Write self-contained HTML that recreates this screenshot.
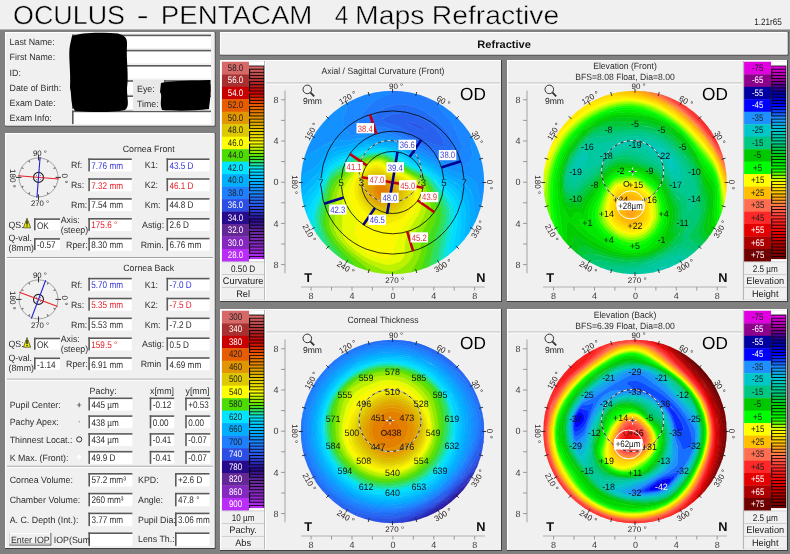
<!DOCTYPE html>
<html><head><meta charset="utf-8"><title>OCULUS - PENTACAM 4 Maps Refractive</title>
<style>html,body{margin:0;padding:0;background:#808080;}body{width:790px;height:554px;overflow:hidden;}
svg{display:block;fill:#2e2e2e;font-family:"Liberation Sans",Arial,sans-serif;font-size:9.1px;}</style></head>
<body><svg width="790" height="554" viewBox="0 0 790 554" text-rendering="geometricPrecision">
<rect x="0.0" y="0.0" width="790.0" height="554.0" fill="#808080"/>
<rect x="0.0" y="0.0" width="790.0" height="29.0" fill="#f0f0f0"/>
<line x1="0.0" y1="29.5" x2="790.0" y2="29.5" stroke="#b4b4b4" stroke-width="1"/>
<text x="13.0" y="24.2" font-size="26" fill="#000" textLength="112.0" lengthAdjust="spacingAndGlyphs" stroke="#f0f0f0" stroke-width="0.45">OCULUS</text>
<text x="136.5" y="24.2" font-size="26" fill="#000" textLength="12.3" lengthAdjust="spacingAndGlyphs" stroke="#f0f0f0" stroke-width="0.45">-</text>
<text x="160.8" y="24.2" font-size="26" fill="#000" textLength="151.6" lengthAdjust="spacingAndGlyphs" stroke="#f0f0f0" stroke-width="0.45">PENTACAM</text>
<text x="334.8" y="24.2" font-size="26" fill="#000" textLength="13.7" lengthAdjust="spacingAndGlyphs" stroke="#f0f0f0" stroke-width="0.45">4</text>
<text x="355.0" y="24.2" font-size="26" fill="#000" textLength="69.4" lengthAdjust="spacingAndGlyphs" stroke="#f0f0f0" stroke-width="0.45">Maps</text>
<text x="431.8" y="24.2" font-size="26" fill="#000" textLength="127.5" lengthAdjust="spacingAndGlyphs" stroke="#f0f0f0" stroke-width="0.45">Refractive</text>
<text x="754.2" y="24.6" font-size="9.4" fill="#222" textLength="27.6" lengthAdjust="spacingAndGlyphs">1.21r65</text>
<rect x="5.0" y="32.0" width="210.5" height="94.5" fill="#404040"/>
<rect x="5.0" y="32.0" width="209.5" height="93.5" fill="#ffffff"/>
<rect x="6.0" y="33.0" width="208.5" height="92.5" fill="#f0f0f0"/>
<text x="9.6" y="45.2" textLength="45.1" lengthAdjust="spacingAndGlyphs">Last Name:</text>
<text x="9.6" y="60.4" textLength="45.6" lengthAdjust="spacingAndGlyphs">First Name:</text>
<text x="9.6" y="75.6" textLength="11.3" lengthAdjust="spacingAndGlyphs">ID:</text>
<text x="9.6" y="90.8" textLength="51.5" lengthAdjust="spacingAndGlyphs">Date of Birth:</text>
<text x="9.6" y="106.0" textLength="46.1" lengthAdjust="spacingAndGlyphs">Exam Date:</text>
<text x="9.6" y="121.2" textLength="42.2" lengthAdjust="spacingAndGlyphs">Exam Info:</text>
<rect x="72.0" y="34.6" width="139.0" height="13.5" fill="#ffffff"/>
<rect x="72.0" y="34.6" width="139.0" height="1.6" fill="#5a5a5a"/>
<rect x="72.0" y="34.6" width="1.6" height="13.5" fill="#5a5a5a"/>
<rect x="72.0" y="49.8" width="139.0" height="13.5" fill="#ffffff"/>
<rect x="72.0" y="49.8" width="139.0" height="1.6" fill="#5a5a5a"/>
<rect x="72.0" y="49.8" width="1.6" height="13.5" fill="#5a5a5a"/>
<rect x="72.0" y="65.0" width="139.0" height="13.5" fill="#ffffff"/>
<rect x="72.0" y="65.0" width="139.0" height="1.6" fill="#5a5a5a"/>
<rect x="72.0" y="65.0" width="1.6" height="13.5" fill="#5a5a5a"/>
<rect x="72.0" y="80.2" width="61.0" height="13.5" fill="#ffffff"/>
<rect x="72.0" y="80.2" width="61.0" height="1.6" fill="#5a5a5a"/>
<rect x="72.0" y="80.2" width="1.6" height="13.5" fill="#5a5a5a"/>
<rect x="72.0" y="95.4" width="61.0" height="13.5" fill="#ffffff"/>
<rect x="72.0" y="95.4" width="61.0" height="1.6" fill="#5a5a5a"/>
<rect x="72.0" y="95.4" width="1.6" height="13.5" fill="#5a5a5a"/>
<rect x="72.0" y="110.6" width="139.0" height="13.5" fill="#ffffff"/>
<rect x="72.0" y="110.6" width="139.0" height="1.6" fill="#5a5a5a"/>
<rect x="72.0" y="110.6" width="1.6" height="13.5" fill="#5a5a5a"/>
<text x="137.0" y="91.5" textLength="17.7" lengthAdjust="spacingAndGlyphs">Eye:</text>
<text x="137.0" y="106.7" textLength="21.7" lengthAdjust="spacingAndGlyphs">Time:</text>
<rect x="133.0" y="80.0" width="31.0" height="31.0" fill="#e8e8e8"/>
<text x="137.0" y="91.5" textLength="17.7" lengthAdjust="spacingAndGlyphs">Eye:</text>
<text x="137.0" y="106.7" textLength="21.7" lengthAdjust="spacingAndGlyphs">Time:</text>
<rect x="164.0" y="80.2" width="47.0" height="13.5" fill="#ffffff"/>
<rect x="164.0" y="80.2" width="47.0" height="1.6" fill="#5a5a5a"/>
<rect x="164.0" y="80.2" width="1.6" height="13.5" fill="#5a5a5a"/>
<rect x="164.0" y="95.4" width="47.0" height="13.5" fill="#ffffff"/>
<rect x="164.0" y="95.4" width="47.0" height="1.6" fill="#5a5a5a"/>
<rect x="164.0" y="95.4" width="1.6" height="13.5" fill="#5a5a5a"/>
<path d="M72 36 C80 33 95 32 110 33 C122 33 128 36 127 45 C126 60 129 75 127 88 C127 100 130 106 125 110 C110 113 90 112 75 111 C70 104 72 95 70 88 C71 70 68 55 70 45 Z" fill="#000"/>
<path d="M161 83 C175 80 195 81 210 80 C212 88 210 100 209 109 C195 111 175 111 162 110 C159 102 163 96 160 92 Z" fill="#000"/>
<rect x="5.0" y="133.0" width="210.5" height="416.0" fill="#404040"/>
<rect x="5.0" y="133.0" width="209.5" height="415.0" fill="#ffffff"/>
<rect x="6.0" y="134.0" width="208.5" height="414.0" fill="#f0f0f0"/>
<line x1="7.0" y1="257.5" x2="213.0" y2="257.5" stroke="#a0a0a0" stroke-width="1"/>
<line x1="7.0" y1="258.5" x2="213.0" y2="258.5" stroke="#ffffff" stroke-width="1"/>
<line x1="7.0" y1="379.2" x2="213.0" y2="379.2" stroke="#a0a0a0" stroke-width="1"/>
<line x1="7.0" y1="380.2" x2="213.0" y2="380.2" stroke="#ffffff" stroke-width="1"/>
<line x1="7.0" y1="466.3" x2="213.0" y2="466.3" stroke="#a0a0a0" stroke-width="1"/>
<line x1="7.0" y1="467.3" x2="213.0" y2="467.3" stroke="#ffffff" stroke-width="1"/>
<circle cx="38.5" cy="177.4" r="19.5" fill="none" stroke="#8c8c8c" stroke-width="0.8"/>
<path d="M55.7 168.6 L54.7 166.9 L52.9 169.1 z" fill="#707070"/>
<path d="M49.0 161.2 L47.3 160.2 L46.8 163.0 z" fill="#707070"/>
<path d="M29.7 160.2 L28.0 161.2 L30.2 163.0 z" fill="#707070"/>
<path d="M22.3 166.9 L21.3 168.6 L24.1 169.1 z" fill="#707070"/>
<path d="M21.3 186.2 L22.3 187.9 L24.1 185.7 z" fill="#707070"/>
<path d="M28.0 193.6 L29.7 194.6 L30.2 191.8 z" fill="#707070"/>
<path d="M47.3 194.6 L49.0 193.6 L46.8 191.8 z" fill="#707070"/>
<path d="M54.7 187.9 L55.7 186.2 L52.9 185.7 z" fill="#707070"/>
<line x1="55.5" y1="177.4" x2="61.0" y2="177.4" stroke="#303030" stroke-width="1"/>
<line x1="38.5" y1="160.4" x2="38.5" y2="154.9" stroke="#303030" stroke-width="1"/>
<line x1="21.5" y1="177.4" x2="16.0" y2="177.4" stroke="#303030" stroke-width="1"/>
<line x1="38.5" y1="194.4" x2="38.5" y2="199.9" stroke="#303030" stroke-width="1"/>
<circle cx="38.5" cy="177.4" r="5" fill="none" stroke="#202020" stroke-width="1.1"/>
<rect x="36.1" y="175.0" width="0.8" height="0.8" fill="#555"/>
<rect x="40.1" y="175.0" width="0.8" height="0.8" fill="#555"/>
<rect x="36.1" y="179.0" width="0.8" height="0.8" fill="#555"/>
<rect x="40.1" y="179.0" width="0.8" height="0.8" fill="#555"/>
<line x1="58.9" y1="179.0" x2="18.1" y2="175.8" stroke="#e8202a" stroke-width="1.1"/>
<line x1="36.9" y1="197.8" x2="40.1" y2="157.0" stroke="#2020d0" stroke-width="1.1"/>
<text x="40.0" y="155.6" font-size="8" text-anchor="middle" fill="#222" textLength="13.9" lengthAdjust="spacingAndGlyphs">90 °</text>
<text x="40.0" y="205.8" font-size="8" text-anchor="middle" fill="#222" textLength="18.2" lengthAdjust="spacingAndGlyphs">270 °</text>
<text x="0" y="0" font-size="8" text-anchor="middle" fill="#222" transform="translate(10.3 178.4) rotate(90)">180 °</text>
<text x="0" y="0" font-size="8" text-anchor="middle" fill="#222" transform="translate(61.5 178.4) rotate(90)">0 °</text>
<text x="148.7" y="152.0" text-anchor="middle" textLength="52.0" lengthAdjust="spacingAndGlyphs">Cornea Front</text>
<rect x="88.3" y="158.4" width="43.5" height="13.0" fill="#ffffff"/>
<rect x="88.3" y="158.4" width="43.5" height="1.6" fill="#5a5a5a"/>
<rect x="88.3" y="158.4" width="1.6" height="13.0" fill="#5a5a5a"/>
<text x="91.3" y="168.7" font-size="9.6" fill="#3535d8" textLength="31.7" lengthAdjust="spacingAndGlyphs">7.76 mm</text>
<text x="71.0" y="168.4" textLength="11.3" lengthAdjust="spacingAndGlyphs">Rf:</text>
<rect x="166.5" y="158.4" width="43.0" height="13.0" fill="#ffffff"/>
<rect x="166.5" y="158.4" width="43.0" height="1.6" fill="#5a5a5a"/>
<rect x="166.5" y="158.4" width="1.6" height="13.0" fill="#5a5a5a"/>
<text x="169.5" y="168.7" font-size="9.6" fill="#3535d8" textLength="24.0" lengthAdjust="spacingAndGlyphs">43.5 D</text>
<text x="144.8" y="168.4" textLength="13.2" lengthAdjust="spacingAndGlyphs">K1:</text>
<rect x="88.3" y="178.2" width="43.5" height="13.0" fill="#ffffff"/>
<rect x="88.3" y="178.2" width="43.5" height="1.6" fill="#5a5a5a"/>
<rect x="88.3" y="178.2" width="1.6" height="13.0" fill="#5a5a5a"/>
<text x="91.3" y="188.6" font-size="9.6" fill="#e8202a" textLength="31.7" lengthAdjust="spacingAndGlyphs">7.32 mm</text>
<text x="71.0" y="188.2" textLength="13.2" lengthAdjust="spacingAndGlyphs">Rs:</text>
<rect x="166.5" y="178.2" width="43.0" height="13.0" fill="#ffffff"/>
<rect x="166.5" y="178.2" width="43.0" height="1.6" fill="#5a5a5a"/>
<rect x="166.5" y="178.2" width="1.6" height="13.0" fill="#5a5a5a"/>
<text x="169.5" y="188.6" font-size="9.6" fill="#e8202a" textLength="24.0" lengthAdjust="spacingAndGlyphs">46.1 D</text>
<text x="144.8" y="188.2" textLength="13.2" lengthAdjust="spacingAndGlyphs">K2:</text>
<rect x="88.3" y="198.1" width="43.5" height="13.0" fill="#ffffff"/>
<rect x="88.3" y="198.1" width="43.5" height="1.6" fill="#5a5a5a"/>
<rect x="88.3" y="198.1" width="1.6" height="13.0" fill="#5a5a5a"/>
<text x="91.3" y="208.4" font-size="9.6" textLength="31.7" lengthAdjust="spacingAndGlyphs">7.54 mm</text>
<text x="71.0" y="208.1" textLength="16.2" lengthAdjust="spacingAndGlyphs">Rm:</text>
<rect x="166.5" y="198.1" width="43.0" height="13.0" fill="#ffffff"/>
<rect x="166.5" y="198.1" width="43.0" height="1.6" fill="#5a5a5a"/>
<rect x="166.5" y="198.1" width="1.6" height="13.0" fill="#5a5a5a"/>
<text x="169.5" y="208.4" font-size="9.6" textLength="24.0" lengthAdjust="spacingAndGlyphs">44.8 D</text>
<text x="144.8" y="208.1" textLength="15.7" lengthAdjust="spacingAndGlyphs">Km:</text>
<rect x="88.3" y="218.0" width="43.5" height="13.0" fill="#ffffff"/>
<rect x="88.3" y="218.0" width="43.5" height="1.6" fill="#5a5a5a"/>
<rect x="88.3" y="218.0" width="1.6" height="13.0" fill="#5a5a5a"/>
<text x="91.3" y="228.3" font-size="9.6" fill="#e8202a" textLength="25.9" lengthAdjust="spacingAndGlyphs">175.6 °</text>
<rect x="166.5" y="218.0" width="43.0" height="13.0" fill="#ffffff"/>
<rect x="166.5" y="218.0" width="43.0" height="1.6" fill="#5a5a5a"/>
<rect x="166.5" y="218.0" width="1.6" height="13.0" fill="#5a5a5a"/>
<text x="169.5" y="228.3" font-size="9.6" textLength="19.5" lengthAdjust="spacingAndGlyphs">2.6 D</text>
<text x="142.0" y="228.0" textLength="22.1" lengthAdjust="spacingAndGlyphs">Astig:</text>
<rect x="88.3" y="237.8" width="43.5" height="13.0" fill="#ffffff"/>
<rect x="88.3" y="237.8" width="43.5" height="1.6" fill="#5a5a5a"/>
<rect x="88.3" y="237.8" width="1.6" height="13.0" fill="#5a5a5a"/>
<text x="91.3" y="248.1" font-size="9.6" textLength="31.7" lengthAdjust="spacingAndGlyphs">8.30 mm</text>
<text x="66.0" y="247.8" textLength="21.6" lengthAdjust="spacingAndGlyphs">Rper:</text>
<rect x="166.5" y="237.8" width="43.0" height="13.0" fill="#ffffff"/>
<rect x="166.5" y="237.8" width="43.0" height="1.6" fill="#5a5a5a"/>
<rect x="166.5" y="237.8" width="1.6" height="13.0" fill="#5a5a5a"/>
<text x="169.5" y="248.1" font-size="9.6" textLength="31.7" lengthAdjust="spacingAndGlyphs">6.76 mm</text>
<text x="140.7" y="247.8" textLength="23.0" lengthAdjust="spacingAndGlyphs">Rmin.</text>
<text x="60.7" y="223.0" textLength="19.1" lengthAdjust="spacingAndGlyphs">Axis:</text>
<text x="60.7" y="233.0" textLength="27.5" lengthAdjust="spacingAndGlyphs">(steep)</text>
<text x="8.5" y="228.0" textLength="15.2" lengthAdjust="spacingAndGlyphs">QS:</text>
<path d="M23.4 227.8 L27 218.2 L30.6 227.8 z" fill="#f0f000" stroke="#303030" stroke-width="0.7" stroke-linejoin="round"/>
<rect x="26.4" y="220.6" width="1.2" height="4.0" fill="#000"/>
<rect x="26.4" y="225.4" width="1.2" height="1.2" fill="#000"/>
<rect x="34.0" y="218.3" width="26.0" height="12.0" fill="#ffffff"/>
<rect x="34.0" y="218.3" width="26.0" height="1.6" fill="#5a5a5a"/>
<rect x="34.0" y="218.3" width="1.6" height="12.0" fill="#5a5a5a"/>
<text x="37.0" y="228.6" font-size="9.6" textLength="11.8" lengthAdjust="spacingAndGlyphs">OK</text>
<text x="8.5" y="241.3" textLength="23.5" lengthAdjust="spacingAndGlyphs">Q-val.</text>
<text x="8.5" y="251.3" textLength="25.5" lengthAdjust="spacingAndGlyphs">(8mm)</text>
<rect x="34.0" y="238.1" width="26.0" height="12.0" fill="#ffffff"/>
<rect x="34.0" y="238.1" width="26.0" height="1.6" fill="#5a5a5a"/>
<rect x="34.0" y="238.1" width="1.6" height="12.0" fill="#5a5a5a"/>
<text x="37.0" y="248.4" font-size="9.6" textLength="18.6" lengthAdjust="spacingAndGlyphs">-0.57</text>
<circle cx="38.5" cy="299.4" r="19.5" fill="none" stroke="#8c8c8c" stroke-width="0.8"/>
<path d="M55.7 290.6 L54.7 288.9 L52.9 291.1 z" fill="#707070"/>
<path d="M49.0 283.2 L47.3 282.2 L46.8 285.0 z" fill="#707070"/>
<path d="M29.7 282.2 L28.0 283.2 L30.2 285.0 z" fill="#707070"/>
<path d="M22.3 288.9 L21.3 290.6 L24.1 291.1 z" fill="#707070"/>
<path d="M21.3 308.2 L22.3 309.9 L24.1 307.7 z" fill="#707070"/>
<path d="M28.0 315.6 L29.7 316.6 L30.2 313.8 z" fill="#707070"/>
<path d="M47.3 316.6 L49.0 315.6 L46.8 313.8 z" fill="#707070"/>
<path d="M54.7 309.9 L55.7 308.2 L52.9 307.7 z" fill="#707070"/>
<line x1="55.5" y1="299.4" x2="61.0" y2="299.4" stroke="#303030" stroke-width="1"/>
<line x1="38.5" y1="282.4" x2="38.5" y2="276.9" stroke="#303030" stroke-width="1"/>
<line x1="21.5" y1="299.4" x2="16.0" y2="299.4" stroke="#303030" stroke-width="1"/>
<line x1="38.5" y1="316.4" x2="38.5" y2="321.9" stroke="#303030" stroke-width="1"/>
<circle cx="38.5" cy="299.4" r="5" fill="none" stroke="#202020" stroke-width="1.1"/>
<rect x="36.1" y="297.0" width="0.8" height="0.8" fill="#555"/>
<rect x="40.1" y="297.0" width="0.8" height="0.8" fill="#555"/>
<rect x="36.1" y="301.0" width="0.8" height="0.8" fill="#555"/>
<rect x="40.1" y="301.0" width="0.8" height="0.8" fill="#555"/>
<line x1="57.7" y1="306.6" x2="19.3" y2="292.2" stroke="#e8202a" stroke-width="1.1"/>
<line x1="31.3" y1="318.6" x2="45.7" y2="280.2" stroke="#2020d0" stroke-width="1.1"/>
<text x="40.0" y="277.6" font-size="8" text-anchor="middle" fill="#222" textLength="13.9" lengthAdjust="spacingAndGlyphs">90 °</text>
<text x="40.0" y="327.8" font-size="8" text-anchor="middle" fill="#222" textLength="18.2" lengthAdjust="spacingAndGlyphs">270 °</text>
<text x="0" y="0" font-size="8" text-anchor="middle" fill="#222" transform="translate(10.3 300.4) rotate(90)">180 °</text>
<text x="0" y="0" font-size="8" text-anchor="middle" fill="#222" transform="translate(61.5 300.4) rotate(90)">0 °</text>
<text x="148.7" y="271.4" text-anchor="middle" textLength="51.0" lengthAdjust="spacingAndGlyphs">Cornea Back</text>
<rect x="88.3" y="277.8" width="43.5" height="13.0" fill="#ffffff"/>
<rect x="88.3" y="277.8" width="43.5" height="1.6" fill="#5a5a5a"/>
<rect x="88.3" y="277.8" width="1.6" height="13.0" fill="#5a5a5a"/>
<text x="91.3" y="288.1" font-size="9.6" fill="#3535d8" textLength="31.7" lengthAdjust="spacingAndGlyphs">5.70 mm</text>
<text x="71.0" y="287.8" textLength="11.3" lengthAdjust="spacingAndGlyphs">Rf:</text>
<rect x="166.5" y="277.8" width="43.0" height="13.0" fill="#ffffff"/>
<rect x="166.5" y="277.8" width="43.0" height="1.6" fill="#5a5a5a"/>
<rect x="166.5" y="277.8" width="1.6" height="13.0" fill="#5a5a5a"/>
<text x="169.5" y="288.1" font-size="9.6" fill="#3535d8" textLength="22.2" lengthAdjust="spacingAndGlyphs">-7.0 D</text>
<text x="144.8" y="287.8" textLength="13.2" lengthAdjust="spacingAndGlyphs">K1:</text>
<rect x="88.3" y="297.7" width="43.5" height="13.0" fill="#ffffff"/>
<rect x="88.3" y="297.7" width="43.5" height="1.6" fill="#5a5a5a"/>
<rect x="88.3" y="297.7" width="1.6" height="13.0" fill="#5a5a5a"/>
<text x="91.3" y="308.0" font-size="9.6" fill="#e8202a" textLength="31.7" lengthAdjust="spacingAndGlyphs">5.35 mm</text>
<text x="71.0" y="307.7" textLength="13.2" lengthAdjust="spacingAndGlyphs">Rs:</text>
<rect x="166.5" y="297.7" width="43.0" height="13.0" fill="#ffffff"/>
<rect x="166.5" y="297.7" width="43.0" height="1.6" fill="#5a5a5a"/>
<rect x="166.5" y="297.7" width="1.6" height="13.0" fill="#5a5a5a"/>
<text x="169.5" y="308.0" font-size="9.6" fill="#e8202a" textLength="22.2" lengthAdjust="spacingAndGlyphs">-7.5 D</text>
<text x="144.8" y="307.7" textLength="13.2" lengthAdjust="spacingAndGlyphs">K2:</text>
<rect x="88.3" y="317.5" width="43.5" height="13.0" fill="#ffffff"/>
<rect x="88.3" y="317.5" width="43.5" height="1.6" fill="#5a5a5a"/>
<rect x="88.3" y="317.5" width="1.6" height="13.0" fill="#5a5a5a"/>
<text x="91.3" y="327.8" font-size="9.6" textLength="31.7" lengthAdjust="spacingAndGlyphs">5.53 mm</text>
<text x="71.0" y="327.5" textLength="16.2" lengthAdjust="spacingAndGlyphs">Rm:</text>
<rect x="166.5" y="317.5" width="43.0" height="13.0" fill="#ffffff"/>
<rect x="166.5" y="317.5" width="43.0" height="1.6" fill="#5a5a5a"/>
<rect x="166.5" y="317.5" width="1.6" height="13.0" fill="#5a5a5a"/>
<text x="169.5" y="327.8" font-size="9.6" textLength="22.2" lengthAdjust="spacingAndGlyphs">-7.2 D</text>
<text x="144.8" y="327.5" textLength="15.7" lengthAdjust="spacingAndGlyphs">Km:</text>
<rect x="88.3" y="337.4" width="43.5" height="13.0" fill="#ffffff"/>
<rect x="88.3" y="337.4" width="43.5" height="1.6" fill="#5a5a5a"/>
<rect x="88.3" y="337.4" width="1.6" height="13.0" fill="#5a5a5a"/>
<text x="91.3" y="347.7" font-size="9.6" fill="#e8202a" textLength="25.9" lengthAdjust="spacingAndGlyphs">159.5 °</text>
<rect x="166.5" y="337.4" width="43.0" height="13.0" fill="#ffffff"/>
<rect x="166.5" y="337.4" width="43.0" height="1.6" fill="#5a5a5a"/>
<rect x="166.5" y="337.4" width="1.6" height="13.0" fill="#5a5a5a"/>
<text x="169.5" y="347.7" font-size="9.6" textLength="19.5" lengthAdjust="spacingAndGlyphs">0.5 D</text>
<text x="142.0" y="347.4" textLength="22.1" lengthAdjust="spacingAndGlyphs">Astig:</text>
<rect x="88.3" y="357.2" width="43.5" height="13.0" fill="#ffffff"/>
<rect x="88.3" y="357.2" width="43.5" height="1.6" fill="#5a5a5a"/>
<rect x="88.3" y="357.2" width="1.6" height="13.0" fill="#5a5a5a"/>
<text x="91.3" y="367.5" font-size="9.6" textLength="31.7" lengthAdjust="spacingAndGlyphs">6.91 mm</text>
<text x="66.0" y="367.2" textLength="21.6" lengthAdjust="spacingAndGlyphs">Rper:</text>
<rect x="166.5" y="357.2" width="43.0" height="13.0" fill="#ffffff"/>
<rect x="166.5" y="357.2" width="43.0" height="1.6" fill="#5a5a5a"/>
<rect x="166.5" y="357.2" width="1.6" height="13.0" fill="#5a5a5a"/>
<text x="169.5" y="367.5" font-size="9.6" textLength="31.7" lengthAdjust="spacingAndGlyphs">4.69 mm</text>
<text x="140.7" y="367.2" textLength="20.6" lengthAdjust="spacingAndGlyphs">Rmin</text>
<text x="60.7" y="342.4" textLength="19.1" lengthAdjust="spacingAndGlyphs">Axis:</text>
<text x="60.7" y="352.4" textLength="27.5" lengthAdjust="spacingAndGlyphs">(steep)</text>
<text x="8.5" y="347.4" textLength="15.2" lengthAdjust="spacingAndGlyphs">QS:</text>
<path d="M23.4 347.2 L27 337.6 L30.6 347.2 z" fill="#f0f000" stroke="#303030" stroke-width="0.7" stroke-linejoin="round"/>
<rect x="26.4" y="340.0" width="1.2" height="4.0" fill="#000"/>
<rect x="26.4" y="344.8" width="1.2" height="1.2" fill="#000"/>
<rect x="34.0" y="337.7" width="26.0" height="12.0" fill="#ffffff"/>
<rect x="34.0" y="337.7" width="26.0" height="1.6" fill="#5a5a5a"/>
<rect x="34.0" y="337.7" width="1.6" height="12.0" fill="#5a5a5a"/>
<text x="37.0" y="348.0" font-size="9.6" textLength="11.8" lengthAdjust="spacingAndGlyphs">OK</text>
<text x="8.5" y="360.7" textLength="23.5" lengthAdjust="spacingAndGlyphs">Q-val.</text>
<text x="8.5" y="370.7" textLength="25.5" lengthAdjust="spacingAndGlyphs">(8mm)</text>
<rect x="34.0" y="357.5" width="26.0" height="12.0" fill="#ffffff"/>
<rect x="34.0" y="357.5" width="26.0" height="1.6" fill="#5a5a5a"/>
<rect x="34.0" y="357.5" width="1.6" height="12.0" fill="#5a5a5a"/>
<text x="37.0" y="367.8" font-size="9.6" textLength="18.6" lengthAdjust="spacingAndGlyphs">-1.14</text>
<text x="89.6" y="394.0" textLength="27.0" lengthAdjust="spacingAndGlyphs">Pachy:</text>
<text x="150.0" y="394.0" textLength="24.0" lengthAdjust="spacingAndGlyphs">x[mm]</text>
<text x="185.5" y="394.0" textLength="24.0" lengthAdjust="spacingAndGlyphs">y[mm]</text>
<text x="9.7" y="407.5" textLength="51.0" lengthAdjust="spacingAndGlyphs">Pupil Center:</text>
<rect x="88.4" y="397.5" width="44.0" height="13.0" fill="#ffffff"/>
<rect x="88.4" y="397.5" width="44.0" height="1.6" fill="#5a5a5a"/>
<rect x="88.4" y="397.5" width="1.6" height="13.0" fill="#5a5a5a"/>
<text x="91.4" y="407.8" font-size="9.6" textLength="27.4" lengthAdjust="spacingAndGlyphs">445 µm</text>
<rect x="149.7" y="397.5" width="24.5" height="13.0" fill="#ffffff"/>
<rect x="149.7" y="397.5" width="24.5" height="1.6" fill="#5a5a5a"/>
<rect x="149.7" y="397.5" width="1.6" height="13.0" fill="#5a5a5a"/>
<text x="152.7" y="407.8" font-size="9.6" textLength="18.6" lengthAdjust="spacingAndGlyphs">-0.12</text>
<rect x="185.2" y="397.5" width="25.0" height="13.0" fill="#ffffff"/>
<rect x="185.2" y="397.5" width="25.0" height="1.6" fill="#5a5a5a"/>
<rect x="185.2" y="397.5" width="1.6" height="13.0" fill="#5a5a5a"/>
<text x="188.2" y="407.8" font-size="9.6" textLength="20.6" lengthAdjust="spacingAndGlyphs">+0.53</text>
<text x="9.7" y="425.3" textLength="49.1" lengthAdjust="spacingAndGlyphs">Pachy Apex:</text>
<rect x="88.4" y="415.3" width="44.0" height="13.0" fill="#ffffff"/>
<rect x="88.4" y="415.3" width="44.0" height="1.6" fill="#5a5a5a"/>
<rect x="88.4" y="415.3" width="1.6" height="13.0" fill="#5a5a5a"/>
<text x="91.4" y="425.6" font-size="9.6" textLength="27.4" lengthAdjust="spacingAndGlyphs">438 µm</text>
<rect x="149.7" y="415.3" width="24.5" height="13.0" fill="#ffffff"/>
<rect x="149.7" y="415.3" width="24.5" height="1.6" fill="#5a5a5a"/>
<rect x="149.7" y="415.3" width="1.6" height="13.0" fill="#5a5a5a"/>
<text x="152.7" y="425.6" font-size="9.6" textLength="15.9" lengthAdjust="spacingAndGlyphs">0.00</text>
<rect x="185.2" y="415.3" width="25.0" height="13.0" fill="#ffffff"/>
<rect x="185.2" y="415.3" width="25.0" height="1.6" fill="#5a5a5a"/>
<rect x="185.2" y="415.3" width="1.6" height="13.0" fill="#5a5a5a"/>
<text x="188.2" y="425.6" font-size="9.6" textLength="15.9" lengthAdjust="spacingAndGlyphs">0.00</text>
<text x="9.7" y="443.1" textLength="62.8" lengthAdjust="spacingAndGlyphs">Thinnest Locat.:</text>
<rect x="88.4" y="433.1" width="44.0" height="13.0" fill="#ffffff"/>
<rect x="88.4" y="433.1" width="44.0" height="1.6" fill="#5a5a5a"/>
<rect x="88.4" y="433.1" width="1.6" height="13.0" fill="#5a5a5a"/>
<text x="91.4" y="443.4" font-size="9.6" textLength="27.4" lengthAdjust="spacingAndGlyphs">434 µm</text>
<rect x="149.7" y="433.1" width="24.5" height="13.0" fill="#ffffff"/>
<rect x="149.7" y="433.1" width="24.5" height="1.6" fill="#5a5a5a"/>
<rect x="149.7" y="433.1" width="1.6" height="13.0" fill="#5a5a5a"/>
<text x="152.7" y="443.4" font-size="9.6" textLength="18.6" lengthAdjust="spacingAndGlyphs">-0.41</text>
<rect x="185.2" y="433.1" width="25.0" height="13.0" fill="#ffffff"/>
<rect x="185.2" y="433.1" width="25.0" height="1.6" fill="#5a5a5a"/>
<rect x="185.2" y="433.1" width="1.6" height="13.0" fill="#5a5a5a"/>
<text x="188.2" y="443.4" font-size="9.6" textLength="18.6" lengthAdjust="spacingAndGlyphs">-0.07</text>
<text x="9.7" y="460.9" textLength="58.8" lengthAdjust="spacingAndGlyphs">K Max. (Front):</text>
<rect x="88.4" y="450.9" width="44.0" height="13.0" fill="#ffffff"/>
<rect x="88.4" y="450.9" width="44.0" height="1.6" fill="#5a5a5a"/>
<rect x="88.4" y="450.9" width="1.6" height="13.0" fill="#5a5a5a"/>
<text x="91.4" y="461.2" font-size="9.6" textLength="24.0" lengthAdjust="spacingAndGlyphs">49.9 D</text>
<rect x="149.7" y="450.9" width="24.5" height="13.0" fill="#ffffff"/>
<rect x="149.7" y="450.9" width="24.5" height="1.6" fill="#5a5a5a"/>
<rect x="149.7" y="450.9" width="1.6" height="13.0" fill="#5a5a5a"/>
<text x="152.7" y="461.2" font-size="9.6" textLength="18.6" lengthAdjust="spacingAndGlyphs">-0.41</text>
<rect x="185.2" y="450.9" width="25.0" height="13.0" fill="#ffffff"/>
<rect x="185.2" y="450.9" width="25.0" height="1.6" fill="#5a5a5a"/>
<rect x="185.2" y="450.9" width="1.6" height="13.0" fill="#5a5a5a"/>
<text x="188.2" y="461.2" font-size="9.6" textLength="18.6" lengthAdjust="spacingAndGlyphs">-0.07</text>
<text x="79.2" y="407.5" font-size="9" text-anchor="middle" fill="#111">+</text>
<rect x="78.7" y="421.3" width="1.0" height="1.0" fill="#666"/>
<circle cx="79.2" cy="439.4" r="2.6" fill="none" stroke="#222" stroke-width="0.9"/>
<path d="M79.2 454.4 l2.5 2.5 l-2.5 2.5 l-2.5 -2.5 z" fill="#ffffff"/>
<text x="9.7" y="483.0" textLength="63.3" lengthAdjust="spacingAndGlyphs">Cornea Volume:</text>
<rect x="88.4" y="473.0" width="44.0" height="13.5" fill="#ffffff"/>
<rect x="88.4" y="473.0" width="44.0" height="1.6" fill="#5a5a5a"/>
<rect x="88.4" y="473.0" width="1.6" height="13.5" fill="#5a5a5a"/>
<text x="91.4" y="483.3" font-size="9.6" textLength="34.5" lengthAdjust="spacingAndGlyphs">57.2 mm³</text>
<text x="138.0" y="483.0" textLength="20.6" lengthAdjust="spacingAndGlyphs">KPD:</text>
<rect x="175.0" y="473.0" width="34.5" height="13.5" fill="#ffffff"/>
<rect x="175.0" y="473.0" width="34.5" height="1.6" fill="#5a5a5a"/>
<rect x="175.0" y="473.0" width="1.6" height="13.5" fill="#5a5a5a"/>
<text x="178.0" y="483.3" font-size="9.6" textLength="24.3" lengthAdjust="spacingAndGlyphs">+2.6 D</text>
<text x="9.7" y="502.8" textLength="70.6" lengthAdjust="spacingAndGlyphs">Chamber Volume:</text>
<rect x="88.4" y="492.8" width="44.0" height="13.5" fill="#ffffff"/>
<rect x="88.4" y="492.8" width="44.0" height="1.6" fill="#5a5a5a"/>
<rect x="88.4" y="492.8" width="1.6" height="13.5" fill="#5a5a5a"/>
<text x="91.4" y="503.1" font-size="9.6" textLength="32.2" lengthAdjust="spacingAndGlyphs">260 mm³</text>
<text x="138.0" y="502.8" textLength="25.0" lengthAdjust="spacingAndGlyphs">Angle:</text>
<rect x="175.0" y="492.8" width="34.5" height="13.5" fill="#ffffff"/>
<rect x="175.0" y="492.8" width="34.5" height="1.6" fill="#5a5a5a"/>
<rect x="175.0" y="492.8" width="1.6" height="13.5" fill="#5a5a5a"/>
<text x="178.0" y="503.1" font-size="9.6" textLength="21.4" lengthAdjust="spacingAndGlyphs">47.8 °</text>
<text x="9.7" y="522.6" textLength="68.7" lengthAdjust="spacingAndGlyphs">A. C. Depth (Int.):</text>
<rect x="88.4" y="512.6" width="44.0" height="13.5" fill="#ffffff"/>
<rect x="88.4" y="512.6" width="44.0" height="1.6" fill="#5a5a5a"/>
<rect x="88.4" y="512.6" width="1.6" height="13.5" fill="#5a5a5a"/>
<text x="91.4" y="522.9" font-size="9.6" textLength="31.7" lengthAdjust="spacingAndGlyphs">3.77 mm</text>
<text x="138.0" y="522.6" textLength="37.8" lengthAdjust="spacingAndGlyphs">Pupil Dia:</text>
<rect x="175.0" y="512.6" width="34.5" height="13.5" fill="#ffffff"/>
<rect x="175.0" y="512.6" width="34.5" height="1.6" fill="#5a5a5a"/>
<rect x="175.0" y="512.6" width="1.6" height="13.5" fill="#5a5a5a"/>
<text x="178.0" y="522.9" font-size="9.6" textLength="31.7" lengthAdjust="spacingAndGlyphs">3.06 mm</text>
<rect x="88.4" y="532.4" width="44.0" height="13.5" fill="#ffffff"/>
<rect x="88.4" y="532.4" width="44.0" height="1.6" fill="#5a5a5a"/>
<rect x="88.4" y="532.4" width="1.6" height="13.5" fill="#5a5a5a"/>
<text x="91.4" y="542.7" font-size="9.6"></text>
<text x="138.0" y="542.4" textLength="36.6" lengthAdjust="spacingAndGlyphs">Lens Th.:</text>
<rect x="175.0" y="532.4" width="34.5" height="13.5" fill="#ffffff"/>
<rect x="175.0" y="532.4" width="34.5" height="1.6" fill="#5a5a5a"/>
<rect x="175.0" y="532.4" width="1.6" height="13.5" fill="#5a5a5a"/>
<text x="178.0" y="542.7" font-size="9.6"></text>
<rect x="9.3" y="533.0" width="42.0" height="12.5" fill="#404040"/>
<rect x="9.3" y="533.0" width="41.0" height="11.5" fill="#ffffff"/>
<rect x="10.3" y="534.0" width="40.0" height="10.5" fill="#f0f0f0"/>
<line x1="10.3" y1="544.0" x2="50.3" y2="544.0" stroke="#a0a0a0" stroke-width="1"/>
<text x="30.3" y="542.5" text-anchor="middle" textLength="38.8" lengthAdjust="spacingAndGlyphs">Enter IOP</text>
<text x="53.8" y="542.5" textLength="36.3" lengthAdjust="spacingAndGlyphs">IOP(Sum</text>
<rect x="220.0" y="32.0" width="568.5" height="23.5" fill="#404040"/>
<rect x="220.0" y="32.0" width="567.5" height="22.5" fill="#ffffff"/>
<rect x="221.0" y="33.0" width="566.5" height="21.5" fill="#f0f0f0"/>
<text x="477.3" y="47.8" font-size="10.8" font-weight="bold" fill="#111" textLength="53.6" lengthAdjust="spacingAndGlyphs">Refractive</text>
<rect x="220.0" y="60.0" width="282.0" height="242.0" fill="#404040"/>
<rect x="220.0" y="60.0" width="281.0" height="241.0" fill="#ffffff"/>
<rect x="221.0" y="61.0" width="280.0" height="240.0" fill="#f0f0f0"/>
<line x1="264.5" y1="61.0" x2="264.5" y2="300.0" stroke="#a8a8a8" stroke-width="1"/>
<line x1="265.5" y1="61.0" x2="265.5" y2="300.0" stroke="#ffffff" stroke-width="1"/>
<rect x="222.0" y="61.8" width="27.0" height="12.8" fill="#d66868"/>
<text x="235.5" y="70.9" font-size="9.5" text-anchor="middle" fill="#222222" textLength="15.3" lengthAdjust="spacingAndGlyphs">58.0</text>
<rect x="222.0" y="74.3" width="27.0" height="12.8" fill="#a83030"/>
<text x="235.5" y="83.4" font-size="9.5" text-anchor="middle" fill="#ffffff" textLength="15.3" lengthAdjust="spacingAndGlyphs">56.0</text>
<rect x="222.0" y="86.8" width="27.0" height="12.8" fill="#c80000"/>
<text x="235.5" y="95.9" font-size="9.5" text-anchor="middle" fill="#ffffff" textLength="15.3" lengthAdjust="spacingAndGlyphs">54.0</text>
<rect x="222.0" y="99.2" width="27.0" height="12.8" fill="#e85c00"/>
<text x="235.5" y="108.3" font-size="9.5" text-anchor="middle" fill="#222222" textLength="15.3" lengthAdjust="spacingAndGlyphs">52.0</text>
<rect x="222.0" y="111.7" width="27.0" height="12.8" fill="#e29600"/>
<text x="235.5" y="120.8" font-size="9.5" text-anchor="middle" fill="#222222" textLength="15.3" lengthAdjust="spacingAndGlyphs">50.0</text>
<rect x="222.0" y="124.2" width="27.0" height="12.8" fill="#dec800"/>
<text x="235.5" y="133.3" font-size="9.5" text-anchor="middle" fill="#222222" textLength="15.3" lengthAdjust="spacingAndGlyphs">48.0</text>
<rect x="222.0" y="136.7" width="27.0" height="12.8" fill="#ffff00"/>
<text x="235.5" y="145.8" font-size="9.5" text-anchor="middle" fill="#222222" textLength="15.3" lengthAdjust="spacingAndGlyphs">46.0</text>
<rect x="222.0" y="149.2" width="27.0" height="12.8" fill="#4cdc00"/>
<text x="235.5" y="158.3" font-size="9.5" text-anchor="middle" fill="#222222" textLength="15.3" lengthAdjust="spacingAndGlyphs">44.0</text>
<rect x="222.0" y="161.6" width="27.0" height="12.8" fill="#00e4ff"/>
<text x="235.5" y="170.7" font-size="9.5" text-anchor="middle" fill="#222222" textLength="15.3" lengthAdjust="spacingAndGlyphs">42.0</text>
<rect x="222.0" y="174.1" width="27.0" height="12.8" fill="#00b0ff"/>
<text x="235.5" y="183.2" font-size="9.5" text-anchor="middle" fill="#222222" textLength="15.3" lengthAdjust="spacingAndGlyphs">40.0</text>
<rect x="222.0" y="186.6" width="27.0" height="12.8" fill="#1e80ff"/>
<text x="235.5" y="195.7" font-size="9.5" text-anchor="middle" fill="#222222" textLength="15.3" lengthAdjust="spacingAndGlyphs">38.0</text>
<rect x="222.0" y="199.1" width="27.0" height="12.8" fill="#2c4ee4"/>
<text x="235.5" y="208.2" font-size="9.5" text-anchor="middle" fill="#ffffff" textLength="15.3" lengthAdjust="spacingAndGlyphs">36.0</text>
<rect x="222.0" y="211.6" width="27.0" height="12.8" fill="#280a8c"/>
<text x="235.5" y="220.7" font-size="9.5" text-anchor="middle" fill="#ffffff" textLength="15.3" lengthAdjust="spacingAndGlyphs">34.0</text>
<rect x="222.0" y="224.0" width="27.0" height="12.8" fill="#642896"/>
<text x="235.5" y="233.1" font-size="9.5" text-anchor="middle" fill="#ffffff" textLength="15.3" lengthAdjust="spacingAndGlyphs">32.0</text>
<rect x="222.0" y="236.5" width="27.0" height="12.8" fill="#8428c0"/>
<text x="235.5" y="245.6" font-size="9.5" text-anchor="middle" fill="#ffffff" textLength="15.3" lengthAdjust="spacingAndGlyphs">30.0</text>
<rect x="222.0" y="249.0" width="27.0" height="12.8" fill="#ba2cfa"/>
<text x="235.5" y="258.1" font-size="9.5" text-anchor="middle" fill="#ffffff" textLength="15.3" lengthAdjust="spacingAndGlyphs">28.0</text>
<rect x="249.0" y="61.8" width="15.2" height="199.7" fill="#ffffff"/>
<rect x="249.0" y="65.6" width="15.2" height="193.4" fill="#000000"/>
<rect x="249.0" y="66.4" width="14.6" height="2.3" fill="#d66868"/>
<rect x="250.1" y="69.6" width="13.5" height="2.3" fill="#cb5a5a"/>
<rect x="250.1" y="72.7" width="13.5" height="2.3" fill="#bf4c4c"/>
<rect x="250.1" y="75.8" width="13.5" height="2.3" fill="#b43f3f"/>
<rect x="249.0" y="78.9" width="14.6" height="2.3" fill="#a93131"/>
<rect x="250.1" y="82.0" width="13.5" height="2.3" fill="#af2525"/>
<rect x="250.1" y="85.2" width="13.5" height="2.3" fill="#b71919"/>
<rect x="250.1" y="88.3" width="13.5" height="2.3" fill="#bf0d0d"/>
<rect x="249.0" y="91.4" width="14.6" height="2.3" fill="#c70202"/>
<rect x="250.1" y="94.5" width="13.5" height="2.3" fill="#cf1400"/>
<rect x="250.1" y="97.6" width="13.5" height="2.3" fill="#d72a00"/>
<rect x="250.1" y="100.8" width="13.5" height="2.3" fill="#df4100"/>
<rect x="249.0" y="103.9" width="14.6" height="2.3" fill="#e65700"/>
<rect x="250.1" y="107.0" width="13.5" height="2.3" fill="#e76700"/>
<rect x="250.1" y="110.1" width="13.5" height="2.3" fill="#e57600"/>
<rect x="250.1" y="113.2" width="13.5" height="2.3" fill="#e48400"/>
<rect x="249.0" y="116.4" width="14.6" height="2.3" fill="#e29200"/>
<rect x="250.1" y="119.5" width="13.5" height="2.3" fill="#e19f00"/>
<rect x="250.1" y="122.6" width="13.5" height="2.3" fill="#e0ab00"/>
<rect x="250.1" y="125.7" width="13.5" height="2.3" fill="#dfb800"/>
<rect x="249.0" y="128.8" width="14.6" height="2.3" fill="#dec400"/>
<rect x="250.1" y="132.0" width="13.5" height="2.3" fill="#e3d100"/>
<rect x="250.1" y="135.1" width="13.5" height="2.3" fill="#ecdf00"/>
<rect x="250.1" y="138.2" width="13.5" height="2.3" fill="#f4ec00"/>
<rect x="249.0" y="141.3" width="14.6" height="2.3" fill="#fcfa00"/>
<rect x="250.1" y="144.4" width="13.5" height="2.3" fill="#e5fa00"/>
<rect x="250.1" y="147.6" width="13.5" height="2.3" fill="#b9f100"/>
<rect x="250.1" y="150.7" width="13.5" height="2.3" fill="#8de900"/>
<rect x="249.0" y="153.8" width="14.6" height="2.3" fill="#61e000"/>
<rect x="250.1" y="156.9" width="13.5" height="2.3" fill="#42dd21"/>
<rect x="250.1" y="160.0" width="13.5" height="2.3" fill="#2fdf60"/>
<rect x="250.1" y="163.2" width="13.5" height="2.3" fill="#1de19f"/>
<rect x="249.0" y="166.3" width="14.6" height="2.3" fill="#0ae3de"/>
<rect x="250.1" y="169.4" width="13.5" height="2.3" fill="#00deff"/>
<rect x="250.1" y="172.5" width="13.5" height="2.3" fill="#00d1ff"/>
<rect x="250.1" y="175.7" width="13.5" height="2.3" fill="#00c4ff"/>
<rect x="249.0" y="178.8" width="14.6" height="2.3" fill="#00b8ff"/>
<rect x="250.1" y="181.9" width="13.5" height="2.3" fill="#03abff"/>
<rect x="250.1" y="185.0" width="13.5" height="2.3" fill="#0a9fff"/>
<rect x="250.1" y="188.1" width="13.5" height="2.3" fill="#1294ff"/>
<rect x="249.0" y="191.2" width="14.6" height="2.3" fill="#1988ff"/>
<rect x="250.1" y="194.4" width="13.5" height="2.3" fill="#1f7cfd"/>
<rect x="250.1" y="197.5" width="13.5" height="2.3" fill="#2370f6"/>
<rect x="250.1" y="200.6" width="13.5" height="2.3" fill="#2663f0"/>
<rect x="249.0" y="203.7" width="14.6" height="2.3" fill="#2957e9"/>
<rect x="250.1" y="206.8" width="13.5" height="2.3" fill="#2c4ade"/>
<rect x="250.1" y="210.0" width="13.5" height="2.3" fill="#2b39c9"/>
<rect x="250.1" y="213.1" width="13.5" height="2.3" fill="#2a28b3"/>
<rect x="249.0" y="216.2" width="14.6" height="2.3" fill="#29179d"/>
<rect x="250.1" y="219.3" width="13.5" height="2.3" fill="#2b0b8c"/>
<rect x="250.1" y="222.4" width="13.5" height="2.3" fill="#3a138f"/>
<rect x="250.1" y="225.6" width="13.5" height="2.3" fill="#481a91"/>
<rect x="249.0" y="228.7" width="14.6" height="2.3" fill="#572294"/>
<rect x="250.1" y="231.8" width="13.5" height="2.3" fill="#652897"/>
<rect x="250.1" y="234.9" width="13.5" height="2.3" fill="#6d28a2"/>
<rect x="250.1" y="238.0" width="13.5" height="2.3" fill="#7528ac"/>
<rect x="249.0" y="241.2" width="14.6" height="2.3" fill="#7d28b6"/>
<rect x="250.1" y="244.3" width="13.5" height="2.3" fill="#8528c1"/>
<rect x="250.1" y="247.4" width="13.5" height="2.3" fill="#9229cf"/>
<rect x="250.1" y="250.5" width="13.5" height="2.3" fill="#9f2add"/>
<rect x="249.0" y="253.7" width="14.6" height="2.3" fill="#ad2bec"/>
<rect x="250.1" y="256.8" width="13.5" height="2.3" fill="#ba2cfa"/>
<rect x="222.0" y="261.5" width="42.2" height="12.8" fill="#c8c8c8"/>
<rect x="222.0" y="262.3" width="42.2" height="11.9" fill="#f0f0f0"/>
<text x="243.1" y="271.5" font-size="9.5" text-anchor="middle" fill="#222" textLength="24.1" lengthAdjust="spacingAndGlyphs">0.50 D</text>
<rect x="222.0" y="274.2" width="42.2" height="12.8" fill="#c8c8c8"/>
<rect x="222.0" y="275.0" width="42.2" height="11.9" fill="#f0f0f0"/>
<text x="243.1" y="284.2" font-size="9.5" text-anchor="middle" fill="#222" textLength="40.5" lengthAdjust="spacingAndGlyphs">Curvature</text>
<rect x="222.0" y="287.0" width="42.2" height="12.8" fill="#c8c8c8"/>
<rect x="222.0" y="287.8" width="42.2" height="11.9" fill="#f0f0f0"/>
<text x="243.1" y="297.0" font-size="9.5" text-anchor="middle" fill="#222" textLength="13.8" lengthAdjust="spacingAndGlyphs">Rel</text>
<text x="383.0" y="74.0" text-anchor="middle" textLength="122.8" lengthAdjust="spacingAndGlyphs">Axial / Sagittal Curvature (Front)</text>
<line x1="266.0" y1="83.0" x2="500.0" y2="83.0" stroke="#b8b8b8" stroke-width="1.2"/>
<line x1="266.0" y1="84.1" x2="500.0" y2="84.1" stroke="#ffffff" stroke-width="0.8"/>
<line x1="285.0" y1="90.5" x2="285.0" y2="273.3" stroke="#b0b0b0" stroke-width="1.2"/>
<line x1="281.0" y1="99.8" x2="285.0" y2="99.8" stroke="#909090" stroke-width="0.9"/>
<text x="278.5" y="103.0" font-size="9" text-anchor="end" fill="#3a3a3a">8</text>
<line x1="281.0" y1="120.4" x2="285.0" y2="120.4" stroke="#909090" stroke-width="0.9"/>
<line x1="281.0" y1="141.0" x2="285.0" y2="141.0" stroke="#909090" stroke-width="0.9"/>
<text x="278.5" y="144.2" font-size="9" text-anchor="end" fill="#3a3a3a">4</text>
<line x1="281.0" y1="161.6" x2="285.0" y2="161.6" stroke="#909090" stroke-width="0.9"/>
<line x1="281.0" y1="182.2" x2="285.0" y2="182.2" stroke="#909090" stroke-width="0.9"/>
<text x="278.5" y="185.4" font-size="9" text-anchor="end" fill="#3a3a3a">0</text>
<line x1="281.0" y1="202.8" x2="285.0" y2="202.8" stroke="#909090" stroke-width="0.9"/>
<line x1="281.0" y1="223.4" x2="285.0" y2="223.4" stroke="#909090" stroke-width="0.9"/>
<text x="278.5" y="226.6" font-size="9" text-anchor="end" fill="#3a3a3a">4</text>
<line x1="281.0" y1="244.0" x2="285.0" y2="244.0" stroke="#909090" stroke-width="0.9"/>
<line x1="281.0" y1="264.6" x2="285.0" y2="264.6" stroke="#909090" stroke-width="0.9"/>
<text x="278.5" y="267.8" font-size="9" text-anchor="end" fill="#3a3a3a">8</text>
<line x1="301.0" y1="287.0" x2="485.0" y2="287.0" stroke="#b0b0b0" stroke-width="1.2"/>
<line x1="311.1" y1="287.0" x2="311.1" y2="290.5" stroke="#909090" stroke-width="0.9"/>
<text x="311.1" y="299.3" font-size="9" text-anchor="middle" fill="#3a3a3a">8</text>
<line x1="331.5" y1="287.0" x2="331.5" y2="290.5" stroke="#909090" stroke-width="0.9"/>
<line x1="352.0" y1="287.0" x2="352.0" y2="290.5" stroke="#909090" stroke-width="0.9"/>
<text x="352.0" y="299.3" font-size="9" text-anchor="middle" fill="#3a3a3a">4</text>
<line x1="372.4" y1="287.0" x2="372.4" y2="290.5" stroke="#909090" stroke-width="0.9"/>
<line x1="392.9" y1="287.0" x2="392.9" y2="290.5" stroke="#909090" stroke-width="0.9"/>
<text x="392.9" y="299.3" font-size="9" text-anchor="middle" fill="#3a3a3a">0</text>
<line x1="413.3" y1="287.0" x2="413.3" y2="290.5" stroke="#909090" stroke-width="0.9"/>
<line x1="433.8" y1="287.0" x2="433.8" y2="290.5" stroke="#909090" stroke-width="0.9"/>
<text x="433.8" y="299.3" font-size="9" text-anchor="middle" fill="#3a3a3a">4</text>
<line x1="454.2" y1="287.0" x2="454.2" y2="290.5" stroke="#909090" stroke-width="0.9"/>
<line x1="474.7" y1="287.0" x2="474.7" y2="290.5" stroke="#909090" stroke-width="0.9"/>
<text x="474.7" y="299.3" font-size="9" text-anchor="middle" fill="#3a3a3a">8</text>
<text x="304.3" y="281.8" font-size="12.8" font-weight="bold" fill="#111">T</text>
<text x="476.2" y="281.8" font-size="12.8" font-weight="bold" fill="#111">N</text>
<text x="460.0" y="99.8" font-size="17.6" fill="#000" textLength="25.8" lengthAdjust="spacingAndGlyphs">OD</text>
<circle cx="307.3" cy="89.4" r="4.3" fill="none" stroke="#333" stroke-width="1"/>
<line x1="310.3" y1="92.4" x2="314.2" y2="96.3" stroke="#333" stroke-width="1.8"/>
<text x="312.5" y="103.7" font-size="8.8" text-anchor="middle" fill="#222" textLength="19.0" lengthAdjust="spacingAndGlyphs">9mm</text>
<clipPath id="c220_60"><circle cx="392.5" cy="182.5" r="91.7"/></clipPath>
<g clip-path="url(#c220_60)"><g transform="translate(392.5 182.5) scale(0.5)" stroke-width="1.2" stroke-linejoin="round">
<path fill="#2a54e7" stroke="#2a54e7" d="M30 -122l13 3 7 3 10 5 6 6-1 1-3 0-10-4-22-11-1-3z"/>
<path fill="#2761ee" stroke="#2761ee" d="M5 -138l17-1 16 3 16 6 16 9 14 11 11 13 6 13 2 8-1 3-5 1-38-12-11-5-24-16-10-6-11-4-23-7-2-2 6-6 11-5zM29 -122l1 3 22 11 10 4 3 0 1-1-6-6-10-5-9-4z"/>
<path fill="#236df5" stroke="#236df5" d="M0 -154l11-2 11 0 21 4 22 10 21 16 18 18 8 11 4 8 3 11 0 8-2 8-4 5-5 1-40-14-52-28-19-9-16-4-24-3-5-2 0-3 4-8 12-12 16-10zM4 -138l-12 4-9 4-5 6 2 2 23 7 11 4 10 6 24 16 11 5 38 12 5-1 1-3-2-8-6-13-11-13-14-11-16-9-19-6-16-3z"/>
<path fill="#207afc" stroke="#207afc" d="M3 -189l105 0-16 30-1 5 3 6 17 19 9 13 7 13 6 14 4 13 0 11-2 8-7 8-8 6-7 0-35-15-29-14-33-19-21-8-25-6-32 0-5-1-2-2 0-5 2-11 5-11 10-13 9-9 11-8 29-13 3-3 0-8zM-2 -154l-17 6-13 9-12 12-4 8 0 3 5 2 24 3 16 4 19 9 52 28 40 14 5-1 4-5 2-8 0-8-3-11-4-8-8-11-18-18-21-16-22-10-21-4-11 0z"/>
<path fill="#1a86ff" stroke="#1a86ff" d="M-108 -189l108 0 0 8-3 3-32 15-11 8-8 9-8 11-5 11-2 11 0 5 2 2 5 1 19 0 16 1 27 7 19 8 30 17 27 13 37 16 6 0 3-1 8-7 6-8 1-11-1-8-3-11-8-19-12-17-19-23-3-6 1-5 16-30 81 0 0 81-27 15-5 4-1 5 4 27-2 8-4 9-6 4-5 2-19 3-5-1-68-31-35-21-16-7-19-4-19-2-19 0-21 3-6-1-3-2-7-11-3-5-2-9 1-10 7-19 0-6-15-27z"/>
<path fill="#1392ff" stroke="#1392ff" d="M-186 -189l78 0 17 32 0 6-7 19-1 10 2 9 3 5 7 11 3 2 6 1 21-3 19 0 19 2 19 4 16 7 35 21 68 31 5 1 19-3 5-2 6-4 4-9 2-8-4-27 1-5 5-4 27-15 0 178-5-2-2-3-12-54-4-11-7-7-18-9-22-6-41-22-32-15-30-18-16-7-19-4-21-2-22 1-30 6-13-2-8 0-9 3-26 14-19 12-22 5 0-138z"/>
<path fill="#0b9eff" stroke="#0b9eff" d="M-57 -89l17-1 13 1 16 2 14 4 13 6 33 19 29 14 41 22 22 6 18 9 7 7 4 11 12 54 2 3 5 2 0 38-16-8-4-6-5-24-1-27-2-13-5-14-10-13-8-7-16-7-22-13-19-13-31-14-36-21-14-6-27-4-22-1-24 4-27 7-16 2-8 5-6 4-21 27-25 18-13 7 0-42 22-5 19-12 32-16 8-1 16 2z"/>
<path fill="#04aaff" stroke="#04aaff" d="M-62 -81l16-2 16 0 22 3 16 5 43 24 30 14 19 13 22 13 13 6 8 5 11 14 6 13 3 16 2 30 4 21 4 6 16 8 0 30-27-19-5-6-4-24 1-30-1-16-6-19-9-13-8-8-30-19-19-15-32-16-35-20-11-5-17-3-26-2-11 0-35 8-30 9-8 5-8 8-7 9-9 18-6 7-24 22-11 6 0-24 13-7 25-18 5-6 14-18 8-7 11-5 13-2z"/>
<path fill="#00b6ff" stroke="#00b6ff" d="M-59 -76l16-1 29 2 11 2 11 4 38 21 35 17 19 15 36 24 10 14 3 8 4 11 1 18-1 30 4 24 5 6 27 19 0 30-5-4-33-29-5-6-3-24 3-35-1-19-5-19-8-14-10-10-22-17-19-16-38-19-32-19-11-5-16-3-33-1-8 1-40 12-22 9-8 6-8 10-5 10-8 18-6 8-11 11-11 14-13 10 0-22 11-6 27-24 13-25 11-13 5-4 9-4 24-7z"/>
<path fill="#00c4ff" stroke="#00c4ff" d="M-62 -70l13-2 33 1 11 2 8 2 38 21 40 21 19 16 16 12 12 11 7 8 4 8 6 19 1 21-3 35 3 24 5 6 33 29 5 4 0 21-12 0-4-5-35-38-4-6-1-24 4-38 0-21-3-19-4-8-5-8-11-11-14-12-12-13-10-7-13-8-27-13-33-19-8-4-16-3-40 2-44 15-16 8-8 7-7 9-5 11-12 28-12 15-10 17-11 12-5 3 0-22 13-10 11-13 14-15 13-28 11-15 8-6 8-4z"/>
<path fill="#00d0ff" stroke="#00d0ff" d="M-24 -68l13 1 11 4 38 21 36 18 12 9 14 14 14 12 11 11 5 8 4 8 3 19 0 21-4 38 1 24 4 6 35 38 4 5-26 0-28-38-1-24 7-43 1-22-3-19-3-8-5-8-7-8-12-12-14-16-12-10-12-7-24-11-38-22-8-3-16-3-38 3-43 18-14 8-8 8-8 12-13 36-12 18-10 25-8 13-6 3-5 2 0-22 5-3 11-12 10-17 12-15 14-34 7-10 6-7 8-6 8-4 43-16 11-2z"/>
<path fill="#00deff" stroke="#00deff" d="M-59 -62l37-3 11 2 8 3 38 22 27 12 12 7 12 10 14 16 17 17 6 8 3 9 3 10 1 11-1 22-6 40-1 24 2 6 24 30 3 5-23 0-15-24-3-6 2-27 8-43 2-21-1-19-3-8-4-9-28-35-15-13-12-7-21-9-41-24-11-5-16 0-35 4-43 21-14 9-6 8-6 11-12 36-9 18-3 11-3 19-7 18-5 6-16 8 0-27 5-2 6-4 9-13 9-24 12-18 12-34 8-13 8-8 9-6 25-10 16-8z"/>
<path fill="#0ae3df" stroke="#0ae3df" d="M-46 -60l22-2 14 3 7 3 41 24 27 12 10 6 8 9 30 37 7 14 2 11 0 11-2 21-8 43-2 27 3 6 15 24-20 0-10-22 3-27 14-70 0-11-1-8-6-13-24-35-7-8-9-9-11-6-17-7-32-18-16-10-11-3-16 0-24 4-8 2-44 24-8 6-5 5-9 17-10 36-9 23-1 14 2 21-1 28-1 2-4 4-27 22-5 3 0-45 16-8 5-6 7-18 5-27 10-21 11-33 8-16 5-6 9-6 24-12 16-9 11-4z"/>
<path fill="#1ce19f" stroke="#1ce19f" d="M-43 -57l19-2 13 3 52 29 23 11 9 6 9 10 25 35 6 15 2 18-3 18-11 52-3 27 1 5 9 19-18 0-5-13 0-6 5-27 17-75-1-14-7-16-19-33-9-10-6-6-8-5-16-8-36-18-16-11-8-3-8 0-30 4-13 5-41 25-8 7-5 7-4 8-4 14-13 45-1 14 2 19 20 54 1 8-26 35-40 0 0-36 5-3 27-22 4-4 1-3 1-27-2-21 1-14 9-24 9-32 7-15 5-8 9-7 38-22 13-5z"/>
<path fill="#30df60" stroke="#30df60" d="M-43 -54l16-2 14 2 21 13 54 27 8 7 8 10 21 35 7 16 1 14-22 102 0 6 5 13-19 0-1-8 11-49 5-24 9-27 2-11 0-11-1-8-10-24-13-24-7-8-7-6-37-20-17-7-19-13-5-2-8-1-11 2-19 4-8 2-8 4-38 27-8 9-5 8-5 14-10 49-1 8 1 11 3 10 6 14 8 14 20 26 7 17 1 8-7 16-48 0 3-5 22-27 1-6-1-5-19-52-3-18 1-17 13-48 5-14 5-9 8-7 37-24 12-6z"/>
<path fill="#42dd20" stroke="#42dd20" d="M-40 -52l16-1 10 2 19 13 17 7 37 20 7 6 7 8 14 27 9 21 1 8 0 11-2 11-9 27-5 24-10 44-1 5 1 8-19 0 2-8 14-43 2-22 2-11 11-24 3-13 1-17-8-24-10-22-6-8-6-5-33-18-21-10-18-13-7-2-5 0-11 1-19 5-8 3-8 4-36 30-9 11-5 11-10 56 0 11 2 11 7 14 10 16 9 10 22 22 7 8 7 19-1 8-31 0 7-16-1-8-9-19-18-24-8-13-5-12-4-13-1-11 1-8 11-51 4-11 2-6 7-8 10-8 35-24 11-4z"/>
<path fill="#62e000" stroke="#62e000" d="M-40 -49l13-2 11 2 19 13 19 8 35 20 6 5 6 8 12 27 6 19-1 17-3 13-11 24-2 11-2 22-14 43-2 8-20 0 6-13 11-18 5-12 2-8-1-22 1-8 4-11 13-24 3-11 1-8-1-8-7-27-5-14-4-5-6-6-30-17-24-10-16-13-8-2-8 0-18 5-15 5-12 8-26 25-10 13-6 15-7 53 0 8 3 10 5 11 7 11 19 21 40 33 4 6 6 13-28 0 1-5 0-6-7-16-36-38-10-13-7-14-4-13 0-14 9-51 5-14 13-16 33-27 11-5z"/>
<path fill="#8fe900" stroke="#8fe900" d="M-41 -46l14-2 8 1 19 14 22 9 29 16 7 5 4 6 7 16 7 27 1 8-1 8-3 11-13 24-4 11-1 8 1 22-2 8-5 12-11 18-6 13-74 0-6-13-4-6-34-28-19-19-11-15-8-16-2-14 3-21 3-27 2-11 7-14 10-13 28-25 11-6zM-40 -43l-22 8-9 5-24 25-8 10-6 14-4 19-3 54 5 13 10 14 15 15 19 15 18 12 22 10 16 6 14 0 11-4 10-6 10-10 6-11 1-6-1-21 1-8 7-19 13-22 5-13 1-11-3-24-3-11-4-8-5-6-7-5-23-13-22-8-22-16-8 0z"/>
<path fill="#bcf200" stroke="#bcf200" d="M-38 -44l11-2 8 2 19 15 22 8 23 13 7 5 5 6 4 8 3 11 3 24-1 11-5 13-13 22-7 19-1 8 1 21-1 6-6 11-10 10-11 6-10 4-14 0-16-6-22-10-18-12-19-15-15-15-10-14-5-13 3-54 4-19 6-14 8-10 25-25 11-6zM-38 -40l-20 8-13 8-17 21-9 15-3 10 0 8 1 27-1 24 1 24 3 8 9 11 16 14 17 11 16 8 14 4 13 3 11-1 14-5 5-4 4-6 1-5 0-21 6-22 5-11 16-24 4-11 3-19-1-19-2-8-6-8-22-15-11-5-16-5-19-14-5-3-6 0z"/>
<path fill="#e9fb00" stroke="#e9fb00" d="M-38 -41l8-1 8 1 19 14 22 8 11 5 19 14 6 8 2 8 1 19-3 19-4 11-16 24-5 11-6 22 0 21-1 5-4 6-5 4-14 5-11 1-13-3-14-4-16-8-17-11-16-14-9-11-3-8-1-24 1-24-1-27 0-8 3-10 9-15 17-21 13-8zM-36 -38l-23 11-7 5-5 6-8 13-6 14-2 11 0 8 4 13 14 30 0 5-6 16-1 6 4 11 8 16 9 11 14 8 17 5 13 1 8-3 3-3 6-24 9-25 9-13 17-21 4-9 5-16 1-22-2-8-3-5-10-8-12-8-8-4-19-6-21-14-6-2z"/>
<path fill="#fbf800" stroke="#fbf800" d="M-35 -38l5-1 6 2 21 14 22 7 10 5 11 8 6 6 3 5 2 8-1 22-5 16-4 9-17 21-9 13-9 25-6 24-3 3-8 3-13-1-17-5-14-8-9-11-8-16-4-11 1-6 6-16 0-5-14-30-4-13 0-8 2-11 6-14 8-13 5-6 7-5zM-40 -32l-19 10-10 11-4 8-2 8 0 11 1 11 3 8 6 11 6 8 8 8 29 20 6 2 5-1 27-11 8-6 8-8 6-9 3-11 3-19-1-8-2-6-4-5-15-11-22-7-27-15-5-1z"/>
<path fill="#f3ea00" stroke="#f3ea00" d="M-38 -33l6-1 5 1 27 15 22 7 15 11 4 5 2 6 1 8-3 19-3 11-6 9-8 8-8 6-27 11-5 1-6-2-29-20-8-8-6-8-6-11-3-8-1-11 0-11 2-8 4-8 4-5 8-7zM-41 -27l-10 5-7 6-6 8-4 8-2 11 2 11 2 8 6 11 6 8 8 7 11 6 11 5 10 2 11 0 8-2 10-5 7-5 5-6 6-13 4-22-1-8-3-5-5-6-8-5-20-7-22-11-10-3z"/>
<path fill="#eadd00" stroke="#eadd00" d="M-40 -27l8-2 8 2 24 12 19 6 9 6 6 8 2 6 1 8-5 22-4 8-4 5-10 9-9 4-10 2-11-1-11-2-11-5-8-5-8-7-8-11-4-8-3-11 0-11 1-8 4-8 6-8 9-7zM-41 -22l-8 4-7 7-4 6-3 8-2 8 1 11 3 8 5 8 6 8 7 6 8 4 11 5 10 1 9 0 8-3 8-4 10-9 6-14 2-10 1-8-1-6-2-5-5-5-5-3-17-6-22-11-10-1z"/>
<path fill="#e2cf00" stroke="#e2cf00" d="M-40 -22l10-1 8 1 22 11 17 6 5 3 5 5 2 5 1 6-1 8-2 10-6 14-10 9-8 4-8 3-9 0-10-1-11-5-8-4-7-6-6-8-5-8-3-8-1-11 2-8 3-8 6-8 5-5zM-41 -16l-8 4-4 4-3 5-3 8-1 9 1 8 3 8 5 8 5 6 8 6 8 4 8 2 8 0 9-1 8-3 5-3 7-8 6-11 2-14 0-5-2-6-9-8-31-14-11-2z"/>
<path fill="#dec200" stroke="#dec200" d="M-40 -16l10-3 11 2 31 14 9 8 2 6 0 5-2 14-6 11-7 8-5 3-8 3-9 1-8 0-8-2-8-4-8-6-5-6-5-8-3-8-1-8 1-9 3-8 3-5 7-6zM-34 -14l-12 6-5 5-3 6-1 5-1 8 5 14 8 11 5 3 8 5 14 2 8-1 5-3 10-6 7-11 3-11-1-5-2-6-6-8-22-11-10-4z"/>
<path fill="#e0b500" stroke="#e0b500" d="M-32 -14l10 0 14 5 16 9 4 5 3 6 2 5 0 6-4 10-8 10-10 7-6 1-8 1-13-4-11-7-6-6-4-7-3-13 1-9 2-5 7-8zM-36 -8l-10 7-3 4-2 5 0 11 5 12 10 10 12 4 10 0 11-5 8-7 5-9-1-8-4-11-5-5-4-3-15-7-8-1z"/>
<path fill="#e0a900" stroke="#e0a900" d="M-35 -8l8-3 8 1 15 7 4 3 5 5 4 11 1 8-5 9-8 7-11 5-10 0-12-4-10-10-5-12 0-11 2-5 3-4zM-31 -5l-9 5-5 8-2 8 4 11 7 8 9 4 8 1 11-3 8-6 4-7 0-5-4-11-7-8-9-5-8-2z"/>
<path fill="#e29c00" stroke="#e29c00" d="M-30 -6l8-1 8 3 10 7 4 5 4 11 0 5-4 7-8 6-11 3-8-1-9-4-7-8-4-11 2-8 5-8zM-31 0l-6 5-4 9 1 8 4 5 6 5 8 2 8-1 9-5 3-4 0-5-3-8-4-6-7-5-6-2-5 0z"/>
<path fill="#e38f00" stroke="#e38f00" d="M-30 -1l6-1 5 1 7 4 4 3 4 8 2 8-2 5-3 3-7 3-8 1-8-2-6-5-4-8 0-8 5-8zM-29 5l-2 3-2 6 0 5 3 5 8 3 6 0 6-3 1-2 1-3-2-5-4-6-8-5-2 0z"/>
<path fill="#e48000" stroke="#e48000" d="M-27 4l5-1 8 5 4 6 2 5-1 3-2 3-5 2-6 0-5-1-4-4-2-6 0-5 3-5zM-22 14l0 2 3 1-2-3z"/>
<path fill="#e67200" stroke="#e67200" d="M-22 13l3 2 0 2-3-1z"/>
</g></g>
<line x1="482.2" y1="182.5" x2="486.2" y2="182.5" stroke="#222" stroke-width="0.9"/>
<line x1="479.1" y1="159.3" x2="483.0" y2="158.2" stroke="#222" stroke-width="0.9"/>
<line x1="470.2" y1="137.7" x2="473.6" y2="135.7" stroke="#222" stroke-width="0.9"/>
<line x1="455.9" y1="119.1" x2="458.8" y2="116.2" stroke="#222" stroke-width="0.9"/>
<line x1="437.4" y1="104.8" x2="439.4" y2="101.4" stroke="#222" stroke-width="0.9"/>
<line x1="415.7" y1="95.9" x2="416.8" y2="92.0" stroke="#222" stroke-width="0.9"/>
<line x1="392.5" y1="92.8" x2="392.5" y2="88.8" stroke="#222" stroke-width="0.9"/>
<line x1="369.3" y1="95.9" x2="368.2" y2="92.0" stroke="#222" stroke-width="0.9"/>
<line x1="347.7" y1="104.8" x2="345.7" y2="101.4" stroke="#222" stroke-width="0.9"/>
<line x1="329.1" y1="119.1" x2="326.2" y2="116.2" stroke="#222" stroke-width="0.9"/>
<line x1="314.8" y1="137.7" x2="311.4" y2="135.7" stroke="#222" stroke-width="0.9"/>
<line x1="305.9" y1="159.3" x2="302.0" y2="158.2" stroke="#222" stroke-width="0.9"/>
<line x1="302.8" y1="182.5" x2="298.8" y2="182.5" stroke="#222" stroke-width="0.9"/>
<line x1="305.9" y1="205.7" x2="302.0" y2="206.8" stroke="#222" stroke-width="0.9"/>
<line x1="314.8" y1="227.4" x2="311.4" y2="229.4" stroke="#222" stroke-width="0.9"/>
<line x1="329.1" y1="245.9" x2="326.2" y2="248.8" stroke="#222" stroke-width="0.9"/>
<line x1="347.6" y1="260.2" x2="345.6" y2="263.6" stroke="#222" stroke-width="0.9"/>
<line x1="369.3" y1="269.1" x2="368.2" y2="273.0" stroke="#222" stroke-width="0.9"/>
<line x1="392.5" y1="272.2" x2="392.5" y2="276.2" stroke="#222" stroke-width="0.9"/>
<line x1="415.7" y1="269.1" x2="416.8" y2="273.0" stroke="#222" stroke-width="0.9"/>
<line x1="437.4" y1="260.2" x2="439.4" y2="263.6" stroke="#222" stroke-width="0.9"/>
<line x1="455.9" y1="245.9" x2="458.8" y2="248.8" stroke="#222" stroke-width="0.9"/>
<line x1="470.2" y1="227.4" x2="473.6" y2="229.4" stroke="#222" stroke-width="0.9"/>
<line x1="479.1" y1="205.7" x2="483.0" y2="206.8" stroke="#222" stroke-width="0.9"/>
<text x="2.2" y="2.8" font-size="8" text-anchor="middle" fill="#2e2222" transform="translate(489.7 182.5) rotate(90)">0 °</text>
<text x="3.6" y="2.8" font-size="8" text-anchor="middle" fill="#2e2222" transform="translate(475.6 134.6) rotate(60)">30 °</text>
<text x="3.6" y="2.8" font-size="8" text-anchor="middle" fill="#2e2222" transform="translate(440.4 99.4) rotate(30)">60 °</text>
<text x="3.6" y="2.8" font-size="8" text-anchor="middle" fill="#2e2222" transform="translate(392.5 86.6) rotate(0)">90 °</text>
<text x="3.6" y="2.8" font-size="8" text-anchor="middle" fill="#2e2222" transform="translate(344.6 99.4) rotate(-30)">120 °</text>
<text x="3.6" y="2.8" font-size="8" text-anchor="middle" fill="#2e2222" transform="translate(309.4 134.6) rotate(-60)">150 °</text>
<text x="2.2" y="2.8" font-size="8" text-anchor="middle" fill="#2e2222" transform="translate(295.3 182.5) rotate(90)">180 °</text>
<text x="2.2" y="2.8" font-size="8" text-anchor="middle" fill="#2e2222" transform="translate(308.3 231.1) rotate(60)">210 °</text>
<text x="2.2" y="2.8" font-size="8" text-anchor="middle" fill="#2e2222" transform="translate(343.9 266.7) rotate(30)">240 °</text>
<text x="2.2" y="2.8" font-size="8" text-anchor="middle" fill="#2e2222" transform="translate(392.5 279.7) rotate(0)">270 °</text>
<text x="2.2" y="2.8" font-size="8" text-anchor="middle" fill="#2e2222" transform="translate(441.1 266.7) rotate(-30)">300 °</text>
<text x="2.2" y="2.8" font-size="8" text-anchor="middle" fill="#2e2222" transform="translate(476.7 231.1) rotate(-60)">330 °</text>
<circle cx="392.5" cy="182.5" r="31.0" fill="none" stroke="#000" stroke-width="0.8" stroke-dasharray="89.39 8.00" stroke-dashoffset="93.39"/>
<circle cx="392.5" cy="182.5" r="51.3" fill="none" stroke="#000" stroke-width="0.8" stroke-dasharray="153.16 8.00" stroke-dashoffset="157.16"/>
<circle cx="392.5" cy="182.5" r="71.6" fill="none" stroke="#000" stroke-width="0.8" stroke-dasharray="216.94 8.00" stroke-dashoffset="220.94"/>
<circle cx="390.1" cy="171.5" r="31" fill="none" stroke="#303030" stroke-width="0.9"/>
<circle cx="390.1" cy="171.5" r="31" fill="none" stroke="#f4f4f4" stroke-width="0.9" stroke-dasharray="3.5 3"/>
<text x="361.5" y="185.9" font-size="9.6" text-anchor="middle" fill="#111">3</text>
<text x="423.5" y="185.9" font-size="9.6" text-anchor="middle" fill="#111">3</text>
<text x="341.2" y="185.9" font-size="9.6" text-anchor="middle" fill="#111">5</text>
<text x="443.8" y="185.9" font-size="9.6" text-anchor="middle" fill="#111">5</text>
<text x="320.9" y="185.9" font-size="9.6" text-anchor="middle" fill="#111">7</text>
<text x="464.1" y="185.9" font-size="9.6" text-anchor="middle" fill="#111">7</text>
<line x1="392.5" y1="182.5" x2="361.9" y2="177.3" stroke="#c00010" stroke-width="2.6"/>
<line x1="392.5" y1="182.5" x2="423.1" y2="187.7" stroke="#c00010" stroke-width="2.6"/>
<line x1="392.5" y1="182.5" x2="397.5" y2="151.9" stroke="#00008c" stroke-width="2.6"/>
<line x1="392.5" y1="182.5" x2="387.1" y2="214.0" stroke="#00008c" stroke-width="2.6"/>
<line x1="366.7" y1="165.3" x2="349.7" y2="153.9" stroke="#c00010" stroke-width="2.6"/>
<line x1="417.8" y1="200.5" x2="434.5" y2="212.3" stroke="#c00010" stroke-width="2.6"/>
<line x1="409.8" y1="156.8" x2="421.3" y2="139.8" stroke="#00008c" stroke-width="2.6"/>
<line x1="374.9" y1="208.0" x2="363.3" y2="224.9" stroke="#00008c" stroke-width="2.6"/>
<line x1="376.5" y1="134.1" x2="370.0" y2="114.5" stroke="#c00010" stroke-width="2.6"/>
<line x1="407.2" y1="231.3" x2="413.1" y2="251.1" stroke="#c00010" stroke-width="2.6"/>
<line x1="441.2" y1="167.4" x2="460.9" y2="161.3" stroke="#00008c" stroke-width="2.6"/>
<line x1="343.8" y1="197.6" x2="324.1" y2="203.7" stroke="#00008c" stroke-width="2.6"/>
<rect x="356.5" y="123.1" width="17.5" height="10.2" fill="#ffffff"/>
<text x="365.2" y="131.5" font-size="9.2" text-anchor="middle" fill="#e0303a" textLength="15.0" lengthAdjust="spacingAndGlyphs">38.4</text>
<rect x="345.3" y="162.0" width="17.5" height="10.2" fill="#ffffff"/>
<text x="354.1" y="170.4" font-size="9.2" text-anchor="middle" fill="#e0303a" textLength="15.0" lengthAdjust="spacingAndGlyphs">41.1</text>
<rect x="368.1" y="174.9" width="17.5" height="10.2" fill="#ffffff"/>
<text x="376.9" y="183.3" font-size="9.2" text-anchor="middle" fill="#e0303a" textLength="15.0" lengthAdjust="spacingAndGlyphs">47.0</text>
<rect x="399.0" y="180.1" width="17.5" height="10.2" fill="#ffffff"/>
<text x="407.8" y="188.5" font-size="9.2" text-anchor="middle" fill="#e0303a" textLength="15.0" lengthAdjust="spacingAndGlyphs">45.0</text>
<rect x="420.8" y="192.0" width="17.5" height="10.2" fill="#ffffff"/>
<text x="429.6" y="200.4" font-size="9.2" text-anchor="middle" fill="#e0303a" textLength="15.0" lengthAdjust="spacingAndGlyphs">43.9</text>
<rect x="410.5" y="232.3" width="17.5" height="10.2" fill="#ffffff"/>
<text x="419.2" y="240.7" font-size="9.2" text-anchor="middle" fill="#e0303a" textLength="15.0" lengthAdjust="spacingAndGlyphs">45.2</text>
<rect x="386.5" y="162.2" width="17.5" height="10.2" fill="#ffffff"/>
<text x="395.2" y="170.6" font-size="9.2" text-anchor="middle" fill="#3c3cd0" textLength="15.0" lengthAdjust="spacingAndGlyphs">39.4</text>
<rect x="381.1" y="192.7" width="17.5" height="10.2" fill="#ffffff"/>
<text x="389.9" y="201.1" font-size="9.2" text-anchor="middle" fill="#3c3cd0" textLength="15.0" lengthAdjust="spacingAndGlyphs">48.0</text>
<rect x="398.5" y="139.7" width="17.5" height="10.2" fill="#ffffff"/>
<text x="407.2" y="148.1" font-size="9.2" text-anchor="middle" fill="#3c3cd0" textLength="15.0" lengthAdjust="spacingAndGlyphs">36.6</text>
<rect x="438.8" y="150.0" width="17.5" height="10.2" fill="#ffffff"/>
<text x="447.6" y="158.4" font-size="9.2" text-anchor="middle" fill="#3c3cd0" textLength="15.0" lengthAdjust="spacingAndGlyphs">38.0</text>
<rect x="329.0" y="204.5" width="17.5" height="10.2" fill="#ffffff"/>
<text x="337.8" y="212.9" font-size="9.2" text-anchor="middle" fill="#3c3cd0" textLength="15.0" lengthAdjust="spacingAndGlyphs">42.3</text>
<rect x="368.5" y="214.8" width="17.5" height="10.2" fill="#ffffff"/>
<text x="377.2" y="223.2" font-size="9.2" text-anchor="middle" fill="#3c3cd0" textLength="15.0" lengthAdjust="spacingAndGlyphs">46.5</text>
<rect x="507.0" y="60.0" width="281.0" height="242.0" fill="#404040"/>
<rect x="507.0" y="60.0" width="280.0" height="241.0" fill="#ffffff"/>
<rect x="508.0" y="61.0" width="279.0" height="240.0" fill="#f0f0f0"/>
<line x1="743.4" y1="61.0" x2="743.4" y2="300.0" stroke="#a8a8a8" stroke-width="1"/>
<line x1="744.4" y1="61.0" x2="744.4" y2="300.0" stroke="#ffffff" stroke-width="1"/>
<rect x="744.1" y="61.8" width="27.0" height="12.8" fill="#e000e0"/>
<text x="757.6" y="70.9" font-size="9.5" text-anchor="middle" fill="#222222" textLength="11.4" lengthAdjust="spacingAndGlyphs">-75</text>
<rect x="744.1" y="74.3" width="27.0" height="12.8" fill="#8c008c"/>
<text x="757.6" y="83.4" font-size="9.5" text-anchor="middle" fill="#ffffff" textLength="11.4" lengthAdjust="spacingAndGlyphs">-65</text>
<rect x="744.1" y="86.8" width="27.0" height="12.8" fill="#0000a0"/>
<text x="757.6" y="95.9" font-size="9.5" text-anchor="middle" fill="#ffffff" textLength="11.4" lengthAdjust="spacingAndGlyphs">-55</text>
<rect x="744.1" y="99.2" width="27.0" height="12.8" fill="#0000ff"/>
<text x="757.6" y="108.3" font-size="9.5" text-anchor="middle" fill="#ffffff" textLength="11.4" lengthAdjust="spacingAndGlyphs">-45</text>
<rect x="744.1" y="111.7" width="27.0" height="12.8" fill="#1e90ff"/>
<text x="757.6" y="120.8" font-size="9.5" text-anchor="middle" fill="#222222" textLength="11.4" lengthAdjust="spacingAndGlyphs">-35</text>
<rect x="744.1" y="124.2" width="27.0" height="12.8" fill="#00c8c8"/>
<text x="757.6" y="133.3" font-size="9.5" text-anchor="middle" fill="#222222" textLength="11.4" lengthAdjust="spacingAndGlyphs">-25</text>
<rect x="744.1" y="136.7" width="27.0" height="12.8" fill="#00c882"/>
<text x="757.6" y="145.8" font-size="9.5" text-anchor="middle" fill="#222222" textLength="11.4" lengthAdjust="spacingAndGlyphs">-15</text>
<rect x="744.1" y="149.2" width="27.0" height="12.8" fill="#00c800"/>
<text x="757.6" y="158.3" font-size="9.5" text-anchor="middle" fill="#222222" textLength="7.0" lengthAdjust="spacingAndGlyphs">-5</text>
<rect x="744.1" y="161.6" width="27.0" height="12.8" fill="#00ff00"/>
<text x="757.6" y="170.7" font-size="9.5" text-anchor="middle" fill="#222222" textLength="9.0" lengthAdjust="spacingAndGlyphs">+5</text>
<rect x="744.1" y="174.1" width="27.0" height="12.8" fill="#ffff00"/>
<text x="757.6" y="183.2" font-size="9.5" text-anchor="middle" fill="#222222" textLength="13.4" lengthAdjust="spacingAndGlyphs">+15</text>
<rect x="744.1" y="186.6" width="27.0" height="12.8" fill="#ffbe00"/>
<text x="757.6" y="195.7" font-size="9.5" text-anchor="middle" fill="#222222" textLength="13.4" lengthAdjust="spacingAndGlyphs">+25</text>
<rect x="744.1" y="199.1" width="27.0" height="12.8" fill="#ff6e50"/>
<text x="757.6" y="208.2" font-size="9.5" text-anchor="middle" fill="#222222" textLength="13.4" lengthAdjust="spacingAndGlyphs">+35</text>
<rect x="744.1" y="211.6" width="27.0" height="12.8" fill="#ff2828"/>
<text x="757.6" y="220.7" font-size="9.5" text-anchor="middle" fill="#222222" textLength="13.4" lengthAdjust="spacingAndGlyphs">+45</text>
<rect x="744.1" y="224.0" width="27.0" height="12.8" fill="#e40000"/>
<text x="757.6" y="233.1" font-size="9.5" text-anchor="middle" fill="#ffffff" textLength="13.4" lengthAdjust="spacingAndGlyphs">+55</text>
<rect x="744.1" y="236.5" width="27.0" height="12.8" fill="#aa0000"/>
<text x="757.6" y="245.6" font-size="9.5" text-anchor="middle" fill="#ffffff" textLength="13.4" lengthAdjust="spacingAndGlyphs">+65</text>
<rect x="744.1" y="249.0" width="27.0" height="12.8" fill="#6e0000"/>
<text x="757.6" y="258.1" font-size="9.5" text-anchor="middle" fill="#ffffff" textLength="13.4" lengthAdjust="spacingAndGlyphs">+75</text>
<rect x="771.1" y="61.8" width="15.2" height="199.7" fill="#ffffff"/>
<rect x="771.1" y="65.6" width="15.2" height="193.4" fill="#000000"/>
<rect x="771.1" y="66.4" width="14.6" height="2.3" fill="#e000e0"/>
<rect x="772.2" y="69.6" width="13.5" height="2.3" fill="#cb00cb"/>
<rect x="772.2" y="72.7" width="13.5" height="2.3" fill="#b700b7"/>
<rect x="772.2" y="75.8" width="13.5" height="2.3" fill="#a200a2"/>
<rect x="771.1" y="78.9" width="14.6" height="2.3" fill="#8d008d"/>
<rect x="772.2" y="82.0" width="13.5" height="2.3" fill="#6c0091"/>
<rect x="772.2" y="85.2" width="13.5" height="2.3" fill="#490096"/>
<rect x="772.2" y="88.3" width="13.5" height="2.3" fill="#27009a"/>
<rect x="771.1" y="91.4" width="14.6" height="2.3" fill="#05009f"/>
<rect x="772.2" y="94.5" width="13.5" height="2.3" fill="#0000b4"/>
<rect x="772.2" y="97.6" width="13.5" height="2.3" fill="#0000cc"/>
<rect x="772.2" y="100.8" width="13.5" height="2.3" fill="#0000e3"/>
<rect x="771.1" y="103.9" width="14.6" height="2.3" fill="#0000fa"/>
<rect x="772.2" y="107.0" width="13.5" height="2.3" fill="#061cff"/>
<rect x="772.2" y="110.1" width="13.5" height="2.3" fill="#0d40ff"/>
<rect x="772.2" y="113.2" width="13.5" height="2.3" fill="#1563ff"/>
<rect x="771.1" y="116.4" width="14.6" height="2.3" fill="#1c87ff"/>
<rect x="772.2" y="119.5" width="13.5" height="2.3" fill="#199af5"/>
<rect x="772.2" y="122.6" width="13.5" height="2.3" fill="#11a8e8"/>
<rect x="772.2" y="125.7" width="13.5" height="2.3" fill="#0ab6da"/>
<rect x="771.1" y="128.8" width="14.6" height="2.3" fill="#02c3cd"/>
<rect x="772.2" y="132.0" width="13.5" height="2.3" fill="#00c8bd"/>
<rect x="772.2" y="135.1" width="13.5" height="2.3" fill="#00c8ab"/>
<rect x="772.2" y="138.2" width="13.5" height="2.3" fill="#00c89a"/>
<rect x="771.1" y="141.3" width="14.6" height="2.3" fill="#00c889"/>
<rect x="772.2" y="144.4" width="13.5" height="2.3" fill="#00c86f"/>
<rect x="772.2" y="147.6" width="13.5" height="2.3" fill="#00c84f"/>
<rect x="772.2" y="150.7" width="13.5" height="2.3" fill="#00c82f"/>
<rect x="771.1" y="153.8" width="14.6" height="2.3" fill="#00c80f"/>
<rect x="772.2" y="156.9" width="13.5" height="2.3" fill="#00cf00"/>
<rect x="772.2" y="160.0" width="13.5" height="2.3" fill="#00dd00"/>
<rect x="772.2" y="163.2" width="13.5" height="2.3" fill="#00ea00"/>
<rect x="771.1" y="166.3" width="14.6" height="2.3" fill="#00f800"/>
<rect x="772.2" y="169.4" width="13.5" height="2.3" fill="#1dff00"/>
<rect x="772.2" y="172.5" width="13.5" height="2.3" fill="#5cff00"/>
<rect x="772.2" y="175.7" width="13.5" height="2.3" fill="#9bff00"/>
<rect x="771.1" y="178.8" width="14.6" height="2.3" fill="#d9ff00"/>
<rect x="772.2" y="181.9" width="13.5" height="2.3" fill="#fff900"/>
<rect x="772.2" y="185.0" width="13.5" height="2.3" fill="#ffe900"/>
<rect x="772.2" y="188.1" width="13.5" height="2.3" fill="#ffd900"/>
<rect x="771.1" y="191.2" width="14.6" height="2.3" fill="#ffc900"/>
<rect x="772.2" y="194.4" width="13.5" height="2.3" fill="#ffb707"/>
<rect x="772.2" y="197.5" width="13.5" height="2.3" fill="#ffa41a"/>
<rect x="772.2" y="200.6" width="13.5" height="2.3" fill="#ff902e"/>
<rect x="771.1" y="203.7" width="14.6" height="2.3" fill="#ff7c42"/>
<rect x="772.2" y="206.8" width="13.5" height="2.3" fill="#ff694d"/>
<rect x="772.2" y="210.0" width="13.5" height="2.3" fill="#ff5844"/>
<rect x="772.2" y="213.1" width="13.5" height="2.3" fill="#ff473a"/>
<rect x="771.1" y="216.2" width="14.6" height="2.3" fill="#ff3630"/>
<rect x="772.2" y="219.3" width="13.5" height="2.3" fill="#fe2626"/>
<rect x="772.2" y="222.4" width="13.5" height="2.3" fill="#f71c1c"/>
<rect x="772.2" y="225.6" width="13.5" height="2.3" fill="#f01212"/>
<rect x="771.1" y="228.7" width="14.6" height="2.3" fill="#ea0909"/>
<rect x="772.2" y="231.8" width="13.5" height="2.3" fill="#e20000"/>
<rect x="772.2" y="234.9" width="13.5" height="2.3" fill="#d40000"/>
<rect x="772.2" y="238.0" width="13.5" height="2.3" fill="#c60000"/>
<rect x="771.1" y="241.2" width="14.6" height="2.3" fill="#b70000"/>
<rect x="772.2" y="244.3" width="13.5" height="2.3" fill="#a90000"/>
<rect x="772.2" y="247.4" width="13.5" height="2.3" fill="#9a0000"/>
<rect x="772.2" y="250.5" width="13.5" height="2.3" fill="#8c0000"/>
<rect x="771.1" y="253.7" width="14.6" height="2.3" fill="#7d0000"/>
<rect x="772.2" y="256.8" width="13.5" height="2.3" fill="#6e0000"/>
<rect x="744.1" y="261.5" width="42.2" height="12.8" fill="#c8c8c8"/>
<rect x="744.1" y="262.3" width="42.2" height="11.9" fill="#f0f0f0"/>
<text x="765.2" y="271.5" font-size="9.5" text-anchor="middle" fill="#222" textLength="25.1" lengthAdjust="spacingAndGlyphs">2.5 µm</text>
<rect x="744.1" y="274.2" width="42.2" height="12.8" fill="#c8c8c8"/>
<rect x="744.1" y="275.0" width="42.2" height="11.9" fill="#f0f0f0"/>
<text x="765.2" y="284.2" font-size="9.5" text-anchor="middle" fill="#222" textLength="37.9" lengthAdjust="spacingAndGlyphs">Elevation</text>
<rect x="744.1" y="287.0" width="42.2" height="12.8" fill="#c8c8c8"/>
<rect x="744.1" y="287.8" width="42.2" height="11.9" fill="#f0f0f0"/>
<text x="765.2" y="297.0" font-size="9.5" text-anchor="middle" fill="#222" textLength="26.6" lengthAdjust="spacingAndGlyphs">Height</text>
<text x="625.0" y="68.6" text-anchor="middle" textLength="63.6" lengthAdjust="spacingAndGlyphs">Elevation (Front)</text>
<text x="625.0" y="79.5" text-anchor="middle" textLength="99.4" lengthAdjust="spacingAndGlyphs">BFS=8.08 Float, Dia=8.00</text>
<line x1="508.0" y1="83.0" x2="742.0" y2="83.0" stroke="#b8b8b8" stroke-width="1.2"/>
<line x1="508.0" y1="84.1" x2="742.0" y2="84.1" stroke="#ffffff" stroke-width="0.8"/>
<line x1="527.0" y1="90.5" x2="527.0" y2="273.3" stroke="#b0b0b0" stroke-width="1.2"/>
<line x1="523.0" y1="99.8" x2="527.0" y2="99.8" stroke="#909090" stroke-width="0.9"/>
<text x="520.5" y="103.0" font-size="9" text-anchor="end" fill="#3a3a3a">8</text>
<line x1="523.0" y1="120.4" x2="527.0" y2="120.4" stroke="#909090" stroke-width="0.9"/>
<line x1="523.0" y1="141.0" x2="527.0" y2="141.0" stroke="#909090" stroke-width="0.9"/>
<text x="520.5" y="144.2" font-size="9" text-anchor="end" fill="#3a3a3a">4</text>
<line x1="523.0" y1="161.6" x2="527.0" y2="161.6" stroke="#909090" stroke-width="0.9"/>
<line x1="523.0" y1="182.2" x2="527.0" y2="182.2" stroke="#909090" stroke-width="0.9"/>
<text x="520.5" y="185.4" font-size="9" text-anchor="end" fill="#3a3a3a">0</text>
<line x1="523.0" y1="202.8" x2="527.0" y2="202.8" stroke="#909090" stroke-width="0.9"/>
<line x1="523.0" y1="223.4" x2="527.0" y2="223.4" stroke="#909090" stroke-width="0.9"/>
<text x="520.5" y="226.6" font-size="9" text-anchor="end" fill="#3a3a3a">4</text>
<line x1="523.0" y1="244.0" x2="527.0" y2="244.0" stroke="#909090" stroke-width="0.9"/>
<line x1="523.0" y1="264.6" x2="527.0" y2="264.6" stroke="#909090" stroke-width="0.9"/>
<text x="520.5" y="267.8" font-size="9" text-anchor="end" fill="#3a3a3a">8</text>
<line x1="543.0" y1="287.0" x2="727.0" y2="287.0" stroke="#b0b0b0" stroke-width="1.2"/>
<line x1="553.6" y1="287.0" x2="553.6" y2="290.5" stroke="#909090" stroke-width="0.9"/>
<text x="553.6" y="299.3" font-size="9" text-anchor="middle" fill="#3a3a3a">8</text>
<line x1="574.0" y1="287.0" x2="574.0" y2="290.5" stroke="#909090" stroke-width="0.9"/>
<line x1="594.5" y1="287.0" x2="594.5" y2="290.5" stroke="#909090" stroke-width="0.9"/>
<text x="594.5" y="299.3" font-size="9" text-anchor="middle" fill="#3a3a3a">4</text>
<line x1="614.9" y1="287.0" x2="614.9" y2="290.5" stroke="#909090" stroke-width="0.9"/>
<line x1="635.4" y1="287.0" x2="635.4" y2="290.5" stroke="#909090" stroke-width="0.9"/>
<text x="635.4" y="299.3" font-size="9" text-anchor="middle" fill="#3a3a3a">0</text>
<line x1="655.9" y1="287.0" x2="655.9" y2="290.5" stroke="#909090" stroke-width="0.9"/>
<line x1="676.3" y1="287.0" x2="676.3" y2="290.5" stroke="#909090" stroke-width="0.9"/>
<text x="676.3" y="299.3" font-size="9" text-anchor="middle" fill="#3a3a3a">4</text>
<line x1="696.8" y1="287.0" x2="696.8" y2="290.5" stroke="#909090" stroke-width="0.9"/>
<line x1="717.2" y1="287.0" x2="717.2" y2="290.5" stroke="#909090" stroke-width="0.9"/>
<text x="717.2" y="299.3" font-size="9" text-anchor="middle" fill="#3a3a3a">8</text>
<text x="546.3" y="281.8" font-size="12.8" font-weight="bold" fill="#111">T</text>
<text x="718.2" y="281.8" font-size="12.8" font-weight="bold" fill="#111">N</text>
<text x="702.0" y="99.8" font-size="17.6" fill="#000" textLength="25.8" lengthAdjust="spacingAndGlyphs">OD</text>
<circle cx="549.3" cy="89.4" r="4.3" fill="none" stroke="#333" stroke-width="1"/>
<line x1="552.3" y1="92.4" x2="556.2" y2="96.3" stroke="#333" stroke-width="1.8"/>
<text x="554.5" y="103.7" font-size="8.8" text-anchor="middle" fill="#222" textLength="19.0" lengthAdjust="spacingAndGlyphs">9mm</text>
<clipPath id="c507_60"><circle cx="635.0" cy="182.5" r="91.7"/></clipPath>
<g clip-path="url(#c507_60)"><g transform="translate(635.0 182.5) scale(0.5)" stroke-width="1.2" stroke-linejoin="round">
<path fill="#00c8c3" stroke="#00c8c3" d="M35 -73l6 1 10 5 14 11 6 7 5 9 2 8 0 6-2-1-19-23-22-20-1-3z"/>
<path fill="#00c8b1" stroke="#00c8b1" d="M-11 -84l19-2 19 2 16 5 16 10 16 15 10 16 3 8 1 8-1 8-3 6-1 1-3 0-19-26-16-17-19-14-16-8-14-3-16 0-13 4-25 12-2 0 1-3 2-3 11-8 20-8zM34 -73l1 3 22 20 19 23 2 1 0-6-2-8-5-9-7-8-9-8-9-5-8-3zM-103 -62l4 0 4 5 1 6-2 5-6 11-11 14-6 5-3-1 0-10 3-13 8-14zM68 164l8-1 6 2 9 11 8 13-68 0 3-8 7-5z"/>
<path fill="#00c8a0" stroke="#00c8a0" d="M-11 -92l25-1 18 3 19 8 17 12 17 19 6 11 5 10 4 11 1 8-1 8-4 6-4 2-6 1-5-1-17-27-7-8-11-10-16-11-16-8-14-5-11-2-16 2-19 8-11 7-19 15-10 5-8 6-25 23-3 1-2 0-4-4-2-5-1-8 1-8 3-11 5-11 9-13 8-10 8-7 8-4 13 1 11 0 35-10zM-13 -84l-19 5-13 6-11 8-2 3-1 3 2 0 25-12 13-4 16 0 14 3 16 8 19 14 16 17 19 26 3 0 1-1 3-6 1-8-1-8-3-8-10-16-16-15-16-10-16-5-19-2zM-103 -62l-8 8-8 14-3 13 0 10 3 1 6-5 11-14 6-11 2-5-1-6-4-5zM81 145l8-1 5 0 7 2 4 2 29 41-35 0-7-12-8-11-3-2-5-1-17 4-18 9-7 5-3 8-68 0 13-8 24-5 16-4z"/>
<path fill="#00c88e" stroke="#00c88e" d="M-3 -100l17 0 13 2 14 4 10 5 11 7 11 9 11 11 10 13 11 17 11 21 3 8 3 11 1 16-3 14-6 13-6 7-2-1-1-16-4-11-7-7-13-8-15-26-12-14-11-9-11-6-24-11-13-4-11-2-11 1-11 3-13 7-14 10-16 16-19 15-19 18-3 1-2-1-8-5-3-3-2-8-1-8 3-13 5-14 14-24 11-13 8-7 11-7 8-3 21-1 35-5zM-12 -92l-18 3-35 10-11 0-13-1-8 4-8 7-8 10-9 13-5 11-3 11-1 8 1 8 2 5 4 4 2 0 3-1 25-23 8-6 10-5 19-15 11-7 19-8 16-2 11 2 14 5 16 8 16 11 11 10 7 8 17 27 5 1 6-1 4-2 4-6 1-8-1-8-4-11-5-10-6-11-17-19-17-12-19-8-21-3zM89 132l8-2 6 0 13 5 43 54-25 0-29-40-5-4-8-1-8 1-8 2-60 25-16 4-24 5-13 8-46 0 4-8 3-5 6-4 5-3 8-1 41 1 24-4 16-4 22-8z"/>
<path fill="#00c878" stroke="#00c878" d="M-27 -106l24-1 19 1 16 3 17 6 14 8 15 13 16 17 17 21 11 18 5 17 2 19-1 27 3 14-2 11-4 10-15 25-2 5 1 3 5 5 14 11 10 14 46 48-25 0-32-39-8-12-8-5-11-3-11 2-43 21-30 10-13 4-17 2-43-1-8 1-5 3-6 4-3 5-4 8-25 0 16-27 3-3 5-3 14 0 40 5 25 0 29-6 17-5 16-7 25-16 14-14 2-2-1-8 12-25 0-2-1-3-11 4-3-1 1-22-3-13-4-9-10-10-13-25-11-15-8-7-11-6-46-17-11-1-10 1-11 4-11 6-13 11-14 17-19 15-19 19-3 0-13-5-3-3-2-8-1-11 1-13 2-12 6-13 7-13 9-13 11-13 16-14 13-7zM-3 -100l-19 2-35 5-21 1-8 3-11 7-8 7-11 13-14 24-5 14-3 13 1 8 2 8 3 3 8 5 2 1 3-1 19-18 19-15 16-16 14-10 13-7 11-3 11-1 11 2 13 4 24 11 11 6 11 9 12 14 15 26 13 8 7 7 4 11 1 16 2 1 6-7 6-13 3-14-1-16-3-11-3-8-11-21-11-17-10-13-11-11-11-9-11-7-10-5-14-4-13-2z"/>
<path fill="#00c858" stroke="#00c858" d="M-27 -113l24-2 19 2 16 3 17 5 13 8 16 13 20 19 15 19 10 16 7 18 9 55-1 16-11 35-1 6 1 5 3 6 7 8 9 13 43 38 0 19-5 0-46-48-10-14-14-11-5-5-1-3 2-5 15-25 4-10 2-11-3-14 1-27-2-16-3-14-8-16-15-21-14-16-14-14-14-10-13-8-14-4-16-3-16-1-73 6-11 4-13 9-11 11-11 14-9 14-7 14-4 13-2 14 0 13 3 11 3 3 13 5 3 0 19-19 19-15 12-14 10-10 10-7 14-6 13-2 11 1 41 15 13 6 14 12 10 15 11 22 11 13 4 8 2 8-1 25 3 1 11-4 1 3-12 27 1 8-6 8-18 13-18 11-21 9-24 7-25 2-21 0-38-6-11 1-5 3-3 3-16 27-20 0 18-27 6-14 7-5 5-1 8 1 38 9 22 4 24-1 22-4 24-8 11-6 11-7 10-12 11-15 4-9 0-2-7-3-1-3 2-24-2-16-23-46-8-11-11-9-21-11-14-5-30-6-10 0-11 4-11 6-9 8-18 22-17 16-18 20-3 0-8-4-8 0-3-3-4-11-2-13 0-14 3-13 3-12 6-12 17-25 18-20 11-8 10-7 14-4z"/>
<path fill="#00c837" stroke="#00c837" d="M-54 -122l14-1 48 2 19 2 16 5 16 8 14 9 16 15 19 20 11 14 8 16 5 16 7 30 7 18 0 9 0 10-9 38 1 11 13 22 38 30 0 18-43-38-9-13-7-8-3-6-1-5 1-6 11-35 1-10 0-8-4-17-3-27-5-18-11-21-14-17-18-20-16-14-14-9-16-7-16-4-19-1-46 2-16 0-8 1-9 3-10 7-11 8-18 20-17 24-8 21-4 20 1 19 3 10 2 6 3 3 8 0 8 4 3 0 18-20 17-16 18-22 9-8 11-6 11-4 10 0 30 6 14 5 21 11 11 9 8 11 23 46 2 16-2 24 1 3 7 3 0 2-8 14-14 19-15 11-18 8-14 5-16 3-27 2-21-3-41-10-13-1-6 2-3 3-7 15-18 27-20 0 27-35 8-22 2-4 3-1 5 0 6 1 32 13 25 7 24 3 21-1 25-5 11-5 10-5 8-5 9-9 9-10 3-6 0-2-4-9 5-24-1-16-3-11-14-32-9-15-11-11-19-11-16-6-13-3-19-2-8 1-11 3-11 7-11 10-16 22-20 21-11 16-1 1-3 0-8-5-3 0-5 2-3-1-3-4-3-6-3-11-2-11 0-13 4-25 8-21 17-25 20-21 11-9 10-7 11-5z"/>
<path fill="#00c817" stroke="#00c817" d="M-41 -130l19-1 25 1 21 3 20 5 18 9 13 8 14 12 16 18 11 15 8 14 8 20 8 27 8 14 3 7 2 8 0 11-7 37 0 8 1 6 10 21 32 23 0 16-38-30-13-22-1-11 9-38 0-10 0-9-7-18-7-30-5-16-8-16-11-14-16-18-16-15-17-11-13-7-16-5-16-3-60-2-11 2-12 5-12 6-11 8-21 21-10 14-9 13-10 22-4 24 0 13 1 11 3 11 4 9 3 4 3 1 5-2 3 0 8 5 3 0 1-1 11-16 20-21 16-22 11-10 11-7 11-3 8-1 19 2 13 3 16 6 19 11 11 11 9 15 14 32 3 11 1 16-5 24 4 9 0 2-3 6-9 10-9 9-8 5-10 5-11 5-25 5-21 1-24-3-25-7-32-13-6-1-5 0-3 1-2 4-8 22-27 35-19 0 37-43 3-8 2-25 4-5 2 0 6 1 30 18 26 11 25 7 21 2 25-1 21-7 11-6 8-6 9-8 4-6 1-2 0-11 5-19 2-19-3-13-9-27-8-17-11-13-15-11-18-8-16-4-22-1-13 3-11 6-14 13-16 24-13 16-14 24-3 0-11-6-2 1-6 4-2-1-6-6-4-8-3-11-3-13 0-25 2-13 3-14 11-22 8-13 11-13 13-13 11-9 13-9 11-6 11-4z"/>
<path fill="#00cc00" stroke="#00cc00" d="M-35 -135l19-1 24 2 24 4 16 6 17 8 12 8 13 11 13 13 10 14 9 14 9 18 9 25 11 16 4 8 2 8 1 11-4 43 1 13 8 19 4 4 22 14 0 13-30-20-4-5-7-17-2-10 6-41 1-11-2-10-3-7-8-14-8-27-8-20-11-18-13-17-16-16-13-11-14-8-13-6-20-5-21-3-25-1-18 1-14 3-11 4-11 6-13 9-11 9-13 13-11 13-8 13-11 22-3 14-2 13 0 25 3 13 3 11 4 8 6 6 2 1 6-4 2-1 11 6 3 0 14-24 13-16 16-24 14-13 11-6 13-3 22 1 16 4 18 8 15 11 11 13 8 17 9 27 3 13-2 19-5 19 0 11-1 2-4 6-9 8-8 6-11 6-21 7-25 1-21-2-25-7-26-11-30-18-6-1-2 0-4 5-3 27-4 8-35 41-22 0 50-51 2-6 1-10-1-25 0-11 2-6 3-2 2 1 3 2 22 22 19 13 32 17 14 5 13 4 24 2 11-1 14-3 12-5 9-5 10-8 3-6 2-8 8-22 3-16-1-16-7-27-9-19-9-12-17-12-18-9-16-3-22 1-10 3-11 6-14 15-13 22-12 16-6 11-7 19-2 0-11-6-3 0-2 3-3 7-3 2-3 0-5-5-10-20-4-16-2-11-1-16 1-14 2-13 4-16 12-25 9-13 11-13 11-12 13-10 13-9 14-6 13-5z"/>
<path fill="#00da00" stroke="#00da00" d="M-30 -140l16-1 22 3 22 5 19 6 16 8 16 11 13 11 11 13 17 25 18 35 11 13 7 11 2 8 2 14-3 46 2 13 6 17 6 4 16 9 0 12-24-15-5-8-5-14-2-8 5-43 0-11-2-10-5-11-11-16-9-25-9-18-11-17-11-14-13-13-13-11-15-8-18-8-21-5-20-3-22-1-18 2-14 3-13 5-14 7-12 8-12 11-11 12-11 14-9 15-7 13-4 14-3 13-2 14 0 13 2 16 7 26 8 16 5 5 3 0 3-2 3-7 2-3 3 0 11 6 2 0 7-19 6-11 12-16 13-22 14-15 11-6 10-3 22-1 16 3 18 9 17 12 9 12 9 19 7 27 1 16-3 16-8 22-2 8-3 6-10 8-9 5-12 5-14 3-11 1-24-2-13-4-14-5-32-17-19-13-22-22-3-2-2-1-3 2-2 6 0 11 1 25-1 10-2 6-50 50 0-22 41-35 2-3 1-4 0-19-9-73-2-27 1-16 3-16 5-16 5-14 10-16 12-16 12-14 16-13 16-11 14-6 16-5zM-36 -22l-10 5-7 6-7 8-8 11-17 30-5 11-3 10 0 17-1 2-3 0-11-5-3 0 1 5 6 11 12 12 35 23 15 8 16 6 18 2 16-1 15-4 11-5 9-8 13-25 6-13 2-14 0-11-3-18-5-17-7-13-8-11-11-9-14-8-11-5-10-2-17 0z"/>
<path fill="#00e800" stroke="#00e800" d="M-40 -143l18-3 17 1 19 4 24 7 19 8 16 9 15 12 14 13 15 19 21 35 16 20 5 10 4 11 2 15-1 44 2 14 4 10 3 5 16 9 0 11-16-9-6-4-5-14-3-16 3-46-2-14-3-10-17-22-12-25-10-18-18-24-12-12-15-11-14-8-18-8-22-6-22-4-19-1-16 2-16 3-13 5-14 7-15 11-12 10-14 15-10 15-10 16-5 14-5 16-3 16-1 16 2 27 9 73 0 19-1 4-2 3-41 35 0-19 32-25 3-3 1-3 0-22-7-45-1-41 2-19 3-16 5-16 5-14 9-16 9-13 12-14 14-13 15-11 14-8 16-7zM-35 -22l16-2 14 0 10 2 14 6 13 9 11 9 8 12 6 13 4 16 3 16 0 14-3 13-6 14-14 24-7 6-12 6-14 3-16 1-18-2-16-6-15-8-35-23-12-12-6-11-1-5 3 0 11 5 3 0 1-2 0-17 3-10 5-11 17-30 9-12 8-9 8-5zM-28 -19l-10 2-8 5-9 9-8 11-20 41-3 13 1 14 6 13 9 12 13 12 16 11 11 6 14 4 13 1 14-2 10-3 7-6 15-16 9-14 5-13 2-13 0-14-3-16-6-16-7-14-5-6-13-10-14-8-11-3-14-1z"/>
<path fill="#00f500" stroke="#00f500" d="M-32 -149l16-1 18 2 17 3 22 8 18 9 17 10 16 13 13 13 13 16 17 26 19 24 5 8 5 15 3 14 1 16 0 30 2 11 6 14 5 4 8 4 0 10-16-9-3-5-4-10-2-14 1-44-2-15-4-11-5-10-16-20-21-35-15-19-14-13-15-12-16-9-16-7-19-6-22-5-16-2-16 1-17 3-16 6-13 7-16 10-14 11-13 14-11 13-10 16-7 16-6 17-3 16-2 19 0 40 2 19 5 32 0 22-1 3-3 3-32 25 0-19 24-16 3-2 1-5 0-21-5-46 1-33 2-19 4-18 5-17 8-17 11-17 11-14 14-14 13-11 16-10 16-8 16-5zM-27 -19l16-1 11 1 11 3 14 8 13 10 5 6 7 14 6 16 3 16 0 14-2 13-5 13-9 14-15 16-7 6-10 3-14 2-13-1-14-4-11-6-16-11-13-12-9-12-6-13-1-14 3-13 20-41 8-11 9-9 8-5zM-16 -16l-16 2-8 3-8 6-7 8-10 16-11 27-3 11 0 11 2 10 4 8 8 11 11 9 16 11 14 7 13 3 11 0 11-2 11-6 10-8 9-8 7-11 4-11 3-13 0-11-3-16-4-14-5-12-5-7-16-13-14-8-11-3z"/>
<path fill="#13ff00" stroke="#13ff00" d="M-19 -154l16 0 17 3 18 7 19 8 17 10 16 11 14 12 15 17 41 52 8 15 4 14 3 13 3 41 1 10 5 15 3 3 8 3 0 10-8-4-5-4-5-12-3-13 0-30-1-16-3-14-5-15-5-8-19-24-17-26-13-16-13-13-16-13-17-10-16-8-19-7-19-5-16-2-16 0-16 3-16 5-17 8-16 9-15 12-14 13-12 14-10 15-8 16-6 17-5 19-3 22-1 32 5 49 0 21-1 5-3 2-24 16 0-20 16-8 3-3 1-3 0-24-2-46 2-29 4-19 5-19 7-16 8-17 12-16 12-13 15-14 17-12 16-8 19-8 19-5zM-14 -16l14 0 11 4 13 8 14 12 5 7 5 12 4 14 3 16 0 11-3 13-4 11-7 11-9 8-10 8-11 6-11 2-11 0-13-3-14-7-16-11-11-9-8-11-4-8-2-10 0-11 3-11 13-30 10-16 8-8 7-4zM-26 -11l-12 3-5 3-7 8-8 11-7 16-7 21-1 11 1 11 5 10 6 9 10 9 13 9 14 6 10 3 11 1 11-2 11-4 11-7 9-10 6-11 4-10 1-11 0-14-3-16-5-13-4-8-11-10-12-9-10-5-8-2-11 0z"/>
<path fill="#53ff00" stroke="#53ff00" d="M-30 -157l19-1 16 1 17 4 18 7 19 10 19 13 16 13 16 16 41 50 11 19 8 25 5 43 2 11 4 12 3 3 5 2 0 9-9-4-5-11-3-14-3-46-4-16-6-14-8-13-45-56-14-14-16-13-17-10-16-9-16-7-16-4-16-3-17 0-16 2-16 5-19 8-16 8-16 12-14 11-13 15-11 15-9 16-8 19-5 19-4 19-2 29 2 46 0 24-1 3-3 3-16 8 0-22 10-5 2-5 2-65 4-30 9-30 13-27 11-16 11-13 14-13 13-10 19-11 16-8 16-6zM-24 -11l13-2 8 1 8 2 10 5 12 9 11 10 4 8 5 13 3 16 0 14-1 11-4 10-6 11-9 10-11 7-11 4-11 2-11-1-10-3-14-6-13-9-10-9-6-9-5-10-1-11 1-11 7-21 7-16 8-11 7-8 5-3zM-16 -8l-24 5-3 3-7 8-7 14-6 16-4 16 0 14 3 10 5 8 8 9 11 8 10 6 11 4 11 1 11 0 11-3 8-5 8-6 8-10 4-9 3-11 1-8-1-16-3-14-4-10-3-5-6-6-13-11-11-7-8-2z"/>
<path fill="#93ff00" stroke="#93ff00" d="M-35 -160l19-2 16 1 16 3 19 6 19 9 21 13 17 13 16 16 16 17 24 30 9 12 5 11 5 13 4 13 8 48 5 16 2 3 3 1 0 8-7-3-4-11-3-14-5-43-4-16-7-15-11-17-36-44-15-15-13-12-16-12-17-9-19-9-16-5-16-3-16-1-16 2-19 4-19 7-16 9-17 10-15 13-13 13-11 14-15 27-11 29-4 16-3 19-2 71-2 5-10 5 0-31 3-8 12-71 10-30 14-27 9-13 12-14 13-12 13-11 17-10 19-9 16-6zM-14 -8l11-1 8 2 11 7 16 14 5 5 3 8 5 24 1 14-1 8-4 11-6 10-8 8-8 6-8 4-11 2-11 0-11-2-10-4-11-7-11-9-7-8-4-8-3-11 1-14 5-19 6-13 8-14 5-5 5-4zM-22 -3l-18 6-9 11-6 13-5 16-2 14 0 11 5 10 5 8 8 8 9 7 11 5 10 3 11 0 8-1 11-4 9-7 7-8 6-11 3-8 0-11-1-13-2-14-3-8-4-5-15-14-11-8-5-2-5 0z"/>
<path fill="#d2ff00" stroke="#d2ff00" d="M-22 -165l19 0 17 3 18 5 13 6 20 11 19 13 16 13 16 17 32 38 9 12 8 16 8 25 8 44 5 13 3 3 0 9-3-1-2-3-4-10-3-14-6-40-4-13-5-13-5-11-9-12-31-38-16-16-15-13-16-12-16-10-16-8-16-6-17-3-16-2-19 2-16 3-16 5-19 8-16 10-16 11-14 13-12 13-8 11-10 16-6 13-7 17-7 26-9 61-3 8 0-61 5-10 12-33 9-18 9-17 9-13 13-14 13-13 14-10 16-10 16-8 16-6 19-5zM-22 -3l19-2 8 2 11 8 15 14 4 5 3 8 2 14 1 13 0 11-3 8-6 11-7 8-9 7-11 4-8 1-11 0-10-3-11-5-9-7-8-8-5-8-5-10 0-11 2-14 5-16 6-13 9-11zM-12 0l-23 5-5 3-3 3-6 11-5 13-3 16 0 11 2 8 4 8 6 8 7 7 8 5 8 3 11 3 8 0 11-2 8-4 8-6 6-7 3-7 3-8 0-21-3-19-5-8-14-13-11-9-6-1z"/>
<path fill="#fffa00" stroke="#fffa00" d="M-35 -167l19-2 19 2 19 4 19 6 17 9 17 10 17 13 16 15 16 17 19 23 11 15 9 15 4 10 6 16 8 36 5 18 3 4 0 10-3-3-5-13-8-44-8-25-14-24-18-23-30-33-14-12-16-12-17-11-16-8-16-5-16-4-13-2-17 0-16 2-16 4-13 4-17 8-13 7-16 12-22 20-12 14-9 13-12 24-16 41-5 10 0-34 5-7 28-45 20-24 23-20 24-15 24-10 16-4zM-11 0l8-1 6 1 11 9 14 13 5 8 3 19 0 21-3 8-3 7-6 7-8 6-8 4-11 2-8 0-11-3-8-3-8-5-7-7-6-8-4-8-2-8 0-11 3-16 5-13 6-11 3-3 5-3zM-15 5l-20 5-3 2-4 4-4 11-4 14-2 13 0 11 3 8 4 5 5 6 8 7 8 4 8 3 8 1 8-1 8-2 8-4 6-6 6-8 2-5 2-11-1-24-1-6-3-5-24-21-6-2z"/>
<path fill="#ffea00" stroke="#ffea00" d="M-30 -173l19 1 19 2 16 4 19 7 16 8 17 11 18 13 17 16 16 17 19 23 11 16 8 14 7 19 12 42 5 12 0 12-3-4-4-13-8-38-7-19-12-24-17-23-30-33-14-12-16-13-16-11-15-8-15-6-16-5-13-2-17-2-13 1-16 2-14 3-16 5-27 13-24 18-19 19-15 19-26 42-5 7 0-49 8 3 3 1 2-1 38-43 16-14 17-10 16-7 19-6 21-5zM-14 5l9-1 5 0 12 10 15 13 3 5 1 11 0 25-2 8-2 4-5 7-8 6-9 4-8 2-8 0-8-2-8-3-8-5-6-5-6-8-4-8-1-6 0-11 2-13 5-14 5-10 5-4zM-16 11l-16 4-6 4-4 8-3 14-2 13 1 11 5 11 4 5 7 6 14 6 8 1 8-1 8-2 7-5 6-5 3-5 3-19-1-22-4-7-19-16-8-2z"/>
<path fill="#ffda00" stroke="#ffda00" d="M-186 -189l106 0 4 8 3 1 54 2 33 6 27 9 24 12 23 16 23 20 21 23 22 28 11 19 6 15 13 39 5 12 0 11-5-12-15-50-7-16-11-18-21-27-22-23-22-19-23-15-15-9-16-6-18-5-17-3-16-2-16 0-16 2-19 5-30 10-13 8-11 7-19 17-27 33-6 5-2 1-11-4 0-100zM-14 10l11 0 6 2 20 18 3 8 1 21-2 14-3 5-4 6-7 5-6 3-8 2-8 0-8-2-13-7-6-5-5-7-4-11 0-11 2-10 3-14 4-8 6-4zM-12 16l-18 4-5 3-3 7-2 13 0 19 3 11 8 8 13 6 13 1 8-2 5-2 4-3 3-5 4-19 0-19-2-6-16-13-8-3z"/>
<path fill="#ffc900" stroke="#ffc900" d="M-78 -189l37 0 57 14 22 8 19 9 16 10 19 13 18 16 17 17 16 20 14 19 12 23 15 40 5 11 0 10-5-12-14-42-13-26-14-19-19-23-17-18-19-16-15-11-16-9-16-8-17-6-21-5-19-3-57-3-3-1-2-3-2-5zM-11 16l8 1 8 4 14 11 3 7-1 20-4 17-3 5-4 3-5 2-8 2-13-1-13-6-8-8-3-11 0-19 2-13 3-7 5-3zM-22 24l-8 2-2 6-1 22 0 8 3 8 6 8 8 4 11 1 8-2 5-5 5-11 3-16-1-11-4-5-14-8-8-1z"/>
<path fill="#ffb806" stroke="#ffb806" d="M-40 -189l30 0 45 18 19 8 16 10 16 11 16 12 15 14 15 17 16 20 11 17 10 19 15 35 5 10 0 9-5-11-15-40-12-23-11-16-16-20-14-14-16-15-15-12-15-11-29-15-33-11zM-22 24l11 0 8 1 14 8 4 5 1 11-3 16-5 11-5 5-8 2-11-1-8-4-6-8-3-8 0-8 1-22 2-6zM-24 35l1 3 5 13-1 8 1 6 5 5 5 1 3-1 5-5 7-22-1-2-6-4-14-4-8 0z"/>
<path fill="#ffa41a" stroke="#ffa41a" d="M-8 -189l14 0 53 26 30 20 24 21 25 26 21 30 10 17 15 34 5 9 0 8-5-10-16-38-11-21-19-26-25-26-24-21-24-17-24-12-45-17-6-3zM-22 33l6 0 11 2 8 3 3 3 1 2-7 22-5 5-3 1-5-1-5-5-1-6 0-10-4-11-1-3z"/>
<path fill="#ff902e" stroke="#ff902e" d="M8 -189l10 0 52 30 26 19 23 20 21 24 19 27 25 47 5 8 0 8-5-9-17-36-10-19-17-23-21-24-22-20-21-16-25-14-41-19-4-3z"/>
<path fill="#ff7c42" stroke="#ff7c42" d="M19 -189l8 0 49 31 24 18 22 20 18 21 19 26 30 52 0 7-32-59-17-23-18-21-19-18-21-16-20-13-41-22-3-3z"/>
<path fill="#ff694d" stroke="#ff694d" d="M30 -189l6 0 48 34 21 17 19 18 16 18 17 24 32 51 0 6-34-57-15-21-16-19-16-15-16-14-19-13-43-26-3-3z"/>
<path fill="#ff5743" stroke="#ff5743" d="M38 -189l5 0 49 37 19 16 16 16 16 19 15 20 31 47 0 7-35-57-14-18-13-15-14-14-16-14-16-12-43-29-2-3z"/>
<path fill="#ff4639" stroke="#ff4639" d="M46 -189l6 0 5 5 51 43 20 19 22 28 39 54 0 6-37-55-24-30-25-24-57-43-3-3z"/>
<path fill="#ff342f" stroke="#ff342f" d="M54 -189l9 0 1 5 3 3 41 37 23 22 16 19 42 56 0 7-37-52-21-27-26-25-48-40-5-5z"/>
<path fill="#fd2525" stroke="#fd2525" d="M65 -189l11 0-1 5 1 6 37 35 25 27 46 57 5 3 0 9-53-69-25-26-44-39-4-5 0-3z"/>
<path fill="#f61b1b" stroke="#f61b1b" d="M76 -187l0-2 15 0-5 11 2 5 44 46 49 57 3 2 5 1 0 11-5-3-34-44-20-23-19-20-35-32-1-3z"/>
<path fill="#ef1111" stroke="#ef1111" d="M92 -189l17 0-9 16 0 6 37 40 39 44 5 3 8-3 0 16-5-1-3-2-49-57-44-46-2-5 5-11z"/>
<path fill="#e90707" stroke="#e90707" d="M108 -188l1-1 24 0-17 26-1 4 1 2 43 50 11 10 3 1 3 0 13-7 0 20-8 3-5-3-41-47-33-35-3-5 1-3z"/>
<path fill="#e00000" stroke="#e00000" d="M132 -187l1-2 56 0 0 6-43 41-2 4 2 5 5 6 3 1 3 0 32-25 0 48-13 7-3 0-3-1-11-10-43-50-1-2 1-4z"/>
<path fill="#d10000" stroke="#d10000" d="M186 -181l3-2 0 32-32 25-3 0-3-1-6-8-1-3 1-2z"/>
</g></g>
<line x1="724.7" y1="182.5" x2="728.7" y2="182.5" stroke="#222" stroke-width="0.9"/>
<line x1="721.6" y1="159.3" x2="725.5" y2="158.2" stroke="#222" stroke-width="0.9"/>
<line x1="712.7" y1="137.7" x2="716.1" y2="135.7" stroke="#222" stroke-width="0.9"/>
<line x1="698.4" y1="119.1" x2="701.3" y2="116.2" stroke="#222" stroke-width="0.9"/>
<line x1="679.9" y1="104.8" x2="681.9" y2="101.4" stroke="#222" stroke-width="0.9"/>
<line x1="658.2" y1="95.9" x2="659.3" y2="92.0" stroke="#222" stroke-width="0.9"/>
<line x1="635.0" y1="92.8" x2="635.0" y2="88.8" stroke="#222" stroke-width="0.9"/>
<line x1="611.8" y1="95.9" x2="610.7" y2="92.0" stroke="#222" stroke-width="0.9"/>
<line x1="590.1" y1="104.8" x2="588.1" y2="101.4" stroke="#222" stroke-width="0.9"/>
<line x1="571.6" y1="119.1" x2="568.7" y2="116.2" stroke="#222" stroke-width="0.9"/>
<line x1="557.3" y1="137.7" x2="553.9" y2="135.7" stroke="#222" stroke-width="0.9"/>
<line x1="548.4" y1="159.3" x2="544.5" y2="158.2" stroke="#222" stroke-width="0.9"/>
<line x1="545.3" y1="182.5" x2="541.3" y2="182.5" stroke="#222" stroke-width="0.9"/>
<line x1="548.4" y1="205.7" x2="544.5" y2="206.8" stroke="#222" stroke-width="0.9"/>
<line x1="557.3" y1="227.4" x2="553.9" y2="229.4" stroke="#222" stroke-width="0.9"/>
<line x1="571.6" y1="245.9" x2="568.7" y2="248.8" stroke="#222" stroke-width="0.9"/>
<line x1="590.1" y1="260.2" x2="588.1" y2="263.6" stroke="#222" stroke-width="0.9"/>
<line x1="611.8" y1="269.1" x2="610.7" y2="273.0" stroke="#222" stroke-width="0.9"/>
<line x1="635.0" y1="272.2" x2="635.0" y2="276.2" stroke="#222" stroke-width="0.9"/>
<line x1="658.2" y1="269.1" x2="659.3" y2="273.0" stroke="#222" stroke-width="0.9"/>
<line x1="679.9" y1="260.2" x2="681.9" y2="263.6" stroke="#222" stroke-width="0.9"/>
<line x1="698.4" y1="245.9" x2="701.3" y2="248.8" stroke="#222" stroke-width="0.9"/>
<line x1="712.7" y1="227.4" x2="716.1" y2="229.4" stroke="#222" stroke-width="0.9"/>
<line x1="721.6" y1="205.7" x2="725.5" y2="206.8" stroke="#222" stroke-width="0.9"/>
<text x="2.2" y="2.8" font-size="8" text-anchor="middle" fill="#2e2222" transform="translate(732.2 182.5) rotate(90)">0 °</text>
<text x="3.6" y="2.8" font-size="8" text-anchor="middle" fill="#2e2222" transform="translate(718.1 134.6) rotate(60)">30 °</text>
<text x="3.6" y="2.8" font-size="8" text-anchor="middle" fill="#2e2222" transform="translate(683.0 99.4) rotate(30)">60 °</text>
<text x="3.6" y="2.8" font-size="8" text-anchor="middle" fill="#2e2222" transform="translate(635.0 86.6) rotate(0)">90 °</text>
<text x="3.6" y="2.8" font-size="8" text-anchor="middle" fill="#2e2222" transform="translate(587.1 99.4) rotate(-30)">120 °</text>
<text x="3.6" y="2.8" font-size="8" text-anchor="middle" fill="#2e2222" transform="translate(551.9 134.6) rotate(-60)">150 °</text>
<text x="2.2" y="2.8" font-size="8" text-anchor="middle" fill="#2e2222" transform="translate(537.8 182.5) rotate(90)">180 °</text>
<text x="2.2" y="2.8" font-size="8" text-anchor="middle" fill="#2e2222" transform="translate(550.8 231.1) rotate(60)">210 °</text>
<text x="2.2" y="2.8" font-size="8" text-anchor="middle" fill="#2e2222" transform="translate(586.4 266.7) rotate(30)">240 °</text>
<text x="2.2" y="2.8" font-size="8" text-anchor="middle" fill="#2e2222" transform="translate(635.0 279.7) rotate(0)">270 °</text>
<text x="2.2" y="2.8" font-size="8" text-anchor="middle" fill="#2e2222" transform="translate(683.6 266.7) rotate(-30)">300 °</text>
<text x="2.2" y="2.8" font-size="8" text-anchor="middle" fill="#2e2222" transform="translate(719.2 231.1) rotate(-60)">330 °</text>
<circle cx="632.6" cy="171.5" r="31" fill="none" stroke="#303030" stroke-width="1"/>
<circle cx="632.6" cy="171.5" r="31" fill="none" stroke="#f4f4f4" stroke-width="1" stroke-dasharray="3.5 3"/>
<line x1="628.6" y1="171.5" x2="636.6" y2="171.5" stroke="#fff" stroke-width="1"/>
<line x1="632.6" y1="167.5" x2="632.6" y2="175.5" stroke="#fff" stroke-width="1"/>
<line x1="630.6" y1="171.5" x2="634.6" y2="171.5" stroke="#222" stroke-width="0.8"/>
<line x1="632.6" y1="169.5" x2="632.6" y2="173.5" stroke="#222" stroke-width="0.8"/>
<text x="649.4" y="173.7" font-size="9.2" text-anchor="middle" fill="#111" textLength="7.9" lengthAdjust="spacingAndGlyphs">-9</text>
<text x="620.6" y="173.7" font-size="9.2" text-anchor="middle" fill="#111" textLength="7.9" lengthAdjust="spacingAndGlyphs">-2</text>
<text x="620.6" y="202.5" font-size="9.2" text-anchor="middle" fill="#111" textLength="15.1" lengthAdjust="spacingAndGlyphs">+24</text>
<text x="649.4" y="202.5" font-size="9.2" text-anchor="middle" fill="#111" textLength="15.1" lengthAdjust="spacingAndGlyphs">+16</text>
<text x="675.6" y="188.1" font-size="9.2" text-anchor="middle" fill="#111" textLength="12.9" lengthAdjust="spacingAndGlyphs">-17</text>
<text x="663.7" y="159.4" font-size="9.2" text-anchor="middle" fill="#111" textLength="12.9" lengthAdjust="spacingAndGlyphs">-22</text>
<text x="635.0" y="147.5" font-size="9.2" text-anchor="middle" fill="#111" textLength="12.9" lengthAdjust="spacingAndGlyphs">-19</text>
<text x="606.3" y="159.4" font-size="9.2" text-anchor="middle" fill="#111" textLength="12.9" lengthAdjust="spacingAndGlyphs">-18</text>
<text x="594.4" y="188.1" font-size="9.2" text-anchor="middle" fill="#111" textLength="7.9" lengthAdjust="spacingAndGlyphs">-8</text>
<text x="606.3" y="216.8" font-size="9.2" text-anchor="middle" fill="#111" textLength="15.1" lengthAdjust="spacingAndGlyphs">+14</text>
<text x="635.0" y="228.7" font-size="9.2" text-anchor="middle" fill="#111" textLength="15.1" lengthAdjust="spacingAndGlyphs">+22</text>
<text x="663.7" y="216.8" font-size="9.2" text-anchor="middle" fill="#111" textLength="10.2" lengthAdjust="spacingAndGlyphs">+4</text>
<text x="635.0" y="127.2" font-size="9.2" text-anchor="middle" fill="#111" textLength="7.9" lengthAdjust="spacingAndGlyphs">-5</text>
<text x="608.6" y="133.2" font-size="9.2" text-anchor="middle" fill="#111" textLength="7.9" lengthAdjust="spacingAndGlyphs">-8</text>
<text x="587.4" y="150.1" font-size="9.2" text-anchor="middle" fill="#111" textLength="12.9" lengthAdjust="spacingAndGlyphs">-16</text>
<text x="575.6" y="174.5" font-size="9.2" text-anchor="middle" fill="#111" textLength="12.9" lengthAdjust="spacingAndGlyphs">-19</text>
<text x="575.6" y="201.7" font-size="9.2" text-anchor="middle" fill="#111" textLength="12.9" lengthAdjust="spacingAndGlyphs">-10</text>
<text x="587.4" y="226.1" font-size="9.2" text-anchor="middle" fill="#111" textLength="10.2" lengthAdjust="spacingAndGlyphs">+1</text>
<text x="608.6" y="243.0" font-size="9.2" text-anchor="middle" fill="#111" textLength="10.2" lengthAdjust="spacingAndGlyphs">+4</text>
<text x="635.0" y="249.0" font-size="9.2" text-anchor="middle" fill="#111" textLength="10.2" lengthAdjust="spacingAndGlyphs">+5</text>
<text x="661.4" y="243.0" font-size="9.2" text-anchor="middle" fill="#111" textLength="7.9" lengthAdjust="spacingAndGlyphs">-1</text>
<text x="682.6" y="226.1" font-size="9.2" text-anchor="middle" fill="#111" textLength="12.2" lengthAdjust="spacingAndGlyphs">-11</text>
<text x="694.4" y="201.7" font-size="9.2" text-anchor="middle" fill="#111" textLength="12.9" lengthAdjust="spacingAndGlyphs">-14</text>
<text x="694.4" y="174.5" font-size="9.2" text-anchor="middle" fill="#111" textLength="12.9" lengthAdjust="spacingAndGlyphs">-10</text>
<text x="682.6" y="150.1" font-size="9.2" text-anchor="middle" fill="#111" textLength="7.9" lengthAdjust="spacingAndGlyphs">-5</text>
<text x="661.4" y="133.2" font-size="9.2" text-anchor="middle" fill="#111" textLength="7.9" lengthAdjust="spacingAndGlyphs">-5</text>
<circle cx="626.4" cy="183.9" r="2.6" fill="none" stroke="#111" stroke-width="0.9"/>
<text x="628.2" y="187.7" font-size="9.2" fill="#111" textLength="15.1" lengthAdjust="spacingAndGlyphs">+15</text>
<circle cx="630.7" cy="204.9" r="14" fill="none" stroke="#fff" stroke-width="1"/>
<rect x="617.2" y="200.6" width="26.5" height="9.6" fill="#ffffff"/>
<text x="630.5" y="208.7" font-size="9.2" text-anchor="middle" fill="#111" textLength="24.6" lengthAdjust="spacingAndGlyphs">+28µm</text>
<rect x="220.0" y="309.0" width="282.0" height="242.0" fill="#404040"/>
<rect x="220.0" y="309.0" width="281.0" height="241.0" fill="#ffffff"/>
<rect x="221.0" y="310.0" width="280.0" height="240.0" fill="#f0f0f0"/>
<line x1="264.5" y1="310.0" x2="264.5" y2="549.0" stroke="#a8a8a8" stroke-width="1"/>
<line x1="265.5" y1="310.0" x2="265.5" y2="549.0" stroke="#ffffff" stroke-width="1"/>
<rect x="222.0" y="310.8" width="27.0" height="12.8" fill="#d66868"/>
<text x="235.5" y="319.9" font-size="9.5" text-anchor="middle" fill="#222222" textLength="13.2" lengthAdjust="spacingAndGlyphs">300</text>
<rect x="222.0" y="323.3" width="27.0" height="12.8" fill="#a83030"/>
<text x="235.5" y="332.4" font-size="9.5" text-anchor="middle" fill="#ffffff" textLength="13.2" lengthAdjust="spacingAndGlyphs">340</text>
<rect x="222.0" y="335.8" width="27.0" height="12.8" fill="#c80000"/>
<text x="235.5" y="344.9" font-size="9.5" text-anchor="middle" fill="#ffffff" textLength="13.2" lengthAdjust="spacingAndGlyphs">380</text>
<rect x="222.0" y="348.2" width="27.0" height="12.8" fill="#e85c00"/>
<text x="235.5" y="357.3" font-size="9.5" text-anchor="middle" fill="#222222" textLength="13.2" lengthAdjust="spacingAndGlyphs">420</text>
<rect x="222.0" y="360.7" width="27.0" height="12.8" fill="#e29600"/>
<text x="235.5" y="369.8" font-size="9.5" text-anchor="middle" fill="#222222" textLength="13.2" lengthAdjust="spacingAndGlyphs">460</text>
<rect x="222.0" y="373.2" width="27.0" height="12.8" fill="#dec800"/>
<text x="235.5" y="382.3" font-size="9.5" text-anchor="middle" fill="#222222" textLength="13.2" lengthAdjust="spacingAndGlyphs">500</text>
<rect x="222.0" y="385.7" width="27.0" height="12.8" fill="#ffff00"/>
<text x="235.5" y="394.8" font-size="9.5" text-anchor="middle" fill="#222222" textLength="13.2" lengthAdjust="spacingAndGlyphs">540</text>
<rect x="222.0" y="398.2" width="27.0" height="12.8" fill="#4cdc00"/>
<text x="235.5" y="407.3" font-size="9.5" text-anchor="middle" fill="#222222" textLength="13.2" lengthAdjust="spacingAndGlyphs">580</text>
<rect x="222.0" y="410.6" width="27.0" height="12.8" fill="#00e4ff"/>
<text x="235.5" y="419.7" font-size="9.5" text-anchor="middle" fill="#222222" textLength="13.2" lengthAdjust="spacingAndGlyphs">620</text>
<rect x="222.0" y="423.1" width="27.0" height="12.8" fill="#00b0ff"/>
<text x="235.5" y="432.2" font-size="9.5" text-anchor="middle" fill="#222222" textLength="13.2" lengthAdjust="spacingAndGlyphs">660</text>
<rect x="222.0" y="435.6" width="27.0" height="12.8" fill="#1e80ff"/>
<text x="235.5" y="444.7" font-size="9.5" text-anchor="middle" fill="#222222" textLength="13.2" lengthAdjust="spacingAndGlyphs">700</text>
<rect x="222.0" y="448.1" width="27.0" height="12.8" fill="#2c4ee4"/>
<text x="235.5" y="457.2" font-size="9.5" text-anchor="middle" fill="#ffffff" textLength="13.2" lengthAdjust="spacingAndGlyphs">740</text>
<rect x="222.0" y="460.6" width="27.0" height="12.8" fill="#280a8c"/>
<text x="235.5" y="469.7" font-size="9.5" text-anchor="middle" fill="#ffffff" textLength="13.2" lengthAdjust="spacingAndGlyphs">780</text>
<rect x="222.0" y="473.0" width="27.0" height="12.8" fill="#642896"/>
<text x="235.5" y="482.1" font-size="9.5" text-anchor="middle" fill="#ffffff" textLength="13.2" lengthAdjust="spacingAndGlyphs">820</text>
<rect x="222.0" y="485.5" width="27.0" height="12.8" fill="#8428c0"/>
<text x="235.5" y="494.6" font-size="9.5" text-anchor="middle" fill="#ffffff" textLength="13.2" lengthAdjust="spacingAndGlyphs">860</text>
<rect x="222.0" y="498.0" width="27.0" height="12.8" fill="#ba2cfa"/>
<text x="235.5" y="507.1" font-size="9.5" text-anchor="middle" fill="#ffffff" textLength="13.2" lengthAdjust="spacingAndGlyphs">900</text>
<rect x="249.0" y="310.8" width="15.2" height="199.7" fill="#ffffff"/>
<rect x="249.0" y="314.6" width="15.2" height="193.4" fill="#000000"/>
<rect x="249.0" y="315.5" width="14.6" height="2.3" fill="#d66868"/>
<rect x="250.1" y="318.6" width="13.5" height="2.3" fill="#cb5a5a"/>
<rect x="250.1" y="321.7" width="13.5" height="2.3" fill="#bf4c4c"/>
<rect x="250.1" y="324.8" width="13.5" height="2.3" fill="#b43f3f"/>
<rect x="249.0" y="327.9" width="14.6" height="2.3" fill="#a93131"/>
<rect x="250.1" y="331.1" width="13.5" height="2.3" fill="#af2525"/>
<rect x="250.1" y="334.2" width="13.5" height="2.3" fill="#b71919"/>
<rect x="250.1" y="337.3" width="13.5" height="2.3" fill="#bf0d0d"/>
<rect x="249.0" y="340.4" width="14.6" height="2.3" fill="#c70202"/>
<rect x="250.1" y="343.5" width="13.5" height="2.3" fill="#cf1400"/>
<rect x="250.1" y="346.7" width="13.5" height="2.3" fill="#d72a00"/>
<rect x="250.1" y="349.8" width="13.5" height="2.3" fill="#df4100"/>
<rect x="249.0" y="352.9" width="14.6" height="2.3" fill="#e65700"/>
<rect x="250.1" y="356.0" width="13.5" height="2.3" fill="#e76700"/>
<rect x="250.1" y="359.1" width="13.5" height="2.3" fill="#e57600"/>
<rect x="250.1" y="362.3" width="13.5" height="2.3" fill="#e48400"/>
<rect x="249.0" y="365.4" width="14.6" height="2.3" fill="#e29200"/>
<rect x="250.1" y="368.5" width="13.5" height="2.3" fill="#e19f00"/>
<rect x="250.1" y="371.6" width="13.5" height="2.3" fill="#e0ab00"/>
<rect x="250.1" y="374.7" width="13.5" height="2.3" fill="#dfb800"/>
<rect x="249.0" y="377.9" width="14.6" height="2.3" fill="#dec400"/>
<rect x="250.1" y="381.0" width="13.5" height="2.3" fill="#e3d100"/>
<rect x="250.1" y="384.1" width="13.5" height="2.3" fill="#ecdf00"/>
<rect x="250.1" y="387.2" width="13.5" height="2.3" fill="#f4ec00"/>
<rect x="249.0" y="390.3" width="14.6" height="2.3" fill="#fcfa00"/>
<rect x="250.1" y="393.5" width="13.5" height="2.3" fill="#e5fa00"/>
<rect x="250.1" y="396.6" width="13.5" height="2.3" fill="#b9f100"/>
<rect x="250.1" y="399.7" width="13.5" height="2.3" fill="#8de900"/>
<rect x="249.0" y="402.8" width="14.6" height="2.3" fill="#61e000"/>
<rect x="250.1" y="405.9" width="13.5" height="2.3" fill="#42dd21"/>
<rect x="250.1" y="409.1" width="13.5" height="2.3" fill="#2fdf60"/>
<rect x="250.1" y="412.2" width="13.5" height="2.3" fill="#1de19f"/>
<rect x="249.0" y="415.3" width="14.6" height="2.3" fill="#0ae3de"/>
<rect x="250.1" y="418.4" width="13.5" height="2.3" fill="#00deff"/>
<rect x="250.1" y="421.5" width="13.5" height="2.3" fill="#00d1ff"/>
<rect x="250.1" y="424.7" width="13.5" height="2.3" fill="#00c4ff"/>
<rect x="249.0" y="427.8" width="14.6" height="2.3" fill="#00b8ff"/>
<rect x="250.1" y="430.9" width="13.5" height="2.3" fill="#03abff"/>
<rect x="250.1" y="434.0" width="13.5" height="2.3" fill="#0a9fff"/>
<rect x="250.1" y="437.1" width="13.5" height="2.3" fill="#1294ff"/>
<rect x="249.0" y="440.3" width="14.6" height="2.3" fill="#1988ff"/>
<rect x="250.1" y="443.4" width="13.5" height="2.3" fill="#1f7cfd"/>
<rect x="250.1" y="446.5" width="13.5" height="2.3" fill="#2370f6"/>
<rect x="250.1" y="449.6" width="13.5" height="2.3" fill="#2663f0"/>
<rect x="249.0" y="452.7" width="14.6" height="2.3" fill="#2957e9"/>
<rect x="250.1" y="455.9" width="13.5" height="2.3" fill="#2c4ade"/>
<rect x="250.1" y="459.0" width="13.5" height="2.3" fill="#2b39c9"/>
<rect x="250.1" y="462.1" width="13.5" height="2.3" fill="#2a28b3"/>
<rect x="249.0" y="465.2" width="14.6" height="2.3" fill="#29179d"/>
<rect x="250.1" y="468.3" width="13.5" height="2.3" fill="#2b0b8c"/>
<rect x="250.1" y="471.5" width="13.5" height="2.3" fill="#3a138f"/>
<rect x="250.1" y="474.6" width="13.5" height="2.3" fill="#481a91"/>
<rect x="249.0" y="477.7" width="14.6" height="2.3" fill="#572294"/>
<rect x="250.1" y="480.8" width="13.5" height="2.3" fill="#652897"/>
<rect x="250.1" y="483.9" width="13.5" height="2.3" fill="#6d28a2"/>
<rect x="250.1" y="487.1" width="13.5" height="2.3" fill="#7528ac"/>
<rect x="249.0" y="490.2" width="14.6" height="2.3" fill="#7d28b6"/>
<rect x="250.1" y="493.3" width="13.5" height="2.3" fill="#8528c1"/>
<rect x="250.1" y="496.4" width="13.5" height="2.3" fill="#9229cf"/>
<rect x="250.1" y="499.5" width="13.5" height="2.3" fill="#9f2add"/>
<rect x="249.0" y="502.7" width="14.6" height="2.3" fill="#ad2bec"/>
<rect x="250.1" y="505.8" width="13.5" height="2.3" fill="#ba2cfa"/>
<rect x="222.0" y="510.5" width="42.2" height="12.8" fill="#c8c8c8"/>
<rect x="222.0" y="511.3" width="42.2" height="11.9" fill="#f0f0f0"/>
<text x="243.1" y="520.5" font-size="9.5" text-anchor="middle" fill="#222" textLength="22.9" lengthAdjust="spacingAndGlyphs">10 µm</text>
<rect x="222.0" y="523.2" width="42.2" height="12.8" fill="#c8c8c8"/>
<rect x="222.0" y="524.0" width="42.2" height="11.9" fill="#f0f0f0"/>
<text x="243.1" y="533.2" font-size="9.5" text-anchor="middle" fill="#222" textLength="27.5" lengthAdjust="spacingAndGlyphs">Pachy.</text>
<rect x="222.0" y="536.0" width="42.2" height="12.8" fill="#c8c8c8"/>
<rect x="222.0" y="536.8" width="42.2" height="11.9" fill="#f0f0f0"/>
<text x="243.1" y="546.0" font-size="9.5" text-anchor="middle" fill="#222" textLength="15.9" lengthAdjust="spacingAndGlyphs">Abs</text>
<text x="383.0" y="323.0" text-anchor="middle" textLength="71.1" lengthAdjust="spacingAndGlyphs">Corneal Thickness</text>
<line x1="266.0" y1="332.0" x2="500.0" y2="332.0" stroke="#b8b8b8" stroke-width="1.2"/>
<line x1="266.0" y1="333.1" x2="500.0" y2="333.1" stroke="#ffffff" stroke-width="0.8"/>
<line x1="285.0" y1="339.5" x2="285.0" y2="522.3" stroke="#b0b0b0" stroke-width="1.2"/>
<line x1="281.0" y1="348.8" x2="285.0" y2="348.8" stroke="#909090" stroke-width="0.9"/>
<text x="278.5" y="352.0" font-size="9" text-anchor="end" fill="#3a3a3a">8</text>
<line x1="281.0" y1="369.4" x2="285.0" y2="369.4" stroke="#909090" stroke-width="0.9"/>
<line x1="281.0" y1="390.0" x2="285.0" y2="390.0" stroke="#909090" stroke-width="0.9"/>
<text x="278.5" y="393.2" font-size="9" text-anchor="end" fill="#3a3a3a">4</text>
<line x1="281.0" y1="410.6" x2="285.0" y2="410.6" stroke="#909090" stroke-width="0.9"/>
<line x1="281.0" y1="431.2" x2="285.0" y2="431.2" stroke="#909090" stroke-width="0.9"/>
<text x="278.5" y="434.4" font-size="9" text-anchor="end" fill="#3a3a3a">0</text>
<line x1="281.0" y1="451.8" x2="285.0" y2="451.8" stroke="#909090" stroke-width="0.9"/>
<line x1="281.0" y1="472.4" x2="285.0" y2="472.4" stroke="#909090" stroke-width="0.9"/>
<text x="278.5" y="475.6" font-size="9" text-anchor="end" fill="#3a3a3a">4</text>
<line x1="281.0" y1="493.0" x2="285.0" y2="493.0" stroke="#909090" stroke-width="0.9"/>
<line x1="281.0" y1="513.6" x2="285.0" y2="513.6" stroke="#909090" stroke-width="0.9"/>
<text x="278.5" y="516.8" font-size="9" text-anchor="end" fill="#3a3a3a">8</text>
<line x1="301.0" y1="536.0" x2="485.0" y2="536.0" stroke="#b0b0b0" stroke-width="1.2"/>
<line x1="311.1" y1="536.0" x2="311.1" y2="539.5" stroke="#909090" stroke-width="0.9"/>
<text x="311.1" y="548.3" font-size="9" text-anchor="middle" fill="#3a3a3a">8</text>
<line x1="331.5" y1="536.0" x2="331.5" y2="539.5" stroke="#909090" stroke-width="0.9"/>
<line x1="352.0" y1="536.0" x2="352.0" y2="539.5" stroke="#909090" stroke-width="0.9"/>
<text x="352.0" y="548.3" font-size="9" text-anchor="middle" fill="#3a3a3a">4</text>
<line x1="372.4" y1="536.0" x2="372.4" y2="539.5" stroke="#909090" stroke-width="0.9"/>
<line x1="392.9" y1="536.0" x2="392.9" y2="539.5" stroke="#909090" stroke-width="0.9"/>
<text x="392.9" y="548.3" font-size="9" text-anchor="middle" fill="#3a3a3a">0</text>
<line x1="413.3" y1="536.0" x2="413.3" y2="539.5" stroke="#909090" stroke-width="0.9"/>
<line x1="433.8" y1="536.0" x2="433.8" y2="539.5" stroke="#909090" stroke-width="0.9"/>
<text x="433.8" y="548.3" font-size="9" text-anchor="middle" fill="#3a3a3a">4</text>
<line x1="454.2" y1="536.0" x2="454.2" y2="539.5" stroke="#909090" stroke-width="0.9"/>
<line x1="474.7" y1="536.0" x2="474.7" y2="539.5" stroke="#909090" stroke-width="0.9"/>
<text x="474.7" y="548.3" font-size="9" text-anchor="middle" fill="#3a3a3a">8</text>
<text x="304.3" y="530.8" font-size="12.8" font-weight="bold" fill="#111">T</text>
<text x="476.2" y="530.8" font-size="12.8" font-weight="bold" fill="#111">N</text>
<text x="460.0" y="348.8" font-size="17.6" fill="#000" textLength="25.8" lengthAdjust="spacingAndGlyphs">OD</text>
<circle cx="307.3" cy="338.4" r="4.3" fill="none" stroke="#333" stroke-width="1"/>
<line x1="310.3" y1="341.4" x2="314.2" y2="345.3" stroke="#333" stroke-width="1.8"/>
<text x="312.5" y="352.7" font-size="8.8" text-anchor="middle" fill="#222" textLength="19.0" lengthAdjust="spacingAndGlyphs">9mm</text>
<clipPath id="c220_309"><circle cx="392.5" cy="431.5" r="91.7"/></clipPath>
<g clip-path="url(#c220_309)"><g transform="translate(392.5 431.5) scale(0.5)" stroke-width="1.2" stroke-linejoin="round">
<path fill="#e67200" stroke="#e67200" d="M-5 -22l8 1 5 3 6 6 1 7 0 8-4 6-6 5-8 3-8-1-5-3-4-5-3-8 1-8 3-6 5-5z"/>
<path fill="#e48000" stroke="#e48000" d="M-5 -41l8 1 9 2 5 3 6 5 4 6 3 6 1 7 0 8-4 14-5 8-6 5-5 4-8 4-14 2-7-2-6-2-8-7-5-7-3-5-2-14 1-8 3-7 8-11 13-9zM-6 -22l-8 3-6 5-2 6-1 8 3 8 4 5 5 3 8 1 8-3 6-5 4-6 0-8-1-7-6-6-8-4z"/>
<path fill="#e38f00" stroke="#e38f00" d="M-14 -46l11-2 8 1 9 2 8 4 7 6 6 7 4 9 3 8 0 8-1 11-3 8-5 8-11 11-11 6-8 2-8 0-9-1-8-2-8-5-6-5-6-8-4-8-2-9-1-8 2-8 2-8 5-7 10-12 8-5zM-7 -40l-15 4-10 9-7 11-3 13 2 14 3 5 5 7 8 7 6 2 7 2 8-1 8-2 8-4 6-5 5-6 4-8 3-13 0-9-3-8-3-5-5-5-8-6-7-2z"/>
<path fill="#e29c00" stroke="#e29c00" d="M-8 -54l11 0 8 1 10 4 8 6 8 8 5 8 3 8 2 11 0 11-2 8-4 11-6 8-8 8-8 5-8 4-11 2-11 0-8-2-8-4-8-5-8-8-6-8-3-8-3-11 0-8 3-11 3-8 6-9 7-7 9-7 8-4zM-15 -46l-7 3-8 5-6 6-6 8-4 8-2 8-1 8 2 8 2 8 5 8 5 6 8 7 8 4 8 2 8 0 8-1 8-2 9-5 8-7 5-7 6-16 1-8-1-11-3-8-4-8-7-7-8-6-8-3-8-2-8 0z"/>
<path fill="#e0a900" stroke="#e0a900" d="M-11 -60l11-1 11 2 11 4 10 6 8 9 6 8 4 10 2 11 0 11-2 11-4 11-7 10-8 9-9 6-11 5-11 2-11 0-11-2-10-6-8-5-9-9-6-10-4-11-2-8 0-8 2-11 5-11 6-8 8-9 9-7 11-6zM-9 -54l-10 3-8 4-9 7-7 7-6 9-3 8-3 11 0 8 3 11 3 8 6 8 8 8 8 5 8 4 8 2 11 0 11-2 8-4 8-5 8-8 6-8 4-11 2-8 0-11-2-11-3-8-5-8-8-8-8-6-10-4-11-2z"/>
<path fill="#e0b500" stroke="#e0b500" d="M-8 -65l13 0 11 2 11 5 9 7 8 8 7 11 5 13 1 11 0 13-3 11-6 11-7 11-11 10-11 6-11 4-11 2-11-1-10-3-11-5-10-8-9-9-7-10-4-10-2-11 1-11 3-11 5-11 8-10 10-10 10-7 11-5zM-12 -59l-10 3-9 5-9 7-8 9-6 8-5 11-2 11 0 8 2 8 4 11 6 10 9 9 8 5 10 6 11 2 11 0 11-2 11-5 9-6 8-9 7-10 4-11 2-11 0-11-2-11-5-10-7-11-8-7-11-7-9-2-10-2z"/>
<path fill="#dec200" stroke="#dec200" d="M-16 -68l13-2 11 1 14 4 10 6 11 9 8 10 6 10 4 14 1 13-2 14-4 11-7 13-10 11-11 8-10 5-13 4-10 1-14-1-13-5-11-6-10-9-9-11-6-10-4-11-1-11 2-11 5-13 6-11 9-11 11-10 10-6zM-8 -65l-11 3-12 5-9 7-10 10-8 10-5 11-3 11-1 11 2 11 4 10 7 10 9 9 10 8 11 5 10 3 11 1 11-2 11-4 11-6 11-10 7-11 6-11 3-11 0-13-1-11-5-13-7-11-8-8-9-7-11-5-11-2z"/>
<path fill="#e2cf00" stroke="#e2cf00" d="M-14 -73l14-1 14 1 13 6 11 7 11 10 8 12 5 14 3 13 0 14-3 13-5 13-8 12-10 10-12 9-13 5-14 3-14 0-13-3-13-6-11-7-10-9-8-11-6-10-3-14 0-11 3-13 6-14 7-10 11-12 12-10 12-7zM-17 -67l-13 5-10 6-11 10-9 11-6 11-5 13-2 11 1 11 4 11 6 10 9 11 10 9 11 6 13 5 14 1 10-1 13-4 10-5 11-8 10-11 7-13 4-11 2-14-1-13-4-14-6-10-8-10-11-9-10-6-14-4-13-1z"/>
<path fill="#eadd00" stroke="#eadd00" d="M-8 -79l13 0 17 4 13 8 10 8 9 10 8 14 5 13 2 17-2 16-4 13-7 14-9 11-12 10-13 8-14 4-13 1-17-1-13-4-14-7-12-9-9-10-7-11-5-14-2-13 1-14 4-11 7-13 11-14 12-11 14-10 13-6zM-14 -73l-13 4-12 7-12 10-11 12-7 10-6 14-3 13 0 11 3 14 6 10 8 11 12 11 11 7 14 5 13 2 14 0 13-3 14-7 12-9 9-11 7-11 5-13 2-14 0-13-3-14-7-13-8-11-9-9-11-7-13-6-14-1z"/>
<path fill="#f3ea00" stroke="#f3ea00" d="M-16 -84l16-2 14 3 13 5 14 9 12 12 9 13 6 14 4 16 0 17-3 16-6 13-8 14-12 12-13 9-14 6-16 3-14 0-16-2-16-6-13-9-12-10-10-14-6-13-3-14 0-13 4-17 5-12 8-12 11-11 19-15 13-8zM-11 -78l-13 3-14 7-13 10-13 12-8 11-7 13-4 14-1 13 2 14 6 13 8 11 11 11 12 8 13 6 13 3 16 1 14-2 13-5 14-8 11-10 9-12 6-13 4-14 1-16-3-16-5-14-7-11-11-12-13-10-14-6-13-2z"/>
<path fill="#fbf800" stroke="#fbf800" d="M-11 -95l16 1 14 4 13 6 14 11 13 16 9 17 6 16 2 19-1 16-5 16-8 15-11 13-13 12-14 7-16 5-16 2-16-1-16-5-16-7-14-11-12-14-8-13-5-14-1-16 1-16 6-19 7-16 9-12 14-12 16-9 16-7zM-18 -84l-12 4-16 10-19 15-11 12-7 13-5 14-2 13 0 14 4 13 7 14 11 13 11 10 14 8 16 5 16 3 14-1 16-4 13-7 12-8 11-11 8-14 6-13 3-16 0-17-4-16-6-14-9-13-12-12-17-10-13-5-14-2z"/>
<path fill="#e9fb00" stroke="#e9fb00" d="M-19 -103l19-1 16 4 16 7 17 12 10 12 9 15 8 22 3 18 0 19-4 19-7 17-10 13-12 12-16 10-16 7-17 2-19 0-16-3-16-7-15-10-14-14-9-13-7-16-3-17 0-19 5-22 7-21 8-13 11-11 14-9 19-8zM-11 -94l-16 3-18 7-17 11-12 11-8 11-7 16-6 19-1 16 1 16 5 14 8 13 12 14 14 11 16 7 16 5 16 1 16-2 16-5 14-7 13-12 11-13 8-15 5-16 1-16-2-19-6-16-9-17-13-16-14-11-13-6-16-4z"/>
<path fill="#bcf200" stroke="#bcf200" d="M-30 -111l19-2 19 2 19 6 16 9 15 12 11 14 8 16 6 22 2 21-2 22-5 19-8 16-13 16-14 12-16 9-19 6-19 2-19-2-16-5-17-8-15-13-14-15-9-16-6-18-1-19 2-25 6-27 6-16 8-11 14-10 21-11zM-22 -103l-18 6-19 8-14 9-11 12-8 15-6 21-4 21 0 19 4 16 8 17 10 13 15 14 14 8 16 6 16 3 19 0 16-3 16-7 17-11 11-13 10-16 7-16 2-16 0-19-4-22-8-19-8-13-13-14-16-11-16-6-17-3z"/>
<path fill="#8fe900" stroke="#8fe900" d="M-27 -119l22-2 18 2 17 6 19 10 15 14 13 16 7 16 6 22 2 24-2 22-6 19-9 19-13 16-16 14-19 10-19 5-22 1-18-2-19-6-16-8-17-14-14-16-9-17-6-18-2-25 4-32 3-16 8-16 14-16 16-12 21-10zM-31 -111l-25 8-16 9-14 10-8 11-6 16-6 27-2 25 1 19 6 18 9 16 14 15 15 13 17 8 16 5 19 2 19-2 19-6 16-9 16-14 12-17 9-19 4-19 1-19-3-21-5-19-8-16-12-15-15-12-18-10-16-4-19-2z"/>
<path fill="#62e000" stroke="#62e000" d="M-22 -124l22-1 23 3 21 9 17 10 14 14 11 16 7 19 4 22 1 24-3 24-7 22-11 19-15 16-18 13-20 9-21 4-22 1-21-3-19-8-18-11-17-16-14-19-8-17-4-21-1-24 4-27 6-19 10-16 15-16 19-13 21-9zM-29 -119l-20 6-22 10-17 14-12 14-8 16-3 16-4 32 2 25 6 18 9 17 14 16 17 14 16 8 19 6 18 2 22-1 19-5 19-10 16-14 13-16 9-19 6-22 2-22-3-24-5-20-9-18-13-15-16-13-16-9-17-6-21-2z"/>
<path fill="#42dd20" stroke="#42dd20" d="M-30 -127l25-2 21 2 22 7 19 9 18 14 13 13 9 17 5 18 3 27-1 27-5 22-10 22-7 10-9 11-16 15-19 11-22 6-24 3-22-1-21-6-19-9-21-16-16-19-11-19-6-20-3-26 2-24 6-23 11-20 16-19 19-14 22-10zM-23 -124l-24 5-23 11-19 14-14 15-9 17-6 19-3 27 1 24 4 19 9 19 15 19 16 14 17 10 19 8 21 3 22-1 21-4 20-9 18-13 15-16 11-19 7-22 3-24-1-24-4-22-7-19-11-16-14-14-17-10-21-9-23-3z"/>
<path fill="#30df60" stroke="#30df60" d="M-32 -130l21-2 25 2 21 5 19 8 19 13 16 16 11 15 5 11 4 11 2 11 1 16-1 27-6 24-9 22-15 21-17 16-10 7-11 6-21 7-27 4-25-1-21-5-20-10-21-15-17-20-13-20-7-23-3-24 1-14 1-13 8-24 11-19 14-18 19-15 21-12zM-30 -127l-21 6-22 10-19 14-16 19-11 20-6 23-2 24 3 26 6 20 11 19 16 19 21 16 19 9 21 6 22 1 24-3 22-6 19-11 16-15 9-11 7-10 10-22 5-22 1-27-3-27-5-18-9-17-13-13-18-14-22-10-21-6-22-2z"/>
<path fill="#1ce19f" stroke="#1ce19f" d="M-19 -135l24 0 25 5 24 10 19 12 19 18 13 19 8 20 5 24 0 27-5 24-10 25-15 21-18 19-19 12-21 9-25 4-27 1-24-4-21-8-19-13-19-18-15-21-10-22-3-13-2-13 0-25 5-26 10-22 15-21 17-17 21-13 24-10zM-34 -130l-25 8-20 11-19 17-15 18-11 22-7 24-1 25 4 24 7 22 13 20 18 20 20 14 21 10 22 4 27 1 24-4 22-8 19-12 18-18 14-22 9-22 5-24 1-30-4-24-8-19-12-16-15-15-19-13-22-9-21-5-22-1z"/>
<path fill="#0ae3df" stroke="#0ae3df" d="M-24 -138l24-1 24 4 25 8 21 12 19 16 16 21 11 21 6 25 2 27-4 24-7 22-13 24-16 19-19 16-22 11-24 6-30 3-27-2-21-7-22-11-11-8-11-10-15-20-7-11-6-13-6-24-2-25 1-13 2-14 8-24 7-14 8-10 17-19 20-15 25-12 13-3zM-21 -135l-25 5-21 9-22 14-18 18-14 22-9 21-5 24-1 14 1 13 6 25 10 23 15 20 20 19 19 12 22 7 24 4 27-1 24-5 22-9 19-14 18-18 13-22 10-24 4-27 0-25-5-21-9-22-14-19-17-16-19-12-24-10-25-5z"/>
<path fill="#00deff" stroke="#00deff" d="M-30 -140l27-2 25 2 25 8 23 12 11 8 10 9 15 19 12 22 7 24 3 27-2 27-7 25-13 24-17 21-19 17-21 12-14 4-13 4-30 3-24-2-25-6-24-13-22-17-17-20-7-12-6-13-7-24-3-27 3-27 4-14 5-13 12-22 16-20 11-9 11-8 24-12zM-26 -138l-25 6-25 12-20 15-17 19-8 10-7 14-8 24-2 14-1 13 2 25 6 24 6 13 7 11 15 20 11 10 11 8 22 11 21 7 27 2 30-3 24-6 22-11 19-16 18-22 11-21 5-14 4-13 2-25-2-24-7-24-12-22-15-19-18-15-21-12-25-8-24-4z"/>
<path fill="#00d0ff" stroke="#00d0ff" d="M-14 -146l28 1 27 6 13 5 13 7 13 8 10 8 17 19 7 11 7 14 8 24 4 27-2 30-7 27-12 24-9 13-9 10-19 17-12 8-12 6-13 6-14 3-27 4-27-2-13-3-14-4-24-12-22-16-17-19-7-11-7-14-8-24-3-13-1-17 1-27 6-24 12-24 7-11 9-12 21-18 23-13 13-6 14-4zM-30 -140l-27 7-24 12-11 8-11 9-16 20-12 22-5 13-4 14-2 13-1 17 4 27 7 24 7 13 7 11 9 11 9 10 22 16 24 12 24 6 25 1 29-4 25-7 21-12 11-9 11-10 16-22 11-21 4-14 3-13 2-28-3-24-7-24-12-22-15-19-10-9-11-8-23-12-25-8-27-2z"/>
<path fill="#00c4ff" stroke="#00c4ff" d="M-27 -149l13-1 17 0 27 4 27 9 24 14 21 18 9 11 7 10 12 25 4 13 3 14 1 13 0 16-2 17-3 13-9 27-15 24-8 11-11 11-22 16-14 8-13 5-27 6-14 2-16 0-27-5-14-4-13-5-24-15-21-19-15-21-8-14-5-13-7-27-1-28 4-26 4-14 6-13 7-14 7-11 9-11 11-10 22-16 14-8 13-5zM-16 -146l-27 5-24 9-14 7-11 7-19 18-16 22-12 24-6 27-1 27 4 27 4 14 5 13 14 23 8 9 11 11 22 16 24 11 27 6 27 2 16-2 14-3 24-9 14-7 10-8 19-18 8-10 9-13 11-24 6-27 2-30-4-27-5-13-5-14-14-21-19-19-21-15-14-7-13-5-27-5z"/>
<path fill="#00b6ff" stroke="#00b6ff" d="M-11 -154l16 0 14 2 27 6 13 6 14 7 13 9 11 8 11 11 9 11 7 10 8 14 5 13 4 14 4 27-1 13-2 17-3 16-5 13-6 14-7 13-10 14-9 10-21 19-13 9-14 7-27 9-14 2-16 2-13-1-16-1-27-8-14-6-13-7-22-17-19-21-9-13-7-14-9-27-2-13-1-17 0-16 2-13 8-27 6-14 8-13 17-22 11-11 11-8 25-14 27-9 13-2zM-27 -148l-27 6-14 5-13 8-22 16-11 10-9 11-7 11-7 14-6 13-4 14-4 26 1 28 7 27 5 13 8 14 15 21 21 19 24 15 13 5 14 4 27 5 16 0 14-2 27-6 13-5 14-8 22-16 11-11 8-11 15-24 9-27 3-13 2-17 0-16-1-13-3-14-4-13-12-25-7-10-9-11-21-18-24-14-27-9-14-3-16-1z"/>
<path fill="#04aaff" stroke="#04aaff" d="M-24 -157l29-1 30 5 16 5 14 6 25 15 13 10 11 12 9 11 9 13 7 14 5 13 4 14 2 13 1 13-1 17-2 13-4 16-6 17-7 13-8 14-10 13-10 11-11 10-25 17-26 12-17 4-13 2-14 1-16 0-16-2-14-4-13-4-15-6-12-7-13-10-12-10-10-11-9-11-8-13-7-14-5-13-4-17-2-13-1-14 0-16 5-27 11-27 7-13 10-14 10-11 12-11 24-17 27-11 16-5zM-12 -154l-28 4-27 9-25 14-11 8-11 11-17 22-8 13-6 14-8 27-2 13 0 16 1 17 2 13 9 27 7 14 9 13 19 21 22 17 13 7 14 6 27 8 16 1 13 1 16-2 14-2 27-9 14-7 13-9 21-19 9-10 10-14 7-13 6-14 5-13 3-16 2-17 1-13-4-27-4-14-5-13-8-14-7-10-9-11-11-11-11-8-13-9-14-7-13-6-14-4-16-3z"/>
<path fill="#0b9eff" stroke="#0b9eff" d="M-22 -162l30 0 16 2 17 4 16 5 13 6 14 8 13 10 13 11 11 11 17 24 7 14 6 13 4 14 2 16 0 13-1 16-3 17-6 16-6 16-8 14-9 13-10 13-11 11-12 11-13 9-13 8-14 6-16 5-13 3-17 3-16 0-16-1-16-3-14-3-27-12-13-8-12-10-12-10-10-11-16-24-6-14-6-16-4-14-2-16 0-13 0-17 3-16 4-13 6-16 6-14 17-24 10-12 12-10 13-9 13-8 14-7 16-5 16-4zM-27 -157l-16 4-14 4-13 5-14 7-13 9-11 8-12 12-9 11-15 24-6 14-5 16-3 13-2 16 1 28 3 16 4 13 5 14 7 13 9 14 9 10 10 11 12 10 24 15 14 6 16 5 14 3 16 2 16 0 14-1 16-3 13-4 14-6 15-8 23-16 11-11 10-12 9-12 8-14 6-13 5-16 4-16 2-14 1-16-1-14-3-13-4-14-5-13-8-14-9-13-9-11-12-11-11-9-13-9-14-7-27-9-30-5-16 0z"/>
<path fill="#1392ff" stroke="#1392ff" d="M-19 -168l16 0 17 1 16 3 16 4 16 6 14 7 13 8 14 9 13 12 12 13 10 13 9 14 6 13 5 14 3 13 3 16 0 14-2 16-4 16-6 17-8 16-9 16-10 13-11 14-11 11-14 11-13 9-14 7-13 6-17 5-16 3-16 2-16 0-16-1-17-4-13-4-27-12-14-8-13-10-11-11-11-12-9-14-8-13-5-14-6-16-2-13-2-17-1-16 2-16 3-16 4-14 6-16 7-13 17-25 11-11 13-11 14-10 13-7 14-6 16-6 16-4zM-22 -162l-29 6-17 5-13 7-13 8-13 9-12 10-10 12-17 24-6 14-6 16-4 13-3 16 0 17 0 13 2 16 4 14 6 16 6 14 16 24 10 11 12 10 12 10 13 8 27 12 14 3 16 3 16 1 16 0 17-3 13-3 16-5 14-6 13-8 13-9 12-11 11-11 10-13 9-13 8-14 6-16 6-16 3-17 1-16 0-13-2-16-4-14-6-13-7-14-17-24-11-11-13-11-13-10-14-8-13-6-16-5-17-4-16-2z"/>
<path fill="#1a86ff" stroke="#1a86ff" d="M-22 -173l19 0 17 1 16 2 16 5 16 5 14 7 16 9 13 10 15 12 12 14 11 14 9 13 7 14 6 16 3 13 2 16 0 14-2 16-5 16-6 18-9 17-8 14-12 16-12 14-24 21-14 9-16 9-16 6-16 5-16 4-17 1-16 0-16-1-19-4-13-4-17-6-13-8-13-8-12-9-10-11-11-13-9-13-9-16-5-14-5-16-4-16-1-16 0-17 1-16 3-16 5-16 6-14 8-16 18-24 11-11 13-11 14-10 13-7 14-6 16-6 16-4zM-21 -167l-14 1-16 4-16 6-14 6-13 7-14 10-13 11-11 11-17 25-7 13-6 16-4 14-3 16-2 16 1 16 2 17 2 13 6 16 5 14 8 13 9 14 11 12 11 11 13 10 14 8 16 8 14 5 13 4 16 3 16 1 17 0 16-2 16-4 16-5 14-6 13-8 14-9 13-12 11-11 11-13 10-14 9-16 7-16 6-16 3-17 2-16-1-13-2-16-4-14-5-13-7-14-9-13-11-14-12-12-13-12-14-9-13-8-14-6-16-6-16-4-16-2-16-1z"/>
<path fill="#207afc" stroke="#207afc" d="M-27 -178l19-1 16 0 16 3 19 4 16 6 19 8 14 8 16 11 14 12 13 14 12 13 10 16 9 17 5 13 3 14 2 16 0 13-2 16-4 17-7 19-8 16-10 16-12 16-12 14-13 12-14 11-13 9-16 9-19 8-16 5-16 4-19 2-17 0-16-1-16-3-16-4-16-7-14-7-13-9-13-10-12-12-10-13-10-13-8-16-7-17-5-16-3-16-2-16 0-17 1-16 3-16 5-16 6-16 7-14 9-13 10-14 10-11 13-11 14-10 15-8 14-7 17-6 16-4zM-22 -173l-16 2-16 4-16 6-14 6-13 7-14 10-13 11-11 11-18 24-8 16-6 14-5 16-3 16-1 16 0 17 1 16 4 16 5 16 5 14 9 16 9 13 11 13 10 11 12 9 13 8 13 8 17 6 13 4 19 4 16 1 16 0 16-1 17-4 16-5 16-6 16-9 14-9 24-21 12-14 12-16 8-14 9-17 6-18 5-16 2-16 0-14-2-16-3-13-6-16-7-14-9-13-11-14-12-14-15-12-13-10-16-9-14-7-16-5-16-5-16-2-19-1z"/>
<path fill="#236df5" stroke="#236df5" d="M-186 -186l46 45 2 1 6-3 19-13 19-10 27-11 32-7 16-2 16 0 17 2 18 3 17 4 16 6 16 8 16 9 14 10 14 12 14 13 12 14 9 13 8 14 6 13 5 14 3 13 1 16 0 14-3 13-3 14-8 19-8 16-9 16-12 16-11 14-14 13-15 14-16 11-16 9-17 8-19 6-18 5-17 2-19 1-16-1-16-2-19-5-13-6-17-8-13-9-14-11-21-22-16-24-13-27-9-30 0-213zM-29 -178l-17 3-16 4-16 6-14 6-13 8-14 11-13 11-12 13-10 13-8 14-7 13-6 17-5 16-2 16-1 16 0 16 2 17 4 16 5 16 7 16 9 16 10 14 11 13 11 10 24 18 14 7 16 7 16 4 16 3 16 1 17 0 19-2 16-4 16-5 19-8 16-9 13-9 14-11 13-12 12-14 12-16 10-16 9-19 6-16 4-17 2-16 0-16-2-13-4-17-7-16-7-13-11-17-12-13-14-14-14-11-13-9-16-9-17-7-16-6-19-4-16-3-19 0z"/>
<path fill="#2761ee" stroke="#2761ee" d="M-186 -189l217 0 23 7 19 8 16 8 16 10 17 12 16 14 35 38 3 0 13-6 0 101-10 27-11 21-17 27-17 22-18 18-18 14-20 14-19 10-21 8-22 6-21 4-22 1-16 0-16-3-17-5-16-6-19-10-19-14-16-16-24-26-3-2-3 1-13 6 0-76 7 22 6 16 7 16 10 16 11 14 13 14 13 12 17 11 16 9 16 7 19 5 16 2 16 1 19-1 19-3 19-5 27-10 27-16 24-19 23-23 19-27 15-30 10-27 2-13 1-14-2-21-6-22-10-22-12-19-16-19-21-18-22-16-21-11-24-10-27-6-27-3-27 2-27 5-25 8-21 11-33 20-2-1-3-2-43-43-3-3z"/>
<path fill="#2a54e7" stroke="#2a54e7" d="M32 -189l157 0 0 91-13 6-3 0-35-38-14-12-16-12-19-12-16-8-19-8zM189 3l0 23-18 31-23 32-19 22-21 18-22 16-24 14-16 7-22 8-21 5-17 3-13 1-16 0-41-6-3 1-5 11-97 0 0-89 16-7 6 4 27 30 21 18 14 9 13 7 27 10 14 2 16 2 32-1 17-3 18-5 33-13 21-12 19-14 18-16 18-19 16-22 14-24 9-19z"/>
<path fill="#2c46d9" stroke="#2c46d9" d="M189 26l0 17-5 6-17 24-18 21-18 19-20 19-17 12-21 14-32 16-40 15-93 0 5-11 3-1 33 5 16 1 19 0 19-4 38-11 18-8 19-10 16-10 17-13 28-27 13-16 14-19 10-16z"/>
<path fill="#2a34c3" stroke="#2a34c3" d="M189 43l0 21-5 0-3 1-36 40-20 19-20 17-16 12-21 14-42 22-25 0 29-11 27-12 24-13 24-17 20-17 21-22 19-21 21-31z"/>
<path fill="#2a24ad" stroke="#2a24ad" d="M184 64l5 0 0 26-11-5-2 0-3 1-46 43-22 18-19 14-34 23-5 5-21 0 47-26 35-24 35-31 18-19 17-21z"/>
<path fill="#281297" stroke="#281297" d="M173 86l3-1 2 0 11 5 0 31-24-14-6 1-40 35-40 33-3 5 3 8-32 0 5-5 34-23 27-20 27-24z"/>
<path fill="#300e8d" stroke="#300e8d" d="M162 107l5 1 22 13 0 68-46-46-5-3-6 3-7 5-6 9 1 2 21 30-62 0-3-8 3-5 40-33 38-33z"/>
<path fill="#3e1590" stroke="#3e1590" d="M138 140l5 3 46 46-48 0-21-30-1-2 6-9 7-5z"/>
</g></g>
<line x1="482.2" y1="431.5" x2="486.2" y2="431.5" stroke="#222" stroke-width="0.9"/>
<line x1="479.1" y1="408.3" x2="483.0" y2="407.2" stroke="#222" stroke-width="0.9"/>
<line x1="470.2" y1="386.6" x2="473.6" y2="384.6" stroke="#222" stroke-width="0.9"/>
<line x1="455.9" y1="368.1" x2="458.8" y2="365.2" stroke="#222" stroke-width="0.9"/>
<line x1="437.4" y1="353.8" x2="439.4" y2="350.4" stroke="#222" stroke-width="0.9"/>
<line x1="415.7" y1="344.9" x2="416.8" y2="341.0" stroke="#222" stroke-width="0.9"/>
<line x1="392.5" y1="341.8" x2="392.5" y2="337.8" stroke="#222" stroke-width="0.9"/>
<line x1="369.3" y1="344.9" x2="368.2" y2="341.0" stroke="#222" stroke-width="0.9"/>
<line x1="347.7" y1="353.8" x2="345.7" y2="350.4" stroke="#222" stroke-width="0.9"/>
<line x1="329.1" y1="368.1" x2="326.2" y2="365.2" stroke="#222" stroke-width="0.9"/>
<line x1="314.8" y1="386.6" x2="311.4" y2="384.6" stroke="#222" stroke-width="0.9"/>
<line x1="305.9" y1="408.3" x2="302.0" y2="407.2" stroke="#222" stroke-width="0.9"/>
<line x1="302.8" y1="431.5" x2="298.8" y2="431.5" stroke="#222" stroke-width="0.9"/>
<line x1="305.9" y1="454.7" x2="302.0" y2="455.8" stroke="#222" stroke-width="0.9"/>
<line x1="314.8" y1="476.4" x2="311.4" y2="478.4" stroke="#222" stroke-width="0.9"/>
<line x1="329.1" y1="494.9" x2="326.2" y2="497.8" stroke="#222" stroke-width="0.9"/>
<line x1="347.6" y1="509.2" x2="345.6" y2="512.6" stroke="#222" stroke-width="0.9"/>
<line x1="369.3" y1="518.1" x2="368.2" y2="522.0" stroke="#222" stroke-width="0.9"/>
<line x1="392.5" y1="521.2" x2="392.5" y2="525.2" stroke="#222" stroke-width="0.9"/>
<line x1="415.7" y1="518.1" x2="416.8" y2="522.0" stroke="#222" stroke-width="0.9"/>
<line x1="437.4" y1="509.2" x2="439.4" y2="512.6" stroke="#222" stroke-width="0.9"/>
<line x1="455.9" y1="494.9" x2="458.8" y2="497.8" stroke="#222" stroke-width="0.9"/>
<line x1="470.2" y1="476.4" x2="473.6" y2="478.4" stroke="#222" stroke-width="0.9"/>
<line x1="479.1" y1="454.7" x2="483.0" y2="455.8" stroke="#222" stroke-width="0.9"/>
<text x="2.2" y="2.8" font-size="8" text-anchor="middle" fill="#2e2222" transform="translate(489.7 431.5) rotate(90)">0 °</text>
<text x="3.6" y="2.8" font-size="8" text-anchor="middle" fill="#2e2222" transform="translate(475.6 383.6) rotate(60)">30 °</text>
<text x="3.6" y="2.8" font-size="8" text-anchor="middle" fill="#2e2222" transform="translate(440.4 348.4) rotate(30)">60 °</text>
<text x="3.6" y="2.8" font-size="8" text-anchor="middle" fill="#2e2222" transform="translate(392.5 335.6) rotate(0)">90 °</text>
<text x="3.6" y="2.8" font-size="8" text-anchor="middle" fill="#2e2222" transform="translate(344.6 348.4) rotate(-30)">120 °</text>
<text x="3.6" y="2.8" font-size="8" text-anchor="middle" fill="#2e2222" transform="translate(309.4 383.6) rotate(-60)">150 °</text>
<text x="2.2" y="2.8" font-size="8" text-anchor="middle" fill="#2e2222" transform="translate(295.3 431.5) rotate(90)">180 °</text>
<text x="2.2" y="2.8" font-size="8" text-anchor="middle" fill="#2e2222" transform="translate(308.3 480.1) rotate(60)">210 °</text>
<text x="2.2" y="2.8" font-size="8" text-anchor="middle" fill="#2e2222" transform="translate(343.9 515.7) rotate(30)">240 °</text>
<text x="2.2" y="2.8" font-size="8" text-anchor="middle" fill="#2e2222" transform="translate(392.5 528.7) rotate(0)">270 °</text>
<text x="2.2" y="2.8" font-size="8" text-anchor="middle" fill="#2e2222" transform="translate(441.1 515.7) rotate(-30)">300 °</text>
<text x="2.2" y="2.8" font-size="8" text-anchor="middle" fill="#2e2222" transform="translate(476.7 480.1) rotate(-60)">330 °</text>
<circle cx="390.1" cy="420.5" r="31" fill="none" stroke="#303030" stroke-width="1"/>
<circle cx="390.1" cy="420.5" r="31" fill="none" stroke="#f4f4f4" stroke-width="1" stroke-dasharray="3.5 3"/>
<line x1="386.1" y1="420.5" x2="394.1" y2="420.5" stroke="#fff" stroke-width="1"/>
<line x1="390.1" y1="416.5" x2="390.1" y2="424.5" stroke="#fff" stroke-width="1"/>
<line x1="388.1" y1="420.5" x2="392.1" y2="420.5" stroke="#222" stroke-width="0.8"/>
<line x1="390.1" y1="418.5" x2="390.1" y2="422.5" stroke="#222" stroke-width="0.8"/>
<text x="406.9" y="421.1" font-size="9.2" text-anchor="middle" fill="#111" textLength="14.9" lengthAdjust="spacingAndGlyphs">473</text>
<text x="378.1" y="421.1" font-size="9.2" text-anchor="middle" fill="#111" textLength="14.9" lengthAdjust="spacingAndGlyphs">451</text>
<text x="378.1" y="449.9" font-size="9.2" text-anchor="middle" fill="#111" textLength="14.9" lengthAdjust="spacingAndGlyphs">447</text>
<text x="406.9" y="449.9" font-size="9.2" text-anchor="middle" fill="#111" textLength="14.9" lengthAdjust="spacingAndGlyphs">476</text>
<text x="433.1" y="435.5" font-size="9.2" text-anchor="middle" fill="#111" textLength="14.9" lengthAdjust="spacingAndGlyphs">549</text>
<text x="421.2" y="406.8" font-size="9.2" text-anchor="middle" fill="#111" textLength="14.9" lengthAdjust="spacingAndGlyphs">528</text>
<text x="392.5" y="394.9" font-size="9.2" text-anchor="middle" fill="#111" textLength="14.9" lengthAdjust="spacingAndGlyphs">510</text>
<text x="363.8" y="406.8" font-size="9.2" text-anchor="middle" fill="#111" textLength="14.9" lengthAdjust="spacingAndGlyphs">496</text>
<text x="351.9" y="435.5" font-size="9.2" text-anchor="middle" fill="#111" textLength="14.9" lengthAdjust="spacingAndGlyphs">500</text>
<text x="363.8" y="464.2" font-size="9.2" text-anchor="middle" fill="#111" textLength="14.9" lengthAdjust="spacingAndGlyphs">508</text>
<text x="392.5" y="476.1" font-size="9.2" text-anchor="middle" fill="#111" textLength="14.9" lengthAdjust="spacingAndGlyphs">540</text>
<text x="421.2" y="464.2" font-size="9.2" text-anchor="middle" fill="#111" textLength="14.9" lengthAdjust="spacingAndGlyphs">554</text>
<text x="392.5" y="374.6" font-size="9.2" text-anchor="middle" fill="#111" textLength="14.9" lengthAdjust="spacingAndGlyphs">578</text>
<text x="366.1" y="380.6" font-size="9.2" text-anchor="middle" fill="#111" textLength="14.9" lengthAdjust="spacingAndGlyphs">559</text>
<text x="344.9" y="397.5" font-size="9.2" text-anchor="middle" fill="#111" textLength="14.9" lengthAdjust="spacingAndGlyphs">555</text>
<text x="333.1" y="421.9" font-size="9.2" text-anchor="middle" fill="#111" textLength="14.9" lengthAdjust="spacingAndGlyphs">571</text>
<text x="333.1" y="449.1" font-size="9.2" text-anchor="middle" fill="#111" textLength="14.9" lengthAdjust="spacingAndGlyphs">584</text>
<text x="344.9" y="473.5" font-size="9.2" text-anchor="middle" fill="#111" textLength="14.9" lengthAdjust="spacingAndGlyphs">594</text>
<text x="366.1" y="490.4" font-size="9.2" text-anchor="middle" fill="#111" textLength="14.9" lengthAdjust="spacingAndGlyphs">612</text>
<text x="392.5" y="496.4" font-size="9.2" text-anchor="middle" fill="#111" textLength="14.9" lengthAdjust="spacingAndGlyphs">640</text>
<text x="418.9" y="490.4" font-size="9.2" text-anchor="middle" fill="#111" textLength="14.9" lengthAdjust="spacingAndGlyphs">653</text>
<text x="440.1" y="473.5" font-size="9.2" text-anchor="middle" fill="#111" textLength="14.9" lengthAdjust="spacingAndGlyphs">639</text>
<text x="451.9" y="449.1" font-size="9.2" text-anchor="middle" fill="#111" textLength="14.9" lengthAdjust="spacingAndGlyphs">632</text>
<text x="451.9" y="421.9" font-size="9.2" text-anchor="middle" fill="#111" textLength="14.9" lengthAdjust="spacingAndGlyphs">619</text>
<text x="440.1" y="397.5" font-size="9.2" text-anchor="middle" fill="#111" textLength="14.9" lengthAdjust="spacingAndGlyphs">595</text>
<text x="418.9" y="380.6" font-size="9.2" text-anchor="middle" fill="#111" textLength="14.9" lengthAdjust="spacingAndGlyphs">585</text>
<circle cx="383.9" cy="432.9" r="2.6" fill="none" stroke="#111" stroke-width="0.9"/>
<text x="386.7" y="436.1" font-size="9.2" fill="#111" textLength="14.9" lengthAdjust="spacingAndGlyphs">438</text>
<rect x="507.0" y="309.0" width="281.0" height="242.0" fill="#404040"/>
<rect x="507.0" y="309.0" width="280.0" height="241.0" fill="#ffffff"/>
<rect x="508.0" y="310.0" width="279.0" height="240.0" fill="#f0f0f0"/>
<line x1="743.4" y1="310.0" x2="743.4" y2="549.0" stroke="#a8a8a8" stroke-width="1"/>
<line x1="744.4" y1="310.0" x2="744.4" y2="549.0" stroke="#ffffff" stroke-width="1"/>
<rect x="744.1" y="310.8" width="27.0" height="12.8" fill="#e000e0"/>
<text x="757.6" y="319.9" font-size="9.5" text-anchor="middle" fill="#222222" textLength="11.4" lengthAdjust="spacingAndGlyphs">-75</text>
<rect x="744.1" y="323.3" width="27.0" height="12.8" fill="#8c008c"/>
<text x="757.6" y="332.4" font-size="9.5" text-anchor="middle" fill="#ffffff" textLength="11.4" lengthAdjust="spacingAndGlyphs">-65</text>
<rect x="744.1" y="335.8" width="27.0" height="12.8" fill="#0000a0"/>
<text x="757.6" y="344.9" font-size="9.5" text-anchor="middle" fill="#ffffff" textLength="11.4" lengthAdjust="spacingAndGlyphs">-55</text>
<rect x="744.1" y="348.2" width="27.0" height="12.8" fill="#0000ff"/>
<text x="757.6" y="357.3" font-size="9.5" text-anchor="middle" fill="#ffffff" textLength="11.4" lengthAdjust="spacingAndGlyphs">-45</text>
<rect x="744.1" y="360.7" width="27.0" height="12.8" fill="#1e90ff"/>
<text x="757.6" y="369.8" font-size="9.5" text-anchor="middle" fill="#222222" textLength="11.4" lengthAdjust="spacingAndGlyphs">-35</text>
<rect x="744.1" y="373.2" width="27.0" height="12.8" fill="#00c8c8"/>
<text x="757.6" y="382.3" font-size="9.5" text-anchor="middle" fill="#222222" textLength="11.4" lengthAdjust="spacingAndGlyphs">-25</text>
<rect x="744.1" y="385.7" width="27.0" height="12.8" fill="#00c882"/>
<text x="757.6" y="394.8" font-size="9.5" text-anchor="middle" fill="#222222" textLength="11.4" lengthAdjust="spacingAndGlyphs">-15</text>
<rect x="744.1" y="398.2" width="27.0" height="12.8" fill="#00c800"/>
<text x="757.6" y="407.3" font-size="9.5" text-anchor="middle" fill="#222222" textLength="7.0" lengthAdjust="spacingAndGlyphs">-5</text>
<rect x="744.1" y="410.6" width="27.0" height="12.8" fill="#00ff00"/>
<text x="757.6" y="419.7" font-size="9.5" text-anchor="middle" fill="#222222" textLength="9.0" lengthAdjust="spacingAndGlyphs">+5</text>
<rect x="744.1" y="423.1" width="27.0" height="12.8" fill="#ffff00"/>
<text x="757.6" y="432.2" font-size="9.5" text-anchor="middle" fill="#222222" textLength="13.4" lengthAdjust="spacingAndGlyphs">+15</text>
<rect x="744.1" y="435.6" width="27.0" height="12.8" fill="#ffbe00"/>
<text x="757.6" y="444.7" font-size="9.5" text-anchor="middle" fill="#222222" textLength="13.4" lengthAdjust="spacingAndGlyphs">+25</text>
<rect x="744.1" y="448.1" width="27.0" height="12.8" fill="#ff6e50"/>
<text x="757.6" y="457.2" font-size="9.5" text-anchor="middle" fill="#222222" textLength="13.4" lengthAdjust="spacingAndGlyphs">+35</text>
<rect x="744.1" y="460.6" width="27.0" height="12.8" fill="#ff2828"/>
<text x="757.6" y="469.7" font-size="9.5" text-anchor="middle" fill="#222222" textLength="13.4" lengthAdjust="spacingAndGlyphs">+45</text>
<rect x="744.1" y="473.0" width="27.0" height="12.8" fill="#e40000"/>
<text x="757.6" y="482.1" font-size="9.5" text-anchor="middle" fill="#ffffff" textLength="13.4" lengthAdjust="spacingAndGlyphs">+55</text>
<rect x="744.1" y="485.5" width="27.0" height="12.8" fill="#aa0000"/>
<text x="757.6" y="494.6" font-size="9.5" text-anchor="middle" fill="#ffffff" textLength="13.4" lengthAdjust="spacingAndGlyphs">+65</text>
<rect x="744.1" y="498.0" width="27.0" height="12.8" fill="#6e0000"/>
<text x="757.6" y="507.1" font-size="9.5" text-anchor="middle" fill="#ffffff" textLength="13.4" lengthAdjust="spacingAndGlyphs">+75</text>
<rect x="771.1" y="310.8" width="15.2" height="199.7" fill="#ffffff"/>
<rect x="771.1" y="314.6" width="15.2" height="193.4" fill="#000000"/>
<rect x="771.1" y="315.5" width="14.6" height="2.3" fill="#e000e0"/>
<rect x="772.2" y="318.6" width="13.5" height="2.3" fill="#cb00cb"/>
<rect x="772.2" y="321.7" width="13.5" height="2.3" fill="#b700b7"/>
<rect x="772.2" y="324.8" width="13.5" height="2.3" fill="#a200a2"/>
<rect x="771.1" y="327.9" width="14.6" height="2.3" fill="#8d008d"/>
<rect x="772.2" y="331.1" width="13.5" height="2.3" fill="#6c0091"/>
<rect x="772.2" y="334.2" width="13.5" height="2.3" fill="#490096"/>
<rect x="772.2" y="337.3" width="13.5" height="2.3" fill="#27009a"/>
<rect x="771.1" y="340.4" width="14.6" height="2.3" fill="#05009f"/>
<rect x="772.2" y="343.5" width="13.5" height="2.3" fill="#0000b4"/>
<rect x="772.2" y="346.7" width="13.5" height="2.3" fill="#0000cc"/>
<rect x="772.2" y="349.8" width="13.5" height="2.3" fill="#0000e3"/>
<rect x="771.1" y="352.9" width="14.6" height="2.3" fill="#0000fa"/>
<rect x="772.2" y="356.0" width="13.5" height="2.3" fill="#061cff"/>
<rect x="772.2" y="359.1" width="13.5" height="2.3" fill="#0d40ff"/>
<rect x="772.2" y="362.3" width="13.5" height="2.3" fill="#1563ff"/>
<rect x="771.1" y="365.4" width="14.6" height="2.3" fill="#1c87ff"/>
<rect x="772.2" y="368.5" width="13.5" height="2.3" fill="#199af5"/>
<rect x="772.2" y="371.6" width="13.5" height="2.3" fill="#11a8e8"/>
<rect x="772.2" y="374.7" width="13.5" height="2.3" fill="#0ab6da"/>
<rect x="771.1" y="377.9" width="14.6" height="2.3" fill="#02c3cd"/>
<rect x="772.2" y="381.0" width="13.5" height="2.3" fill="#00c8bd"/>
<rect x="772.2" y="384.1" width="13.5" height="2.3" fill="#00c8ab"/>
<rect x="772.2" y="387.2" width="13.5" height="2.3" fill="#00c89a"/>
<rect x="771.1" y="390.3" width="14.6" height="2.3" fill="#00c889"/>
<rect x="772.2" y="393.5" width="13.5" height="2.3" fill="#00c86f"/>
<rect x="772.2" y="396.6" width="13.5" height="2.3" fill="#00c84f"/>
<rect x="772.2" y="399.7" width="13.5" height="2.3" fill="#00c82f"/>
<rect x="771.1" y="402.8" width="14.6" height="2.3" fill="#00c80f"/>
<rect x="772.2" y="405.9" width="13.5" height="2.3" fill="#00cf00"/>
<rect x="772.2" y="409.1" width="13.5" height="2.3" fill="#00dd00"/>
<rect x="772.2" y="412.2" width="13.5" height="2.3" fill="#00ea00"/>
<rect x="771.1" y="415.3" width="14.6" height="2.3" fill="#00f800"/>
<rect x="772.2" y="418.4" width="13.5" height="2.3" fill="#1dff00"/>
<rect x="772.2" y="421.5" width="13.5" height="2.3" fill="#5cff00"/>
<rect x="772.2" y="424.7" width="13.5" height="2.3" fill="#9bff00"/>
<rect x="771.1" y="427.8" width="14.6" height="2.3" fill="#d9ff00"/>
<rect x="772.2" y="430.9" width="13.5" height="2.3" fill="#fff900"/>
<rect x="772.2" y="434.0" width="13.5" height="2.3" fill="#ffe900"/>
<rect x="772.2" y="437.1" width="13.5" height="2.3" fill="#ffd900"/>
<rect x="771.1" y="440.3" width="14.6" height="2.3" fill="#ffc900"/>
<rect x="772.2" y="443.4" width="13.5" height="2.3" fill="#ffb707"/>
<rect x="772.2" y="446.5" width="13.5" height="2.3" fill="#ffa41a"/>
<rect x="772.2" y="449.6" width="13.5" height="2.3" fill="#ff902e"/>
<rect x="771.1" y="452.7" width="14.6" height="2.3" fill="#ff7c42"/>
<rect x="772.2" y="455.9" width="13.5" height="2.3" fill="#ff694d"/>
<rect x="772.2" y="459.0" width="13.5" height="2.3" fill="#ff5844"/>
<rect x="772.2" y="462.1" width="13.5" height="2.3" fill="#ff473a"/>
<rect x="771.1" y="465.2" width="14.6" height="2.3" fill="#ff3630"/>
<rect x="772.2" y="468.3" width="13.5" height="2.3" fill="#fe2626"/>
<rect x="772.2" y="471.5" width="13.5" height="2.3" fill="#f71c1c"/>
<rect x="772.2" y="474.6" width="13.5" height="2.3" fill="#f01212"/>
<rect x="771.1" y="477.7" width="14.6" height="2.3" fill="#ea0909"/>
<rect x="772.2" y="480.8" width="13.5" height="2.3" fill="#e20000"/>
<rect x="772.2" y="483.9" width="13.5" height="2.3" fill="#d40000"/>
<rect x="772.2" y="487.1" width="13.5" height="2.3" fill="#c60000"/>
<rect x="771.1" y="490.2" width="14.6" height="2.3" fill="#b70000"/>
<rect x="772.2" y="493.3" width="13.5" height="2.3" fill="#a90000"/>
<rect x="772.2" y="496.4" width="13.5" height="2.3" fill="#9a0000"/>
<rect x="772.2" y="499.5" width="13.5" height="2.3" fill="#8c0000"/>
<rect x="771.1" y="502.7" width="14.6" height="2.3" fill="#7d0000"/>
<rect x="772.2" y="505.8" width="13.5" height="2.3" fill="#6e0000"/>
<rect x="744.1" y="510.5" width="42.2" height="12.8" fill="#c8c8c8"/>
<rect x="744.1" y="511.3" width="42.2" height="11.9" fill="#f0f0f0"/>
<text x="765.2" y="520.5" font-size="9.5" text-anchor="middle" fill="#222" textLength="25.1" lengthAdjust="spacingAndGlyphs">2.5 µm</text>
<rect x="744.1" y="523.2" width="42.2" height="12.8" fill="#c8c8c8"/>
<rect x="744.1" y="524.0" width="42.2" height="11.9" fill="#f0f0f0"/>
<text x="765.2" y="533.2" font-size="9.5" text-anchor="middle" fill="#222" textLength="37.9" lengthAdjust="spacingAndGlyphs">Elevation</text>
<rect x="744.1" y="536.0" width="42.2" height="12.8" fill="#c8c8c8"/>
<rect x="744.1" y="536.8" width="42.2" height="11.9" fill="#f0f0f0"/>
<text x="765.2" y="546.0" font-size="9.5" text-anchor="middle" fill="#222" textLength="26.6" lengthAdjust="spacingAndGlyphs">Height</text>
<text x="625.0" y="317.6" text-anchor="middle" textLength="62.6" lengthAdjust="spacingAndGlyphs">Elevation (Back)</text>
<text x="625.0" y="328.5" text-anchor="middle" textLength="99.4" lengthAdjust="spacingAndGlyphs">BFS=6.39 Float, Dia=8.00</text>
<line x1="508.0" y1="332.0" x2="742.0" y2="332.0" stroke="#b8b8b8" stroke-width="1.2"/>
<line x1="508.0" y1="333.1" x2="742.0" y2="333.1" stroke="#ffffff" stroke-width="0.8"/>
<line x1="527.0" y1="339.5" x2="527.0" y2="522.3" stroke="#b0b0b0" stroke-width="1.2"/>
<line x1="523.0" y1="348.8" x2="527.0" y2="348.8" stroke="#909090" stroke-width="0.9"/>
<text x="520.5" y="352.0" font-size="9" text-anchor="end" fill="#3a3a3a">8</text>
<line x1="523.0" y1="369.4" x2="527.0" y2="369.4" stroke="#909090" stroke-width="0.9"/>
<line x1="523.0" y1="390.0" x2="527.0" y2="390.0" stroke="#909090" stroke-width="0.9"/>
<text x="520.5" y="393.2" font-size="9" text-anchor="end" fill="#3a3a3a">4</text>
<line x1="523.0" y1="410.6" x2="527.0" y2="410.6" stroke="#909090" stroke-width="0.9"/>
<line x1="523.0" y1="431.2" x2="527.0" y2="431.2" stroke="#909090" stroke-width="0.9"/>
<text x="520.5" y="434.4" font-size="9" text-anchor="end" fill="#3a3a3a">0</text>
<line x1="523.0" y1="451.8" x2="527.0" y2="451.8" stroke="#909090" stroke-width="0.9"/>
<line x1="523.0" y1="472.4" x2="527.0" y2="472.4" stroke="#909090" stroke-width="0.9"/>
<text x="520.5" y="475.6" font-size="9" text-anchor="end" fill="#3a3a3a">4</text>
<line x1="523.0" y1="493.0" x2="527.0" y2="493.0" stroke="#909090" stroke-width="0.9"/>
<line x1="523.0" y1="513.6" x2="527.0" y2="513.6" stroke="#909090" stroke-width="0.9"/>
<text x="520.5" y="516.8" font-size="9" text-anchor="end" fill="#3a3a3a">8</text>
<line x1="543.0" y1="536.0" x2="727.0" y2="536.0" stroke="#b0b0b0" stroke-width="1.2"/>
<line x1="553.6" y1="536.0" x2="553.6" y2="539.5" stroke="#909090" stroke-width="0.9"/>
<text x="553.6" y="548.3" font-size="9" text-anchor="middle" fill="#3a3a3a">8</text>
<line x1="574.0" y1="536.0" x2="574.0" y2="539.5" stroke="#909090" stroke-width="0.9"/>
<line x1="594.5" y1="536.0" x2="594.5" y2="539.5" stroke="#909090" stroke-width="0.9"/>
<text x="594.5" y="548.3" font-size="9" text-anchor="middle" fill="#3a3a3a">4</text>
<line x1="614.9" y1="536.0" x2="614.9" y2="539.5" stroke="#909090" stroke-width="0.9"/>
<line x1="635.4" y1="536.0" x2="635.4" y2="539.5" stroke="#909090" stroke-width="0.9"/>
<text x="635.4" y="548.3" font-size="9" text-anchor="middle" fill="#3a3a3a">0</text>
<line x1="655.9" y1="536.0" x2="655.9" y2="539.5" stroke="#909090" stroke-width="0.9"/>
<line x1="676.3" y1="536.0" x2="676.3" y2="539.5" stroke="#909090" stroke-width="0.9"/>
<text x="676.3" y="548.3" font-size="9" text-anchor="middle" fill="#3a3a3a">4</text>
<line x1="696.8" y1="536.0" x2="696.8" y2="539.5" stroke="#909090" stroke-width="0.9"/>
<line x1="717.2" y1="536.0" x2="717.2" y2="539.5" stroke="#909090" stroke-width="0.9"/>
<text x="717.2" y="548.3" font-size="9" text-anchor="middle" fill="#3a3a3a">8</text>
<text x="546.3" y="530.8" font-size="12.8" font-weight="bold" fill="#111">T</text>
<text x="718.2" y="530.8" font-size="12.8" font-weight="bold" fill="#111">N</text>
<text x="702.0" y="348.8" font-size="17.6" fill="#000" textLength="25.8" lengthAdjust="spacingAndGlyphs">OD</text>
<circle cx="549.3" cy="338.4" r="4.3" fill="none" stroke="#333" stroke-width="1"/>
<line x1="552.3" y1="341.4" x2="556.2" y2="345.3" stroke="#333" stroke-width="1.8"/>
<text x="554.5" y="352.7" font-size="8.8" text-anchor="middle" fill="#222" textLength="19.0" lengthAdjust="spacingAndGlyphs">9mm</text>
<clipPath id="c507_309"><circle cx="635.0" cy="431.5" r="91.7"/></clipPath>
<g clip-path="url(#c507_309)"><g transform="translate(635.0 431.5) scale(0.5)" stroke-width="1.2" stroke-linejoin="round">
<path fill="#0000ba" stroke="#0000ba" d=""/>
<path fill="#0000d2" stroke="#0000d2" d="M54 103l5-1 4 1-4 5-10 5-9 0 1-2 3-3z"/>
<path fill="#0000ea" stroke="#0000ea" d="M-113 -33l3 3 0 6-3 5-3 2-2-2-1-5 3-7zM54 100l8-2 6 1-1 4-5 5-5 3-8 4-8 2-7-1 0-3 5-5 8-5zM54 103l-10 5-3 3-1 2 9 0 10-5 4-5-4-1z"/>
<path fill="#0104ff" stroke="#0104ff" d="M-113 -39l2-1 3 1 5 4 2 5 0 6-2 5-4 5-6 5-6 2-2-7 0-10 2-7zM-114 -32l-2 1-3 7 1 5 2 2 3-2 3-5 0-6zM65 94l8 0 0 3-6 8-8 6-8 5-8 2-11 1-5-1-1-2 3-3 14-11 11-5zM53 100l-7 3-7 5-5 5 0 3 7 1 8-2 8-4 5-3 5-5 1-4-6-1z"/>
<path fill="#0828ff" stroke="#0828ff" d="M65 -54l14 14 11 16 4 9 3 10 0 2-3 2-8 1-2-2-10-30-12-22zM-108 -46l14 4 0 4 0 8-3 10-6 11-8 7-8 4-3-4-1-9 1-16 6-12 5-6zM-114 -38l-5 7-2 9 0 8 2 7 6-2 8-7 3-6 1-5-1-5-4-6-5-2zM76 89l2 0 1 3-3 5-10 11-9 7-8 3-14 2-11 1-7-2 2-3 27-19 13-5zM63 94l-9 3-11 5-14 11-3 3 1 2 5 1 11-1 8-2 8-5 8-6 6-8 0-3z"/>
<path fill="#104cff" stroke="#104cff" d="M-11 -101l8-1 8 0 6 2 11 6 19 11 16 11 18 15 11 12 15 21 6 13 5 14 2 11 0 8-2 5-4 5-8 4-3 0-3-2-4-12-6-9-3-7-4-20-5-16-6-10-9-14-14-12-13-8-16-6-17-4-8-7-5-3-2-3zM62 -54l12 22 10 30 2 2 8-1 3-2 0-5-3-8-5-11-8-11-8-10-8-6zM-86 -57l2 0 1 3-17 50-5 7-11 7-3 1-3-4-1-4-2-17 2-13 4-11 6-8 5-6 3-1 11-1zM-109 -46l-4 3-3 4-4 7-2 8-1 16 1 6 3 4 8-4 8-7 6-11 3-10 0-8 0-4-11-4zM84 81l2 0 1 3-7 10-12 15-11 7-11 4-14 2-13 1-10-1-1-3 38-24 13-6zM73 89l-16 4-11 4-27 19-2 3 7 2 11-1 14-2 8-3 9-7 10-11 3-5-1-3z"/>
<path fill="#1770ff" stroke="#1770ff" d="M3 -116l8 1 11 7 32 24 24 22 14 16 21 30 6 10 2 9 0 13-2 12-3 8-8 18-19 32-11 14-14 13-10 6-13 4-19 2-14-1-9-2 1-3 46-27 21-11 11-8 5-5 2-6 1-21 0-9-5-13-5-30-5-16-6-11-6-9-8-9-8-7-16-9-19-6-43-4-8 1-8 2-8 5-6 4-7 8-6 10-8 17-14 40-3 4-13 11-3-1-3-4-3-12-1-19 2-14 8-15 11-13 21-9 36-25 26-15 14-7zM-13 -100l-5 3 2 3 5 3 8 7 17 4 16 6 13 8 11 9 9 11 9 16 5 16 4 20 3 7 6 9 4 12 3 2 3 0 5-2 6-4 2-5 1-9 0-8-3-8-5-14-9-16-13-18-14-13-19-15-35-21-13-5-8 0zM-87 -57l-7 3-11 1-3 1-5 6-7 11-4 11-1 13 3 18 3 4 3-1 11-7 5-7 17-50-1-3zM82 81l-23 8-13 6-38 24 1 3 10 1 16-1 14-2 10-5 12-10 13-16 3-5 0-3z"/>
<path fill="#1d91fe" stroke="#1d91fe" d="M-5 -122l16 1 9 2 9 6 41 38 14 14 32 39 6 14 2 16-2 17-6 17-11 22-16 25-19 22-11 8-13 5-19 2-16 1-14-2-8-3 1-3 2-1 38-20 33-20 10-10 6-14 2-8 0-8-3-11-3-30-3-16-6-13-7-11-8-10-10-9-19-10-11-3-14-2-21 1-22 4-8 3-8 5-5 5-11 15-8 17-13 38-4 6-10 10-3 1-3-2-3-5-3-13-2-19 1-16 7-16 14-18 8-7 21-11 55-37 6-3zM0 -116l-11 4-21 11-20 12-29 20-8 4-14 5-5 5-11 15-5 13-2 16 2 16 2 10 3 4 3 1 13-11 3-4 14-40 8-17 6-10 7-8 6-4 8-5 8-2 8-1 43 4 19 6 16 9 11 10 8 10 6 11 6 13 3 14 4 26 5 14-1 27-4 8-10 8-67 38-4 3-1 3 7 2 8 1 29-3 11-3 11-6 15-16 12-15 16-28 8-18 3-8 2-12 0-13-2-9-8-13-19-27-16-19-22-19-35-26-11-6z"/>
<path fill="#169ff0" stroke="#169ff0" d="M0 -124l8 0 12 2 14 6 7 5 40 42 35 40 6 10 2 9 1 21-3 19-6 17-11 21-14 21-21 24-12 9-15 4-21 2-19 0-18-4-4-2-1-3 50-23 21-12 7-6 8-8 8-13 2-11-1-32-1-14-3-14-5-13-7-13-8-10-10-9-19-10-22-5-22 0-18 5-9 3-10 7-8 7-8 9-6 11-5 12-14 42-11 12-2 2-3-2-3-3-5-12-4-14-1-21 4-16 12-21 13-16 8-7 27-16 35-24 13-6zM-5 -122l-10 3-6 3-55 37-21 11-8 7-14 18-7 16-1 16 2 19 4 13 2 5 3 2 3-1 10-10 4-6 13-38 8-17 11-15 5-5 8-5 8-3 22-4 21-1 14 2 11 3 19 10 10 9 8 10 7 11 6 13 3 16 3 30 3 11 0 8-2 8-6 14-10 10-33 20-38 20-2 1-1 3 8 3 14 2 16-1 19-2 13-5 11-8 19-22 16-25 11-22 6-17 2-17-2-16-6-14-32-39-14-14-41-38-9-6-9-2z"/>
<path fill="#0eade2" stroke="#0eade2" d="M-14 -125l17-1 14 2 17 5 13 8 69 76 6 9 2 8 3 18-1 19-6 22-9 20-17 27-19 23-13 10-13 6-27 3-22 0-19-4-9-4-2-3 2-3 52-20 19-10 11-7 6-6 9-14 3-10 2-33-2-16-3-14-5-13-7-13-11-11-10-8-20-10-21-4-19 1-19 6-8 5-10 7-13 16-7 12-6 15-6 16-4 20-3 5-11 13-2-1-6-7-5-12-3-9-3-22 2-19 7-16 16-23 8-9 11-9 40-27 15-8zM-2 -124l-15 2-13 6-35 24-27 16-11 9-13 18-7 11-3 8-3 16 2 22 3 11 5 12 3 3 3 2 2-2 11-12 13-41 11-23 6-7 8-8 8-6 11-5 11-4 10-2 22 0 22 5 18 10 10 8 9 11 6 10 6 14 3 13 1 14 1 35-2 11-8 13-8 8-7 6-21 12-50 23 1 3 4 2 18 4 19 0 21-2 15-4 12-9 21-24 14-21 11-21 6-17 3-19-1-21-2-9-6-10-35-40-40-42-7-5-14-6-12-2z"/>
<path fill="#07bbd4" stroke="#07bbd4" d="M-11 -127l16-1 17 3 16 6 13 8 6 6 31 35 28 29 6 10 4 15 2 19-1 19-5 19-11 24-17 26-16 20-13 11-8 4-8 2-30 4-24-1-11-2-15-5-9-5-1-3 3-3 14-3 19-7 24-7 13-6 12-6 10-8 7-8 5-9 2-10 4-27-1-17-3-16-5-13-7-14-10-11-11-8-11-6-10-4-14-3-11-1-11 1-10 2-11 5-11 6-13 14-10 16-12 27-7 32-9 16-3 3-5-4-6-9-5-11-5-13-3-22 1-11 2-11 8-16 16-22 19-19 35-24 21-11zM-16 -124l-15 5-15 8-40 27-11 9-8 9-16 23-7 16-2 19 3 22 3 9 5 12 6 7 2 1 11-13 3-5 4-20 6-16 6-15 7-12 13-16 10-7 8-5 19-6 19-1 21 4 20 10 10 8 11 11 7 13 5 13 3 14 2 16-2 33-3 10-9 14-6 6-11 7-19 10-52 20-2 3 2 3 9 4 19 4 22 0 27-3 13-6 13-10 19-23 17-27 9-20 6-22 1-19-3-18-2-8-6-9-66-73-7-5-16-8-13-4-14-1z"/>
<path fill="#00c8c6" stroke="#00c8c6" d="M-19 -127l19-2 19 2 19 6 17 10 9 8 25 30 27 28 6 9 5 16 2 20-1 22-6 21-9 20-13 24-17 21-15 14-9 4-8 3-16 3-16 2-14 0-16-2-12-2-14-6-10-5-5-6 0-2 1-1 19-3 18-5 25-5 16-6 11-6 10-7 8-8 5-8 5-16 4-22 0-16-3-16-5-15-8-13-11-12-11-8-10-6-11-4-14-2-11-1-10 1-11 3-11 5-8 6-8 8-6 8-13 24-9 25-4 28-9 18-2 1-3-1-8-11-9-16-5-13-2-12-1-10 1-11 1-11 7-16 15-22 17-19 24-19 28-16zM-11 -127l-19 5-21 11-35 24-19 19-16 22-8 16-2 11-1 11 3 22 5 13 5 11 6 9 5 4 3-3 9-16 7-32 12-27 10-16 13-14 11-6 11-5 10-2 11-1 11 1 14 3 10 4 11 6 11 8 10 11 7 14 5 13 3 16 1 17-4 27-2 10-5 9-7 8-10 8-12 6-13 6-24 7-19 7-14 3-3 3 1 3 9 5 15 5 11 2 24 1 30-4 8-2 8-4 13-11 16-20 17-26 11-24 5-19 1-19-2-19-4-15-6-10-28-29-31-35-6-6-13-8-16-6-17-3z"/>
<path fill="#00c8b5" stroke="#00c8b5" d="M-14 -130l17-1 19 3 19 7 17 10 12 11 22 25 21 22 9 13 5 16 3 21-1 22-5 22-11 26-13 23-20 23-15 12-16 6-17 3-18 1-17 0-16-3-17-5-12-5-11-9-6-8 3-2 13 1 11-1 41-6 13-4 14-5 11-7 9-8 6-8 7-16 4-19 1-19-2-16-4-14-8-14-11-12-12-9-10-5-10-4-14-3-11-1-10 1-11 3-11 5-8 7-8 8-7 11-15 31-5 20-3 26-6 23-2 0-5-5-11-14-10-17-5-16-2-11-1-13 1-11 2-11 7-16 15-21 20-21 27-20 27-15zM-20 -127l-21 8-31 19-20 16-17 19-15 22-7 16-1 11-1 11 1 10 2 12 5 13 9 16 8 11 3 1 2-1 9-18 4-28 9-25 13-24 6-8 8-8 8-6 11-5 11-3 10-1 11 1 14 2 11 4 10 6 11 8 11 12 8 13 5 15 3 16 0 16-4 22-5 16-5 8-8 8-10 7-11 6-16 6-25 5-18 5-19 3-1 1 0 2 5 6 10 5 14 6 12 2 16 2 14 0 16-2 16-3 8-3 9-4 15-14 17-21 13-24 9-20 6-21 1-22-2-20-5-16-6-9-27-28-25-30-9-8-17-10-19-6-19-2z"/>
<path fill="#00c8a3" stroke="#00c8a3" d="M-5 -132l19 1 18 5 19 9 17 12 45 48 6 8 5 12 6 21 1 21-3 25-6 22-12 24-16 23-18 20-14 9-19 6-27 3-27-2-23-5-13-6-9-5-13-11-15-19-16-16-11-13-15-25-5-11-3-10-1-25 1-11 2-10 3-8 7-11 18-25 23-21 30-20 13-7 11-4zM-15 -130l-12 4-11 4-25 14-26 20-20 21-15 21-7 16-2 11-1 11 1 13 2 11 5 16 10 17 11 14 5 5 2 0 6-23 3-26 5-20 15-31 7-11 8-8 8-7 11-5 11-3 10-1 11 1 14 3 10 4 10 5 12 9 11 12 8 14 4 14 2 16-1 19-4 19-7 16-6 8-9 8-11 7-14 5-13 4-41 6-11 1-13-1-3 2 6 8 11 9 12 5 17 5 16 3 17 0 18-1 17-3 16-6 15-12 20-23 13-23 11-26 5-22 1-22-3-21-5-16-9-13-21-22-22-25-12-11-17-10-19-7-19-3zM-19 -65l-11 2-10 4-11 7-8 9-8 11-5 10-10 22-4 14-2 13-1 22-2 13 2 11 3 8 5 6 11 7 11 4 16 1 38-3 16-3 13-4 14-8 12-11 6-11 7-18 3-22-1-19-5-19-9-13-13-14-17-11-10-4-11-3z"/>
<path fill="#00c892" stroke="#00c892" d="M-16 -133l19-1 21 4 19 7 21 12 19 17 28 29 11 19 7 22 3 21-1 25-5 21-10 25-16 27-19 21-8 8-8 5-16 6-14 2-16 1-30-1-13-3-14-4-22-11-10-8-8-8-33-41-16-24-7-19-2-11-1-13 1-14 2-11 7-17 14-20 21-23 25-19 27-16 13-5zM-6 -132l-21 4-11 4-13 7-30 20-23 21-18 25-7 11-3 8-2 10-1 11 1 25 3 10 5 11 15 25 11 13 16 16 15 19 13 11 9 5 13 6 23 5 27 2 27-3 19-6 14-9 18-20 16-23 12-24 6-22 3-25-1-21-6-21-5-12-6-8-45-48-17-12-19-9-18-5zM-16 -65l19 2 18 6 9 6 11 8 13 14 8 16 4 18 0 19-4 19-6 16-6 11-12 11-15 8-15 5-16 2-38 3-16-2-11-5-8-5-5-6-3-8-2-11 2-13 1-19 3-19 15-38 6-11 7-8 8-8 11-6 11-4zM-25 -62l-10 3-8 4-9 6-7 9-7 10-5 11-10 24-4 14-2 19 2 27 2 8 5 7 6 6 10 5 8 2 30 2 16 0 19-3 16-7 11-7 11-10 8-17 6-19 2-16-2-16-4-14-8-13-24-22-13-8-9-3-10-2-11-1z"/>
<path fill="#00c87f" stroke="#00c87f" d="M-11 -135l22 0 21 6 23 10 19 14 23 21 16 20 11 21 7 21 3 25-3 24-7 25-11 24-16 24-16 19-16 12-8 3-11 3-14 2-16 1-16-1-16-2-24-7-23-11-11-8-10-11-33-43-13-21-6-20-2-24 3-22 7-19 15-21 12-14 12-10 30-23 10-6 14-6 13-4zM-18 -132l-12 3-10 4-27 16-27 22-21 22-14 22-6 16-2 22 1 13 2 11 7 19 16 24 33 41 8 8 10 8 22 11 14 4 13 3 30 1 16-1 14-2 16-6 8-5 8-8 19-21 16-27 10-25 5-24 1-24-4-22-6-19-11-19-28-30-19-16-21-12-19-7-21-4zM-24 -62l8-1 11 1 10 2 9 3 13 8 24 22 8 13 4 14 2 16-2 16-6 19-8 17-11 10-11 7-16 7-19 3-16 0-30-2-8-2-10-5-6-6-5-7-2-8-2-27 2-19 4-14 10-24 5-11 7-10 7-9 9-6 8-4zM-28 -59l-12 4-11 8-8 9-8 14-13 32-3 11-2 16 3 19 4 14 4 8 7 6 7 4 14 4 19 3 16 1 16-3 14-4 12-6 10-8 8-9 7-15 5-17 2-16-1-16-5-14-6-8-19-13-9-11-6-5-10-6-12-3-11-1z"/>
<path fill="#00c85e" stroke="#00c85e" d="M-22 -135l11-2 11 0 24 4 24 9 22 13 22 19 19 22 12 21 8 22 3 22 0 24-6 24-9 24-16 28-19 23-16 13-9 4-10 4-14 2-16 1-33-3-16-3-13-5-22-11-12-9-11-11-30-41-12-18-6-19-3-14 0-13 0-14 2-11 6-16 12-19 11-13 11-12 27-22 13-9 14-7zM-12 -135l-12 2-11 4-14 6-10 6-30 23-12 10-12 14-15 21-7 19-3 22 2 24 6 20 13 21 33 43 10 11 11 8 23 11 24 7 16 2 16 1 16-1 14-2 11-3 8-3 16-12 16-19 16-24 11-24 7-25 3-24-3-25-7-21-11-21-16-20-23-21-19-14-23-11-24-5zM-27 -60l11-1 11 1 12 3 10 6 6 5 9 11 19 13 6 8 5 14 1 16-2 16-5 17-7 15-8 9-10 8-12 6-14 4-16 3-16-1-19-3-16-4-8-6-6-6-3-9-4-14-2-16 2-16 3-11 15-35 8-13 8-9 11-7zM-31 -57l-9 5-9 6-8 8-7 14-17 43-2 16 2 16 4 11 7 11 8 7 8 5 16 5 14 2 16 0 16-3 14-5 10-6 9-8 8-11 6-13 5-16 1-16-2-14-2-8-6-8-5-5-15-9-13-16-7-5-11-5-11-3-11 0z"/>
<path fill="#00c83e" stroke="#00c83e" d="M-19 -138l11-1 11 0 13 2 14 4 26 11 20 14 21 19 16 20 13 23 7 24 3 25-2 24-7 24-13 27-17 27-16 18-16 11-11 5-11 3-13 2-14 0-35-4-24-7-11-5-13-8-13-9-11-11-28-38-12-19-5-13-3-11-2-27 2-22 8-19 13-21 10-12 13-13 28-21 24-14 13-6zM-23 -135l-12 4-14 6-24 15-27 23-19 22-12 19-6 16-2 11 0 14 0 13 3 14 6 19 12 18 30 41 11 11 12 9 22 11 13 5 16 3 33 3 16-1 14-2 10-4 9-4 16-13 19-23 16-28 9-24 6-24 0-24-3-22-9-24-14-23-19-21-23-18-24-14-20-7-14-2-11-1zM-30 -57l11-2 11 1 11 3 8 4 7 5 13 16 15 9 5 5 6 8 2 8 2 14-1 16-5 16-6 13-8 11-9 8-10 6-14 5-16 3-16 0-14-2-16-5-8-5-8-7-7-11-4-11-2-16 2-16 17-43 7-14 8-8 9-6zM-33 -54l-10 5-7 6-7 9-6 12-15 38-2 8 0 17 2 13 5 11 6 8 10 8 11 5 14 3 13 2 16-1 14-3 11-5 10-6 9-9 8-13 6-13 3-14 1-13-2-14-3-7-5-7-17-11-18-20-6-4-10-5-12-2-8 0z"/>
<path fill="#00c81d" stroke="#00c81d" d="M-22 -141l8-1 11 0 17 3 16 5 23 10 25 16 19 17 17 21 12 21 8 25 3 24-2 24-7 27-12 26-16 26-8 11-11 10-16 12-11 5-11 3-13 2-14 1-35-5-13-3-17-6-10-5-14-8-11-9-10-11-27-35-12-22-8-24-3-27 3-22 7-19 15-23 20-22 26-22 24-15 14-6zM-21 -138l-22 8-14 7-13 8-27 22-21 23-13 21-8 19-2 22 2 27 3 11 5 13 12 19 28 38 11 11 13 9 13 8 14 6 26 7 33 3 13-1 14-2 19-7 11-7 8-7 17-20 16-27 12-27 5-24 2-25-4-24-9-24-12-22-17-19-21-19-22-13-24-10-13-3-14-2-11 0zM-32 -54l10-2 8 0 12 2 10 5 6 4 18 20 17 11 5 7 3 7 2 14-1 13-3 14-6 13-8 13-9 9-10 6-11 5-14 3-16 1-16-2-14-4-10-6-8-7-7-10-4-10-3-14 2-16 16-44 6-12 7-9 10-7zM-34 -51l-9 5-8 8-6 8-5 11-14 38-2 8-1 14 3 13 6 11 7 8 9 7 11 5 13 3 14 1 13-1 14-3 11-5 10-7 9-10 7-12 5-13 4-14 0-10-2-11-4-8-4-6-12-9-24-24-6-4-8-3-13-3-8 0z"/>
<path fill="#00c900" stroke="#00c900" d="M-19 -146l11-1 8 1 35 13 25 11 23 17 20 19 16 21 10 22 7 24 2 24-3 27-9 27-15 30-17 23-17 18-9 6-11 6-22 6-13 2-11 0-38-6-27-8-11-4-11-7-10-10-16-18-24-35-13-24-6-16-2-11-1-22 4-21 10-22 17-24 20-21 24-20 30-18 13-6zM-24 -140l-11 3-14 6-27 17-24 21-11 11-9 12-14 21-7 19-3 22 3 27 8 24 12 22 27 35 10 11 11 9 14 8 10 5 17 6 13 3 35 5 14-1 13-2 11-3 11-5 16-12 11-10 8-11 16-26 12-26 7-27 2-24-3-24-8-25-13-22-17-21-21-19-24-14-27-11-27-6-11 0zM-32 -52l8-2 10 1 11 2 8 3 6 4 24 24 12 9 4 6 4 8 2 10-1 14-4 14-6 14-8 11-9 10-8 5-13 5-13 3-14 0-13-1-14-4-11-6-9-8-6-8-4-11-3-13 1-14 18-48 6-11 5-6 9-7zM-35 -49l-8 5-6 6-6 8-4 11-17 46-1 11 3 13 4 11 7 8 9 8 11 5 13 4 14 1 13-1 13-3 12-6 6-5 10-11 8-12 5-12 4-14 0-10-2-11-7-11-27-25-14-11-8-4-11-2-10-1z"/>
<path fill="#00d700" stroke="#00d700" d="M-22 -149l17-1 8 1 8 3 46 21 14 9 14 11 19 19 16 21 12 25 6 21 1 14 0 13-1 14-3 14-10 29-18 32-16 22-18 16-11 6-11 5-24 6-27 2-33-3-12-3-15-5-18-11-11-10-11-12-13-18-14-21-11-19-7-17-6-15-2-9-1-8 1-11 2-11 5-16 11-22 17-24 21-22 24-19 31-18zM-19 -146l-11 3-13 6-30 18-24 20-20 21-17 24-10 22-4 21 0 14 2 11 4 16 5 13 14 25 24 32 15 17 11 10 19 9 30 9 35 5 11 0 13-2 22-6 11-6 9-6 17-18 17-23 15-30 9-27 3-27-2-24-7-24-10-22-16-21-20-19-23-17-25-11-35-13-8-1zM-32 -49l8-2 13 1 8 2 8 4 14 11 27 25 4 5 3 8 2 11-1 11-3 11-6 13-7 11-10 11-6 5-14 6-13 3-14 1-13-2-11-3-11-5-9-8-7-8-4-11-3-13 1-11 18-49 5-10 6-8 7-6zM-32 -46l-7 3-7 5-5 8-5 8-17 49-2 11 2 11 4 10 6 9 6 5 11 7 11 4 13 2 14 0 12-2 8-3 10-6 10-10 9-11 7-13 3-11 2-11-1-11-3-8-4-5-23-24-14-11-8-4-8-2-11-1z"/>
<path fill="#00e500" stroke="#00e500" d="M-19 -152l16-1 17 5 48 25 14 10 14 10 18 19 16 24 11 25 5 24 1 14-1 13-2 14-5 16-6 16-8 17-10 18-9 13-8 10-10 10-20 13-21 8-27 5-29 1-20-3-11-3-20-8-10-5-11-8-11-11-13-16-24-38-16-33-3-8-2-16 0-11 2-16 6-17 13-26 16-22 21-21 29-22 26-16 13-5zM-22 -148l-20 8-31 18-24 19-21 22-17 24-11 22-5 16-2 11-1 11 1 8 2 9 6 15 7 17 11 19 14 21 13 18 11 12 11 10 18 11 15 5 12 3 33 3 27-2 24-6 11-5 11-6 18-16 16-22 18-32 10-29 3-14 1-14 0-13-1-14-6-21-12-25-16-21-19-19-14-11-14-9-46-21-8-3-8-1zM-30 -46l11-1 11 1 8 2 8 4 14 11 23 24 4 5 3 8 1 11-2 11-3 11-7 13-9 11-10 10-10 6-8 3-12 2-14 0-13-2-11-4-11-7-6-5-6-9-4-10-2-11 2-11 19-53 5-8 6-6 5-4zM-22 -43l-10 2-8 4-6 5-5 8-6 12-13 39-2 8 0 8 3 11 4 8 7 8 8 6 10 4 10 3 11 2 14-1 12-3 9-5 11-9 8-9 8-12 5-11 2-11 0-10-2-9-4-8-14-16-16-15-9-5-8-4-8-1z"/>
<path fill="#00f300" stroke="#00f300" d="M-19 -154l11-1 8 0 11 3 9 4 48 28 23 17 21 22 14 22 9 21 4 14 2 13 1 14-1 13-3 16-4 14-13 32-9 16-9 15-9 10-10 11-19 13-11 5-13 5-25 5-16 1-14 0-16-2-13-3-16-6-11-5-21-13-11-11-11-14-27-43-11-22-4-13-2-13-1-14 1-14 6-21 13-26 16-23 11-12 13-12 29-22 27-16 12-5zM-21 -151l-22 8-30 19-28 21-20 22-17 24-13 28-3 9-2 15 0 19 2 10 6 15 21 40 11 17 13 17 10 11 9 8 13 8 10 6 26 8 27 3 30-2 24-5 22-10 18-15 17-20 18-29 7-17 6-16 4-14 2-15 1-14-1-14-6-24-11-24-15-22-21-21-25-18-48-25-17-5-8 0zM-22 -43l11-1 8 1 8 4 11 7 14 13 14 16 4 8 2 9 0 10-2 11-5 11-8 12-8 9-11 9-9 5-12 3-14 1-11-2-10-3-10-4-8-6-7-8-4-8-3-11 0-8 2-8 13-39 6-12 5-8 6-6 8-3zM-16 -40l-11 2-8 3-8 7-6 6-6 14-11 30-3 10-1 9 1 8 3 8 6 8 6 6 7 5 9 3 11 3 11 1 13-1 10-4 9-5 11-10 10-12 6-10 4-11 1-11-1-11-4-8-10-14-11-12-11-9-8-4-8-2z"/>
<path fill="#06ff00" stroke="#06ff00" d="M-16 -157l11 0 8 0 11 4 10 4 49 31 23 18 19 22 13 21 10 23 5 26 0 13-1 14-3 13-4 17-7 16-9 19-9 16-9 13-18 19-20 14-22 9-27 5-17 1-16-1-16-2-14-4-25-11-13-8-10-8-11-11-10-13-25-40-11-24-3-12-2-16-1-14 2-11 2-10 5-16 13-25 16-22 24-24 29-21 29-17 12-5zM-20 -154l-10 3-12 5-15 8-16 11-28 22-21 21-16 23-13 26-6 21-1 14 1 14 2 13 4 13 11 22 27 43 11 14 11 11 21 13 11 5 16 6 13 3 16 2 14 0 16-1 25-5 13-5 11-5 19-13 10-11 9-10 9-15 10-17 7-18 6-16 4-16 2-13 1-14-1-14-6-25-11-23-15-22-18-19-23-17-48-28-9-4-11-3-8 0zM-14 -41l11 1 8 2 11 7 10 9 9 11 10 14 2 8 1 11-2 10-4 11-7 11-11 12-12 10-9 4-11 3-11 0-19-4-9-3-8-6-5-5-6-8-3-8-1-8 2-14 11-31 6-13 4-7 7-7 5-4 11-4zM-16 -38l-11 4-11 7-5 5-6 7-8 18-8 27-3 11 1 5 2 8 5 8 6 6 8 6 8 4 8 2 11 1 11 0 9-3 13-7 10-9 10-11 7-10 4-11 1-11-2-11-5-11-7-11-13-13-8-6-8-4-8-2z"/>
<path fill="#46ff00" stroke="#46ff00" d="M-8 -159l8 0 11 2 22 11 45 31 24 21 18 21 12 22 9 24 3 24 0 14-3 16-8 30-17 35-10 16-9 12-9 10-10 8-21 13-14 5-13 3-27 4-30-2-27-7-13-6-14-7-13-9-9-8-10-11-10-13-23-37-5-12-6-15-3-14-1-14 0-13 2-14 2-11 6-14 15-26 19-24 14-14 13-11 35-24 15-8 10-4 11-3zM-16 -157l-12 3-12 5-29 17-29 21-24 24-16 22-13 25-5 16-2 10-2 11 1 14 2 16 3 12 11 24 25 40 10 13 11 11 10 8 13 8 25 11 14 4 16 2 16 1 17-1 27-5 22-9 20-14 18-19 9-13 9-16 9-19 7-16 4-17 3-13 1-14 0-13-5-26-10-23-13-21-19-22-23-18-49-31-10-4-11-4-8 0zM-14 -38l11-1 8 3 9 5 10 9 10 11 8 14 3 8 1 11-2 10-5 11-7 10-10 11-11 9-10 5-10 3-13 0-10-2-8-2-9-5-6-4-5-6-5-8-2-8-1-5 3-11 8-27 9-19 5-6 8-7 13-7zM-18 -35l-9 5-11 8-5 5-6 7-7 18-7 24-2 11 1 6 3 8 3 5 7 6 13 8 8 2 11 1 11-1 8-3 13-8 11-9 8-8 6-9 5-11 1-11-2-11-6-13-8-11-11-11-9-6-8-3-8-1z"/>
<path fill="#86ff00" stroke="#86ff00" d="M-22 -160l11-1 11 0 11 2 11 5 23 14 36 25 13 11 19 20 15 22 11 24 5 24 1 14-1 16-2 14-4 16-6 16-9 19-8 16-10 15-18 20-19 15-25 10-27 6-30 1-16-2-13-3-14-4-14-7-13-7-12-9-12-10-10-11-12-16-10-17-9-16-5-13-4-14-3-16-1-14 0-13 2-14 3-12 6-14 5-10 16-23 22-25 27-22 32-21 14-6zM-11 -159l-11 1-11 4-26 14-35 24-25 24-19 25-14 24-5 14-2 12-2 25 1 14 3 14 6 15 5 12 23 37 10 13 10 11 9 8 13 9 14 7 13 6 14 4 16 3 29 1 27-3 14-4 13-6 11-6 11-7 17-17 10-14 8-13 10-19 8-19 8-30 2-16 0-13-4-25-9-24-13-22-18-21-24-20-47-31-21-9-8-2zM-16 -36l11-1 8 1 8 4 11 9 10 12 7 11 4 11 1 11-2 10-4 10-7 9-9 10-11 8-14 7-8 3-11 0-16-3-14-8-9-11-3-8-1-6 2-11 7-24 7-18 6-7 5-5 11-8zM-12 -35l-7 2-10 6-11 11-6 7-8 17-7 30 0 13 6 11 12 9 8 4 8 2 8 0 11-2 13-7 11-7 11-9 7-9 5-8 2-11 1-8-3-11-5-10-8-11-11-11-10-6-8-3z"/>
<path fill="#c6ff00" stroke="#c6ff00" d="M-19 -162l11-1 11 0 8 2 11 4 26 17 36 26 13 12 19 20 15 23 9 24 5 24 1 14-1 16-3 13-4 17-15 35-9 16-9 14-8 10-11 11-19 13-11 6-14 5-15 4-13 2-17 1-16-1-16-2-14-4-16-6-13-7-14-8-10-8-12-11-11-14-10-14-11-18-7-16-5-14-5-27-1-13 1-14 2-13 4-14 11-23 16-23 25-26 29-23 30-19 14-6zM-22 -159l-13 4-14 6-33 22-26 22-22 24-16 23-5 10-6 14-3 12-2 14 0 13 1 14 3 16 4 14 6 13 8 16 10 17 12 16 10 11 12 10 12 9 13 7 14 7 14 4 13 3 16 2 30-1 27-6 25-10 19-15 18-20 10-15 8-16 9-19 6-16 4-16 2-14 1-16-1-14-2-13-4-13-11-24-16-22-19-20-51-37-22-13-10-3-9-2-11 0zM-11 -35l11 0 8 3 8 6 11 11 7 10 5 10 3 11-1 8-2 11-5 8-7 9-11 9-11 7-13 7-11 2-8 0-8-2-8-4-12-9-6-11 0-13 7-30 8-17 9-10 10-9 8-5zM-16 -32l-8 4-8 6-9 11-6 8-6 17-5 24 1 13 2 6 4 5 11 8 13 4 11-1 11-3 13-7 11-7 8-7 6-8 4-9 3-10-1-11-4-11-6-11-10-11-10-8-9-4-8 0z"/>
<path fill="#fffd00" stroke="#fffd00" d="M-14 -165l11 0 11 1 8 3 11 5 28 18 29 23 19 16 19 23 12 22 9 24 4 25 0 13-2 16-8 30-17 38-9 16-10 14-9 10-10 8-12 8-11 6-13 6-14 3-27 4-16 0-13-1-14-2-16-5-13-5-16-8-12-8-13-11-11-11-11-13-10-16-8-15-7-15-5-14-3-16-2-13 1-28 3-13 4-13 11-24 19-25 12-14 15-13 35-27 27-15 14-5zM-19 -162l-13 4-14 6-30 19-29 23-25 26-16 23-11 23-4 14-2 13-1 14 1 13 5 27 5 14 7 16 11 18 10 14 11 14 12 11 10 8 14 8 13 7 16 6 14 4 16 2 16 1 17-1 13-2 15-4 14-5 11-6 19-13 11-11 8-10 9-14 9-16 15-35 4-17 3-13 1-16-1-14-5-24-9-24-15-23-19-21-13-11-36-26-26-17-11-4-8-2-11 0zM-16 -32l8-2 8 0 9 4 10 8 10 11 6 11 4 11 1 11-3 10-4 9-6 8-8 7-11 7-13 7-11 3-11 1-13-4-11-8-4-5-2-6-1-13 5-27 7-15 7-10 9-10 6-4zM-11 -32l-13 5-11 11-11 16-6 16-2 25 2 13 3 5 6 6 11 4 10 1 11-2 11-4 14-7 8-6 7-8 5-8 3-8 1-8-1-11-4-11-6-8-11-11-10-8-9-3z"/>
<path fill="#ffed00" stroke="#ffed00" d="M-22 -165l14-2 11 0 11 3 10 4 33 22 40 33 19 20 15 23 11 24 3 14 2 13 1 14-1 16-7 30-7 19-9 18-8 17-9 13-18 20-11 9-10 6-14 7-13 5-28 5-16 1-16-1-16-2-15-4-15-5-16-8-24-17-11-10-11-12-11-15-8-13-8-17-5-14-5-16-2-16 0-27 5-27 10-23 15-23 25-27 30-25 32-21 14-7zM-15 -165l-12 3-11 4-13 7-16 10-36 27-15 14-12 14-16 22-11 24-4 13-3 13-1 28 2 13 3 16 5 14 7 15 8 15 10 16 11 13 11 11 13 11 12 8 16 8 13 5 16 5 14 2 13 1 16 0 27-4 14-3 13-6 11-6 12-8 10-8 9-10 10-14 9-16 17-38 8-30 2-16 0-13-4-25-9-24-12-22-19-23-19-16-29-23-28-18-11-5-11-3-10-1zM-11 -33l8 0 9 3 10 8 11 11 6 8 4 11 1 11-1 8-3 8-5 8-7 8-8 6-14 7-11 4-11 2-10-1-11-4-6-6-3-5-2-13 2-25 6-16 11-16 11-11 8-4zM-16 -30l-11 8-10 11-9 16-5 17 1 21 3 11 4 5 4 3 12 4 8 0 11-3 13-5 11-6 8-6 6-8 4-8 1-8 0-11-2-8-5-11-8-8-9-9-8-5-8-1z"/>
<path fill="#ffdd00" stroke="#ffdd00" d="M-19 -168l11-1 11 0 11 3 10 4 11 7 28 20 37 30 19 21 15 25 9 24 5 27 1 13-2 17-7 29-7 19-10 22-9 16-9 12-8 10-11 10-21 14-14 6-13 5-28 5-15 1-17-1-13-3-19-5-14-5-16-9-23-16-12-10-11-13-10-15-8-13-9-17-5-15-3-14-3-16 0-27 6-27 11-26 15-23 14-16 14-13 32-26 30-19 14-6zM-24 -165l-14 5-13 7-33 22-30 26-24 26-14 22-9 25-5 27 0 27 2 13 5 16 5 14 8 17 10 15 10 14 12 13 13 11 25 16 17 8 13 4 16 4 14 2 16 0 16-1 27-6 14-5 13-7 20-15 18-21 9-14 9-16 8-19 7-19 4-16 2-14 1-16-1-14-2-13-4-13-11-25-15-21-21-22-37-30-25-17-10-6-11-4-11-2-11 0zM-14 -30l11-1 8 3 9 5 10 11 7 9 3 8 2 9-1 10-2 8-5 9-6 7-8 6-14 6-11 4-11 2-8-1-10-4-5-4-3-6-3-10 1-22 4-15 11-18 11-11zM-11 -30l-11 5-9 9-12 19-5 13 0 16 3 17 7 8 11 4 11 0 11-2 10-3 9-5 8-6 5-7 4-8 2-8 1-8-1-9-4-8-5-8-10-10-9-6-8-3z"/>
<path fill="#ffcd00" stroke="#ffcd00" d="M-14 -170l11-1 11 1 11 4 11 5 46 34 29 26 19 23 12 21 6 14 4 13 3 25 1 13-2 16-4 17-4 16-17 37-9 17-10 13-10 10-9 9-23 14-13 6-14 4-14 3-16 2-16 0-16-2-14-3-17-5-13-5-16-9-12-8-13-10-12-12-11-13-11-16-8-15-5-12-6-17-3-15-2-16 2-28 6-26 11-25 8-12 9-12 13-14 16-14 38-29 16-11 13-7 11-4zM-21 -167l-11 3-14 6-16 10-16 11-33 26-16 17-11 12-14 23-6 13-5 14-5 27 0 27 6 27 5 15 9 17 8 14 10 14 11 13 12 10 23 16 16 9 14 5 19 5 13 3 17 1 16-1 28-5 26-11 13-8 11-8 17-19 10-14 9-16 8-19 7-19 5-16 3-16 1-16-1-14-5-25-10-26-16-24-20-21-37-31-36-24-10-4-11-3-11 0zM-8 -30l8 1 8 4 8 7 10 10 5 8 2 8 1 8-1 8-3 8-5 9-6 6-8 6-11 5-11 2-11 1-8-1-5-2-5-4-6-8-3-19 2-13 6-14 12-19 10-8zM-15 -27l-9 6-9 10-10 19-3 8-1 8 2 14 6 11 4 4 5 3 11 2 8-1 11-2 8-3 8-5 7-6 5-9 3-8 1-8-1-11-3-8-6-8-8-8-8-5-6-3-8-1z"/>
<path fill="#ffbc02" stroke="#ffbc02" d="M-24 -170l13-2 11 0 13 2 11 4 17 10 53 43 22 23 16 23 12 27 6 26 1 14-1 16-3 16-4 17-6 19-10 21-8 16-9 14-9 11-11 10-12 9-10 7-14 6-13 5-27 5-17 1-16-1-15-2-17-4-28-12-14-8-15-11-22-22-10-13-9-14-13-27-5-18-3-17-1-27 4-27 10-27 8-13 9-13 10-13 14-14 32-27 19-13 16-10 14-7zM-16 -170l-12 3-12 5-14 7-16 11-37 28-14 13-14 15-16 24-12 26-6 27-1 27 2 16 3 14 6 16 8 17 8 14 10 15 21 22 13 10 12 8 16 9 13 5 17 5 14 3 19 2 16 0 14-2 16-4 13-4 14-6 12-8 11-8 18-18 9-14 9-16 16-38 5-16 3-16 2-17-1-13-5-27-9-24-13-23-19-21-31-27-44-32-12-5-11-3-10-1zM-14 -28l9 0 8 2 8 5 8 7 7 9 4 8 2 8 0 8-2 8-4 8-4 7-8 7-9 4-8 3-11 2-8-1-10-3-8-7-5-12-2-13 4-14 10-19 9-11zM-17 -24l-10 8-9 13-7 16-2 14 3 11 3 5 4 5 11 6 13 1 8-2 8-2 9-5 6-5 4-6 4-8 2-8 0-8-2-8-4-8-7-9-9-7-5-3-8-3-6 0z"/>
<path fill="#ffa816" stroke="#ffa816" d="M-16 -173l13-1 11 1 11 3 12 5 12 8 37 30 23 20 20 23 14 25 9 24 5 27 0 13-1 17-3 16-4 16-16 38-8 16-10 14-17 18-11 9-13 8-14 7-13 4-14 4-16 2-16 0-19-1-16-3-17-5-14-6-15-8-13-8-14-11-11-10-12-14-10-14-8-14-8-18-5-16-3-14-2-16 0-27 6-27 12-27 16-24 14-15 16-15 41-31 27-16 10-4zM-24 -170l-11 3-14 7-16 10-19 13-32 27-14 14-10 13-9 13-8 13-10 27-4 27 1 27 3 17 5 18 13 27 9 14 10 13 22 22 15 11 14 8 28 12 17 4 15 2 16 1 17-1 27-5 13-5 14-6 10-7 12-9 11-10 9-11 9-14 8-16 10-21 6-19 4-17 3-16 1-16-1-14-6-26-12-27-16-23-22-23-53-43-17-10-11-4-13-2-11 0zM-16 -25l5-2 6 0 8 3 5 3 9 8 7 8 4 8 2 8 0 8-2 8-4 8-4 6-6 5-9 5-8 2-8 2-13-1-11-6-4-5-3-5-3-11 2-13 9-19 9-14zM-13 -24l-9 4-8 10-10 21-3 13 2 11 6 9 8 6 5 2 8 0 9 0 8-3 8-4 5-4 6-6 4-8 3-13-2-9-2-5-6-8-5-6-9-7-5-2-5-2z"/>
<path fill="#ff942a" stroke="#ff942a" d="M-24 -173l13-2 14 0 13 3 14 5 13 8 51 43 24 24 16 25 7 13 5 14 5 26 1 14 0 16-3 16-4 17-6 19-8 18-8 17-10 15-9 12-10 10-21 16-14 7-13 5-27 6-16 2-17-1-16-2-19-4-16-6-13-6-15-9-15-10-13-11-11-13-11-14-9-14-7-14-6-15-5-16-3-17-1-16 0-13 5-27 11-27 7-14 9-13 12-15 13-12 36-29 32-22 14-6zM-18 -173l-12 3-10 4-14 7-16 11-41 31-15 14-12 14-16 24-12 27-6 27-1 14 1 16 2 15 4 17 6 17 6 12 8 14 10 14 12 14 11 10 14 11 13 8 15 8 14 6 17 5 16 3 19 1 16 0 16-2 14-4 13-4 14-7 13-8 11-9 17-18 10-14 8-16 16-38 4-16 3-16 1-17 0-13-5-27-4-14-6-13-14-23-21-23-15-14-43-34-13-9-11-5-11-3-13-1zM-11 -25l8 1 6 2 8 5 6 6 9 14 2 5 1 8-2 8-3 6-5 8-5 5-14 7-8 2-8 0-11-2-9-7-3-5-3-6-1-10 4-14 10-19 7-9 6-3zM-15 -22l-8 6-7 9-8 18-3 13 3 11 6 8 10 6 11 1 14-3 8-5 5-4 8-12 3-12-1-6-3-8-6-8-6-6-6-5-8-3-5-1z"/>
<path fill="#ff803e" stroke="#ff803e" d="M-19 -176l14 0 13 1 14 3 11 5 16 10 51 45 21 23 16 24 6 14 5 13 5 27 0 14-1 16-2 16-5 19-15 38-8 16-9 14-19 20-10 8-14 9-13 7-14 4-13 4-16 2-17 1-16-1-16-3-19-5-13-5-17-8-13-8-14-10-13-12-11-12-10-13-10-16-8-16-5-17-4-16-3-16 0-16 0-14 6-27 5-13 7-14 8-13 10-14 12-14 17-16 48-36 11-7 11-5 10-4zM-26 -173l-12 4-13 6-36 25-33 27-12 13-11 14-15 25-11 27-5 27 0 13 1 16 3 17 5 16 6 15 7 14 9 14 11 14 11 13 13 11 15 10 15 9 13 6 16 6 19 4 16 2 17 1 16-2 27-6 13-5 14-7 13-9 11-9 10-11 8-11 8-13 8-17 8-18 7-22 4-16 2-16 0-17-1-13-6-27-5-14-7-13-18-24-23-24-49-41-13-8-14-5-13-3-14 0zM-14 -22l6-1 5 1 8 3 6 5 6 6 6 8 3 8 1 6-1 5-2 8-5 8-5 5-14 8-14 2-10-2-8-5-6-8-3-11 3-13 8-18 8-11zM-16 -19l-7 5-7 10-7 18-2 10 3 11 6 7 8 4 11 2 14-4 11-7 8-10 2-7 1-6-2-9-4-8-11-11-11-6-5-1z"/>
<path fill="#ff6c4f" stroke="#ff6c4f" d="M-27 -176l13-2 17 1 16 3 12 4 17 11 46 40 24 25 17 24 7 13 5 14 6 27 1 16 0 16-3 16-3 17-6 19-9 21-8 16-9 14-8 11-11 11-11 9-10 8-17 8-13 5-27 6-16 1-19-1-19-3-14-3-16-5-16-8-13-8-14-9-13-11-11-11-11-14-9-13-8-16-6-14-5-16-4-19-2-16 0-14 2-16 3-13 9-25 16-27 10-13 13-13 32-28 38-28 14-6zM-19 -176l-11 2-13 5-11 6-16 11-43 33-14 14-13 15-17 25-7 14-5 13-6 27 0 14 0 16 3 16 4 16 5 17 8 16 10 16 10 13 11 12 13 12 14 10 13 8 17 8 13 5 19 5 16 3 16 1 17-1 16-2 13-4 14-4 13-7 14-9 10-8 19-20 9-14 8-16 15-38 5-19 2-16 1-16 0-14-5-27-5-13-6-14-16-24-21-23-51-45-16-10-11-5-14-3-13-1zM-14 -20l6-1 8 2 11 7 5 5 5 7 3 8 1 6-1 6-2 7-8 10-11 7-14 4-11-2-8-4-6-7-3-11 2-10 7-18 8-11zM-15 -16l-7 5-8 11-5 14-1 10 1 6 2 5 6 6 8 4 11 0 13-4 10-9 7-10 1-11-3-8-3-6-12-11-5-3-5-1-6 0z"/>
<path fill="#ff5b45" stroke="#ff5b45" d="M-22 -179l17-1 16 2 16 5 11 5 13 9 49 44 12 12 12 14 15 24 11 27 5 27 0 16-1 14-2 16-5 19-6 19-8 19-8 16-9 14-11 13-11 10-21 16-16 8-14 5-13 3-16 2-30 0-16-3-22-5-13-5-17-8-13-8-16-12-13-11-12-14-12-16-8-13-7-16-6-17-4-16-2-16 0-30 2-16 4-13 10-25 16-24 14-16 15-15 54-43 8-5 11-5 11-4zM-28 -176l-15 5-11 5-40 30-30 26-13 13-10 13-16 27-6 14-4 13-2 14-2 16 2 30 4 16 5 16 6 14 8 16 9 13 11 14 11 11 13 11 14 9 13 8 16 8 19 6 14 3 18 3 19 0 17-1 13-3 16-5 14-5 11-6 13-10 11-10 10-11 8-11 10-16 7-16 9-22 5-19 3-16 2-16 0-14-1-16-4-16-6-19-8-16-11-16-21-25-52-46-14-10-10-5-11-3-21-3-11 1zM-14 -17l6-1 5 1 8 3 12 11 4 8 2 9-1 5-1 5-7 10-11 8-14 3-8 0-9-4-6-9-2-8 1-10 5-14 8-11zM-14 -14l-8 7-8 11-4 12 0 8 2 8 5 6 8 4 8 1 11-3 12-8 7-9 1-9-2-11-4-6-9-4-5-6-3-2-5 0z"/>
<path fill="#ff493b" stroke="#ff493b" d="M-22 -181l14-1 16 2 14 4 16 6 16 11 46 42 23 25 16 25 11 27 5 26 1 17 0 16-7 32-6 19-7 19-8 16-9 15-11 14-11 11-11 9-10 7-14 8-13 5-14 4-16 2-16 1-19-1-19-2-14-4-16-5-16-8-16-9-14-10-13-11-12-12-14-19-8-14-8-16-6-16-5-19-2-16 0-27 5-30 5-16 5-11 8-13 8-11 15-16 14-15 54-44 19-11 14-4zM-24 -178l-8 1-14 5-11 5-8 6-51 41-18 17-13 17-16 24-6 13-4 14-5 27 1 30 6 29 6 17 7 16 8 13 12 16 12 14 13 11 16 12 13 8 17 8 16 6 19 4 16 3 16 0 16 0 16-3 17-4 24-11 21-16 11-10 11-14 9-13 8-16 8-19 6-19 5-19 2-16 1-16-1-17-2-13-4-16-5-14-7-13-17-24-22-24-46-41-16-11-13-5-17-4-16-1zM-14 -14l6-1 5 0 3 2 5 6 9 4 4 6 2 11-1 9-7 9-12 8-11 3-8-1-8-4-5-7-2-9 1-8 4-11 8-11zM-13 -11l-6 5-8 10-4 10-1 8 2 8 4 5 7 4 8 1 11-2 11-8 6-8 1-8-2-8-2-5-3-1-11 0-3-3-2-8-3-1z"/>
<path fill="#ff3831" stroke="#ff3831" d="M-30 -184l11-1 11 0 24 5 25 10 16 11 51 49 20 24 10 16 8 16 6 19 4 16 1 16 0 17-2 16-3 16-5 19-7 19-9 19-8 13-10 14-10 12-11 10-11 8-13 8-14 7-16 5-16 3-17 1-19-1-32-5-30-11-16-9-16-10-14-11-12-13-11-13-10-14-9-16-7-16-6-19-3-14-2-27 3-29 3-14 5-16 7-16 7-11 11-13 15-17 44-37 14-15 8-6 14-7 11-5zM-22 -181l-10 2-14 4-19 11-54 44-14 15-17 19-14 21-5 11-5 16-5 30 0 27 2 16 5 19 6 16 8 16 8 14 14 19 12 12 13 11 14 10 16 9 16 8 16 5 14 4 19 2 19 1 16-1 16-2 14-4 13-5 14-8 10-7 11-9 11-11 11-14 9-15 8-16 7-19 6-19 7-32 0-16-1-17-5-26-11-27-16-25-23-25-46-42-16-11-16-6-14-4-16-2zM-11 -12l6 1 2 8 3 3 11 0 3 1 3 7 1 8-2 8-8 9-11 6-11 1-8-2-5-3-4-8-1-8 2-8 3-7 10-12zM-14 -5l-13 13-2 6-1 8 1 5 5 6 5 4 8 1 11-3 11-8 3-5 0-11 0-4-3-2-11-1-6-4-5-6z"/>
<path fill="#fe2727" stroke="#fe2727" d="M-40 -186l7-3 32 0 39 16 11 6 8 6 51 49 22 26 10 16 7 16 6 16 4 19 1 16 0 17-2 18-3 17-6 19-8 21-8 16-9 16-11 15-11 11-11 10-16 12-11 6-13 5-14 4-19 4-13 1-17-1-21-4-19-4-16-6-16-8-14-8-16-11-14-12-12-13-11-14-8-14-8-13-8-19-4-16-4-16-1-14 0-16 1-14 3-16 4-16 7-16 13-24 12-15 45-39 20-22 19-14zM-30 -184l-21 8-14 7-8 6-14 15-44 37-15 17-11 13-7 11-7 16-5 16-3 14-3 29 2 27 3 14 6 19 7 16 9 16 10 14 11 13 12 13 14 11 16 10 16 9 30 11 32 5 19 1 17-1 16-3 16-5 14-7 13-8 11-8 11-10 10-12 10-14 8-13 9-19 7-19 5-19 3-16 2-16 0-17-1-16-4-16-6-19-8-16-10-16-20-24-51-49-16-11-25-10-24-5-11 0zM-14 -6l3 0 5 6 6 4 11 1 3 2 0 4 0 11-3 5-11 8-11 3-8-1-5-4-5-6-1-5 1-8 2-6 8-10zM-15 0l-7 6-4 5-1 5 0 8 3 6 5 3 5 2 9-1 8-4 5-5 3-9 0-5-3-2-8-2-11-7-3-1z"/>
<path fill="#f81d1d" stroke="#f81d1d" d="M-65 -189l32 0-24 10-13 8-11 9-20 22-47 42-10 12-11 19-6 13-5 16-6 30 0 16 0 14 6 29 7 19 10 22 12 19 14 16 15 15 19 14 22 13 19 8 22 6 26 5 17 1 16-2 24-5 19-7 19-12 16-13 14-15 14-19 10-19 9-21 8-25 5-24 2-22-2-21-5-24-9-25-12-19-17-21-49-49-12-11-18-10-36-14 13 0 39 21 14 11 46 46 14 17 11 16 12 21 7 22 4 21 1 25-3 24-7 30-13 32-14 25-18 23-21 20-22 14-24 10-146 0 8-16-2-3-36-31-18-20-11-15-3-3-3-1-16 9 0-140 9-26 14-27 18-23 13-14 33-30 35-30 2-3-1-5zM-14 -1l14 8 8 2 3 2 0 3-2 8-3 5-7 5-10 3-5-1-6-2-4-5-1-5 0-8 3-5 8-9zM-17 5l-7 9-1 5 1 5 2 4 6 3 5 1 9-2 5-6 3-8 0-2-17-10-3-1z"/>
<path fill="#f11313" stroke="#f11313" d="M-97 -189l31 0 1 5-5 6-26 21-39 36-17 18-12 17-9 16-9 19-7 20 0-60 11 5 2 0 3-2 32-36 44-41 4-5 1-3-8-16zM14 -189l7 0 38 25 60 60 15 20 11 19 8 19 6 24 2 25-2 27-6 29-9 27-12 25-16 24-19 23-24 23 1 8-36 0 24-10 14-8 10-8 11-10 14-15 19-27 8-17 7-16 11-35 2-16 2-16-2-30-6-24-7-19-10-19-14-19-16-16-46-46-13-9-30-15-4-3zM-16 5l2-2 3 1 17 10 0 2-3 8-5 6-9 2-5-1-6-3-2-4-1-5 1-5zM-14 8l-8 8 0 6 3 4 3 1 5 1 6-1 2-3 3-8-2-2-6-5-3-1zM-176 101l3-1 3 1 32 38 36 31 2 3-8 16-81 0 0-80z"/>
<path fill="#ea0909" stroke="#ea0909" d="M-186 -189l86 0 8 16-1 3-4 5-42 38-12 14-19 22-6 5-2 0-11-5 0-98zM22 -189l7 0 13 11 22 16 56 57 14 19 10 16 8 19 7 21 3 19 1 22-2 21-6 25-10 29-11 25-21 31-20 28 0 6 7 13-26 0-1-8 24-23 19-23 16-24 12-25 10-32 6-27 1-27-3-27-5-19-8-19-11-19-12-17-14-15-46-46-11-8-27-16zM-14 8l3 0 6 3 3 3 2 2-3 8-2 3-3 1-8-1-3-1-3-4 0-6 3-4zM-14 16l-2 3 0 3 2 1 3-1 2-6-2-2z"/>
<path fill="#e30000" stroke="#e30000" d="M30 -189l6 0 11 11 23 19 54 57 12 16 11 19 8 18 5 19 4 22 0 22-3 24-5 24-9 24-8 19-33 57 1 5 13 22-20 0-7-13 0-6 18-24 20-30 11-22 10-26 7-27 3-27 0-25-4-21-6-19-7-16-9-17-12-16-13-15-44-44-36-27-2-3zM-14 15l3-1 2 2-1 6-4 1-2-1 0-3z"/>
<path fill="#d40000" stroke="#d40000" d="M38 -189l5 0 4 5 29 27 50 54 13 19 8 14 9 19 5 16 3 19 2 21-2 25-4 21-5 19-8 22-31 62 1 5 21 30-18 0-13-22-1-5 25-43 10-19 9-22 8-24 4-24 2-25-1-21-5-22-5-16-6-13-9-17-12-16-15-17-38-40-32-27-5-5z"/>
<path fill="#c60000" stroke="#c60000" d="M46 -189l5 0 2 5 5 6 47 50 23 25 12 17 8 13 8 16 5 17 5 21 2 19-1 22-3 21-4 16-7 22-26 59-2 8 2 4 30 37-19 0-22-32 2-9 21-40 9-19 8-21 5-22 4-24 1-22-2-22-6-21-11-27-8-14-11-16-15-17-37-40-29-27-4-5z"/>
<path fill="#b70000" stroke="#b70000" d="M54 -189l6 0 0 5 5 8 52 57 20 25 16 27 10 24 4 16 2 19 1 22-2 18-4 22-5 16-19 47-6 18-1 5 2 4 41 45-19 0-30-37-2-4 2-8 26-59 7-22 4-16 3-21 1-22-2-22-6-21-11-27-15-24-23-28-56-59-3-5-1-3z"/>
<path fill="#a80000" stroke="#a80000" d="M62 -189l7 0-1 8 2 5 11 14 44 49 15 19 13 21 11 24 5 19 3 19 0 19-1 19-3 16-4 19-17 49-5 16-1 5 5 7 43 40 0 10-13 0-41-45-2-4 1-5 6-18 19-47 5-16 4-22 2-21-1-22-3-19-5-19-11-24-11-19-20-24-56-62-3-6 0-5z"/>
<path fill="#9a0000" stroke="#9a0000" d="M70 -189l9 0-3 11 2 5 12 16 40 46 15 19 13 22 9 21 4 17 4 18 0 17-1 19-6 32-14 46-6 22 1 2 2 4 38 31 0 20-43-40-5-7 1-5 5-16 17-49 4-19 3-16 1-19 0-19-3-19-5-19-11-24-13-22-15-18-44-49-11-14-2-5 1-8z"/>
<path fill="#8a0000" stroke="#8a0000" d="M78 -187l1-2 11 0-6 13 2 6 14 19 37 43 12 16 14 25 9 21 4 16 3 16 1 14-1 16-5 27-15 53-2 12-1 5 3 5 30 21 0 20-38-31-2-4-1-2 6-22 14-46 6-32 1-19 0-17-4-18-3-14-10-24-13-22-15-19-40-46-12-16-2-5z"/>
<path fill="#7c0000" stroke="#7c0000" d="M89 -188l1-1 12 0-8 16 0 3 1 5 17 22 29 35 14 19 14 24 11 27 5 27-1 25-4 24-13 48-2 14 2 5 22 13 0 21-30-21-3-5 1-5 2-12 15-53 5-27 1-16-1-14-3-16-4-16-9-21-14-25-12-16-37-43-14-19-2-6z"/>
<path fill="#6e0000" stroke="#6e0000" d="M103 -189l17 0-15 24 1 6 10 13 36 43 14 19 13 25 10 27 0 59-11 41-2 13 2 4 11 5 0 28-22-13-2-5 2-14 13-48 4-24 1-25-5-27-11-27-14-24-14-19-29-35-17-22-1-5 0-3z"/>
<path fill="#6e0000" stroke="#6e0000" d="M119 -187l1-2 31 0-27 35-1 3 1 3 5 8 14 16 16 18 8 7 3 0 3-1 16-8 0 76-10-27-13-25-14-19-36-43-10-13-1-6zM189 27l0 63-11-5-2-4 2-13z"/>
<path fill="#6e0000" stroke="#6e0000" d="M151 -188l38-1 0 81-19 9-5-2-8-8-25-28-8-11-1-3 1-3z"/>
</g></g>
<line x1="724.7" y1="431.5" x2="728.7" y2="431.5" stroke="#222" stroke-width="0.9"/>
<line x1="721.6" y1="408.3" x2="725.5" y2="407.2" stroke="#222" stroke-width="0.9"/>
<line x1="712.7" y1="386.6" x2="716.1" y2="384.6" stroke="#222" stroke-width="0.9"/>
<line x1="698.4" y1="368.1" x2="701.3" y2="365.2" stroke="#222" stroke-width="0.9"/>
<line x1="679.9" y1="353.8" x2="681.9" y2="350.4" stroke="#222" stroke-width="0.9"/>
<line x1="658.2" y1="344.9" x2="659.3" y2="341.0" stroke="#222" stroke-width="0.9"/>
<line x1="635.0" y1="341.8" x2="635.0" y2="337.8" stroke="#222" stroke-width="0.9"/>
<line x1="611.8" y1="344.9" x2="610.7" y2="341.0" stroke="#222" stroke-width="0.9"/>
<line x1="590.1" y1="353.8" x2="588.1" y2="350.4" stroke="#222" stroke-width="0.9"/>
<line x1="571.6" y1="368.1" x2="568.7" y2="365.2" stroke="#222" stroke-width="0.9"/>
<line x1="557.3" y1="386.6" x2="553.9" y2="384.6" stroke="#222" stroke-width="0.9"/>
<line x1="548.4" y1="408.3" x2="544.5" y2="407.2" stroke="#222" stroke-width="0.9"/>
<line x1="545.3" y1="431.5" x2="541.3" y2="431.5" stroke="#222" stroke-width="0.9"/>
<line x1="548.4" y1="454.7" x2="544.5" y2="455.8" stroke="#222" stroke-width="0.9"/>
<line x1="557.3" y1="476.4" x2="553.9" y2="478.4" stroke="#222" stroke-width="0.9"/>
<line x1="571.6" y1="494.9" x2="568.7" y2="497.8" stroke="#222" stroke-width="0.9"/>
<line x1="590.1" y1="509.2" x2="588.1" y2="512.6" stroke="#222" stroke-width="0.9"/>
<line x1="611.8" y1="518.1" x2="610.7" y2="522.0" stroke="#222" stroke-width="0.9"/>
<line x1="635.0" y1="521.2" x2="635.0" y2="525.2" stroke="#222" stroke-width="0.9"/>
<line x1="658.2" y1="518.1" x2="659.3" y2="522.0" stroke="#222" stroke-width="0.9"/>
<line x1="679.9" y1="509.2" x2="681.9" y2="512.6" stroke="#222" stroke-width="0.9"/>
<line x1="698.4" y1="494.9" x2="701.3" y2="497.8" stroke="#222" stroke-width="0.9"/>
<line x1="712.7" y1="476.4" x2="716.1" y2="478.4" stroke="#222" stroke-width="0.9"/>
<line x1="721.6" y1="454.7" x2="725.5" y2="455.8" stroke="#222" stroke-width="0.9"/>
<text x="2.2" y="2.8" font-size="8" text-anchor="middle" fill="#2e2222" transform="translate(732.2 431.5) rotate(90)">0 °</text>
<text x="3.6" y="2.8" font-size="8" text-anchor="middle" fill="#2e2222" transform="translate(718.1 383.6) rotate(60)">30 °</text>
<text x="3.6" y="2.8" font-size="8" text-anchor="middle" fill="#2e2222" transform="translate(683.0 348.4) rotate(30)">60 °</text>
<text x="3.6" y="2.8" font-size="8" text-anchor="middle" fill="#2e2222" transform="translate(635.0 335.6) rotate(0)">90 °</text>
<text x="3.6" y="2.8" font-size="8" text-anchor="middle" fill="#2e2222" transform="translate(587.1 348.4) rotate(-30)">120 °</text>
<text x="3.6" y="2.8" font-size="8" text-anchor="middle" fill="#2e2222" transform="translate(551.9 383.6) rotate(-60)">150 °</text>
<text x="2.2" y="2.8" font-size="8" text-anchor="middle" fill="#2e2222" transform="translate(537.8 431.5) rotate(90)">180 °</text>
<text x="2.2" y="2.8" font-size="8" text-anchor="middle" fill="#2e2222" transform="translate(550.8 480.1) rotate(60)">210 °</text>
<text x="2.2" y="2.8" font-size="8" text-anchor="middle" fill="#2e2222" transform="translate(586.4 515.7) rotate(30)">240 °</text>
<text x="2.2" y="2.8" font-size="8" text-anchor="middle" fill="#2e2222" transform="translate(635.0 528.7) rotate(0)">270 °</text>
<text x="2.2" y="2.8" font-size="8" text-anchor="middle" fill="#2e2222" transform="translate(683.6 515.7) rotate(-30)">300 °</text>
<text x="2.2" y="2.8" font-size="8" text-anchor="middle" fill="#2e2222" transform="translate(719.2 480.1) rotate(-60)">330 °</text>
<circle cx="632.6" cy="420.5" r="31" fill="none" stroke="#303030" stroke-width="1"/>
<circle cx="632.6" cy="420.5" r="31" fill="none" stroke="#f4f4f4" stroke-width="1" stroke-dasharray="3.5 3"/>
<line x1="628.6" y1="420.5" x2="636.6" y2="420.5" stroke="#fff" stroke-width="1"/>
<line x1="632.6" y1="416.5" x2="632.6" y2="424.5" stroke="#fff" stroke-width="1"/>
<line x1="630.6" y1="420.5" x2="634.6" y2="420.5" stroke="#222" stroke-width="0.8"/>
<line x1="632.6" y1="418.5" x2="632.6" y2="422.5" stroke="#222" stroke-width="0.8"/>
<text x="649.4" y="421.1" font-size="9.2" text-anchor="middle" fill="#111" textLength="7.9" lengthAdjust="spacingAndGlyphs">-5</text>
<text x="620.6" y="421.1" font-size="9.2" text-anchor="middle" fill="#111" textLength="15.1" lengthAdjust="spacingAndGlyphs">+14</text>
<text x="649.4" y="449.9" font-size="9.2" text-anchor="middle" fill="#111" textLength="15.1" lengthAdjust="spacingAndGlyphs">+31</text>
<text x="675.6" y="435.5" font-size="9.2" text-anchor="middle" fill="#111" textLength="12.9" lengthAdjust="spacingAndGlyphs">-35</text>
<text x="663.7" y="406.8" font-size="9.2" text-anchor="middle" fill="#111" textLength="12.9" lengthAdjust="spacingAndGlyphs">-36</text>
<text x="635.0" y="394.9" font-size="9.2" text-anchor="middle" fill="#111" textLength="12.9" lengthAdjust="spacingAndGlyphs">-33</text>
<text x="606.3" y="406.8" font-size="9.2" text-anchor="middle" fill="#111" textLength="12.9" lengthAdjust="spacingAndGlyphs">-24</text>
<text x="594.4" y="435.5" font-size="9.2" text-anchor="middle" fill="#111" textLength="12.9" lengthAdjust="spacingAndGlyphs">-12</text>
<text x="606.3" y="464.2" font-size="9.2" text-anchor="middle" fill="#111" textLength="15.1" lengthAdjust="spacingAndGlyphs">+19</text>
<text x="635.0" y="476.1" font-size="9.2" text-anchor="middle" fill="#111" textLength="14.5" lengthAdjust="spacingAndGlyphs">+11</text>
<text x="663.7" y="464.2" font-size="9.2" text-anchor="middle" fill="#111" textLength="12.9" lengthAdjust="spacingAndGlyphs">-13</text>
<text x="635.0" y="374.6" font-size="9.2" text-anchor="middle" fill="#111" textLength="12.9" lengthAdjust="spacingAndGlyphs">-29</text>
<text x="608.6" y="380.6" font-size="9.2" text-anchor="middle" fill="#111" textLength="12.9" lengthAdjust="spacingAndGlyphs">-21</text>
<text x="587.4" y="397.5" font-size="9.2" text-anchor="middle" fill="#111" textLength="12.9" lengthAdjust="spacingAndGlyphs">-25</text>
<text x="575.6" y="421.9" font-size="9.2" text-anchor="middle" fill="#111" textLength="12.9" lengthAdjust="spacingAndGlyphs">-37</text>
<text x="575.6" y="449.1" font-size="9.2" text-anchor="middle" fill="#111" textLength="12.9" lengthAdjust="spacingAndGlyphs">-29</text>
<text x="587.4" y="473.5" font-size="9.2" text-anchor="middle" fill="#111" textLength="12.9" lengthAdjust="spacingAndGlyphs">-15</text>
<text x="608.6" y="490.4" font-size="9.2" text-anchor="middle" fill="#111" textLength="12.9" lengthAdjust="spacingAndGlyphs">-18</text>
<text x="635.0" y="496.4" font-size="9.2" text-anchor="middle" fill="#111" textLength="12.9" lengthAdjust="spacingAndGlyphs">-32</text>
<text x="661.4" y="490.4" font-size="9.2" text-anchor="middle" fill="#ffffff" textLength="12.9" lengthAdjust="spacingAndGlyphs">-42</text>
<text x="682.6" y="473.5" font-size="9.2" text-anchor="middle" fill="#111" textLength="12.9" lengthAdjust="spacingAndGlyphs">-32</text>
<text x="694.4" y="449.1" font-size="9.2" text-anchor="middle" fill="#111" textLength="12.9" lengthAdjust="spacingAndGlyphs">-32</text>
<text x="694.4" y="421.9" font-size="9.2" text-anchor="middle" fill="#111" textLength="12.9" lengthAdjust="spacingAndGlyphs">-25</text>
<text x="682.6" y="397.5" font-size="9.2" text-anchor="middle" fill="#111" textLength="12.9" lengthAdjust="spacingAndGlyphs">-12</text>
<text x="661.4" y="380.6" font-size="9.2" text-anchor="middle" fill="#111" textLength="12.9" lengthAdjust="spacingAndGlyphs">-21</text>
<circle cx="626.4" cy="432.9" r="2.6" fill="none" stroke="#8a1010" stroke-width="0.9"/>
<text x="628.5" y="436.1" font-size="9.2" fill="#111" textLength="15.1" lengthAdjust="spacingAndGlyphs">+46</text>
<circle cx="628.5" cy="444.5" r="14.5" fill="none" stroke="#fff" stroke-width="1"/>
<rect x="614.0" y="439.0" width="28.0" height="10.5" fill="#ffffff"/>
<text x="628.0" y="447.3" font-size="9.2" text-anchor="middle" fill="#111" textLength="24.6" lengthAdjust="spacingAndGlyphs">+62µm</text>
</svg></body></html>
